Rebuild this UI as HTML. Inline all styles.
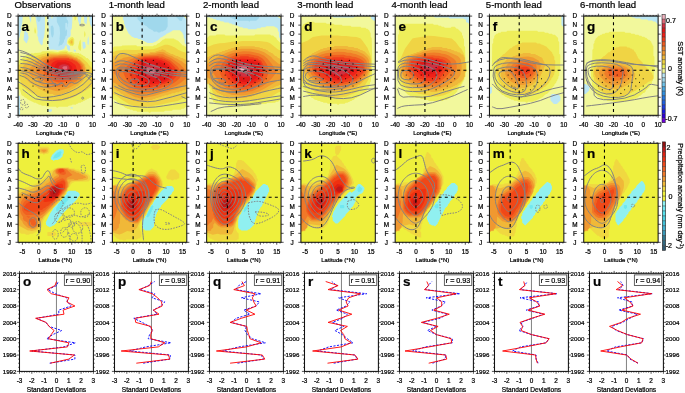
<!DOCTYPE html><html><head><meta charset="utf-8"><style>html,body{margin:0;padding:0;background:#fff;width:685px;height:393px;overflow:hidden;position:relative}</style></head><body><svg width="685" height="393" viewBox="0 0 685 393" style="position:absolute;left:0;top:0" font-family="'Liberation Sans', sans-serif">
<rect width="685" height="393" fill="#fff"/>
<clipPath id="ca0"><rect x="18.10" y="16.10" width="74.40" height="99.20"/></clipPath>
<g clip-path="url(#ca0)">
<rect x="18.10" y="16.10" width="74.40" height="99.20" fill="#f2f89c"/>
<path d="M19.1 16.1 22.7 16.1 22.6 19.1 22.2 23.0 20.8 29.0 21.5 30.0 21.3 31.0 20.3 33.0 19.6 36.9 18.1 40.8 18.1 16.1ZM29.0 16.1 31.4 16.1 31.0 23.0 29.6 19.1 29.0 16.1ZM36.0 16.1 44.5 16.1 44.9 17.1 45.0 27.0 44.6 33.0 43.9 37.4 42.9 40.2 42.7 43.9 41.9 45.4 39.9 43.6 39.4 42.9 39.4 41.9 38.4 40.9 38.1 36.9 37.3 35.9 37.6 31.0 37.2 30.0 37.1 27.0 35.2 16.1ZM47.9 16.2 51.2 16.1 51.8 19.0 52.5 18.1 52.9 16.1 71.9 16.1 72.4 17.1 72.2 23.0 71.7 29.0 70.7 30.0 70.8 34.9 69.8 36.9 68.7 37.3 67.3 38.9 66.7 43.9 68.7 45.6 69.8 45.9 70.1 46.9 69.8 48.8 70.3 49.8 69.7 50.4 68.7 50.7 67.1 48.8 66.7 45.7 65.7 45.3 64.1 48.8 61.7 49.7 57.8 50.3 52.8 49.6 50.8 49.8 49.2 48.8 48.2 44.9 48.8 31.0 48.5 26.0 47.8 25.0 47.2 22.1 48.0 21.1 47.3 18.1 47.7 17.1ZM78.6 16.1 81.4 16.1 80.6 23.4 80.2 25.0 79.6 25.3 77.9 20.1 77.6 16.1ZM84.6 16.1 87.4 16.1 86.5 24.9 86.2 24.0 84.6 23.0 84.1 21.1 84.0 16.1ZM89.5 16.1 92.5 16.1 92.5 35.6 91.5 33.0 92.2 28.0 89.9 24.0 89.9 22.1 89.3 21.1 89.5 18.1 89.0 16.1ZM25.0 28.4 25.8 30.0 25.8 31.0 27.0 32.5 27.9 33.0 27.9 34.9 28.5 35.9 28.6 37.9 26.9 42.9 26.0 43.3 25.4 41.9 23.6 39.9 24.6 29.0ZM87.5 29.2 87.5 33.7 87.5 30.0ZM88.5 36.2 88.9 41.9 88.5 45.3 87.5 44.0 87.4 42.9 87.5 39.5 88.1 36.9ZM82.6 41.7 84.9 41.9 85.8 45.9 85.5 47.8 83.6 49.2 82.6 47.1 82.5 41.9ZM18.2 46.9 19.0 49.8 18.1 51.5 18.1 46.5ZM73.7 49.8 74.6 49.5 75.6 50.3 76.1 50.8 75.6 51.7 74.6 51.6 73.8 50.8 73.6 49.8ZM19.1 95.4 20.1 96.5 20.1 114.3 19.1 115.3 18.1 115.3 18.1 95.2ZM70.7 107.3 72.7 107.3 72.7 108.4 70.7 108.4 70.6 107.4ZM48.9 109.3 51.8 109.3 51.9 111.3 50.8 111.4 49.8 112.4 47.8 110.3 48.8 109.3Z" fill="#bce6f4"/>
<path d="M36.9 16.1 41.0 16.1 40.4 20.1 39.9 21.2 38.9 21.7 37.9 21.4 36.9 18.7 36.6 16.1ZM56.8 16.1 66.3 16.1 66.6 19.1 67.7 20.3 68.3 22.1 67.7 27.5 67.4 27.0 67.5 24.0 66.7 22.7 65.4 23.0 65.3 27.0 65.7 31.0 66.7 28.9 67.2 31.0 66.7 35.8 65.7 35.9 65.0 38.9 64.1 39.9 63.9 41.9 61.7 45.1 59.8 45.3 58.8 46.7 58.5 44.9 59.8 39.9 59.5 38.9 60.1 33.0 59.5 27.0 56.9 22.1 56.7 16.1ZM50.8 25.9 52.8 25.4 53.7 28.0 53.8 33.9 52.8 37.4 51.8 36.9 51.0 34.0 50.6 29.0 50.8 26.0Z" fill="#a0d8ec"/>
<path d="M74.6 16.1 76.5 16.1 76.1 19.1 75.6 20.0 74.6 20.6 74.2 16.1ZM35.0 27.0 36.0 31.0 36.0 32.3 35.0 34.1 34.2 31.0 34.7 28.0ZM84.6 31.1 85.4 33.0 85.6 34.9 84.6 37.5 84.0 34.9 84.3 32.0ZM70.7 37.5 72.7 37.1 74.2 38.9 74.2 43.9 72.7 46.2 71.7 45.8 70.7 46.0 67.9 42.9 67.7 41.8 68.5 39.9 70.1 37.9ZM80.6 39.5 81.2 48.8 80.6 51.1 78.6 49.2 78.1 46.9 79.6 40.9 80.4 39.9ZM62.7 50.8 65.7 50.4 67.7 51.2 68.7 52.2 71.7 52.0 73.7 53.1 74.6 53.2 75.6 52.8 76.6 53.3 78.6 52.9 79.6 53.9 80.6 53.6 81.6 54.8 82.6 54.9 83.6 56.1 84.6 56.3 86.5 58.2 87.5 58.1 91.5 62.2 92.5 62.3 92.5 96.7 91.5 97.7 89.5 97.8 88.5 98.7 87.5 98.7 86.5 99.7 85.6 99.7 84.6 100.7 83.6 100.7 82.6 101.7 81.6 101.7 80.6 102.7 78.6 102.7 77.6 103.7 76.6 103.7 75.6 104.7 72.7 104.6 71.7 105.2 68.7 105.7 67.7 106.7 58.8 106.8 57.8 107.7 56.8 107.7 55.8 106.8 46.9 106.7 45.9 105.7 41.9 105.7 40.9 104.7 38.9 104.7 37.9 103.7 36.9 103.7 36.0 102.8 34.0 102.7 33.0 101.8 32.0 101.7 31.0 100.8 30.0 100.8 29.0 99.8 28.0 99.8 26.0 97.8 25.0 97.8 23.1 95.8 22.1 95.8 21.3 94.5 20.1 89.8 18.1 88.7 18.1 61.2 19.1 60.2 20.1 60.2 24.1 56.3 25.0 56.1 26.0 55.2 27.0 55.3 28.0 54.1 30.0 54.2 31.0 53.3 34.0 53.4 35.0 52.8 36.0 53.0 40.9 52.5 41.9 51.4 42.9 51.3 51.8 51.2 57.8 51.9 59.8 51.2 62.7 50.8Z" fill="#eeee5a"/>
<path d="M71.7 38.7 72.7 38.8 73.2 39.9 73.4 42.9 72.7 44.9 70.7 44.6 68.4 41.9 71.6 38.9ZM49.8 52.6 57.8 53.2 59.8 52.6 66.7 52.1 67.7 53.2 68.7 53.6 70.7 53.6 71.7 54.2 74.6 54.8 75.6 55.4 77.6 55.4 81.6 57.5 87.5 62.7 88.7 64.7 92.5 68.7 92.5 86.1 82.6 92.4 73.1 97.4 64.7 100.3 57.8 101.0 52.8 100.9 49.8 100.4 44.9 99.3 41.9 98.1 32.0 93.2 22.1 86.3 21.1 83.8 20.4 80.6 19.4 79.6 19.1 77.7 18.1 76.6 18.1 65.7 25.4 59.7 29.0 57.8 31.0 57.3 33.0 56.1 36.0 56.0 44.9 53.5 45.9 53.3 47.9 53.9 49.5 52.8Z" fill="#f0d444"/>
<path d="M71.7 40.4 72.2 40.9 72.3 42.9 71.7 43.4 70.9 42.9 70.6 41.9 71.1 40.9ZM49.8 54.1 57.8 54.3 65.7 53.9 68.7 54.3 69.7 55.1 71.7 55.2 72.7 56.1 73.7 56.2 74.6 57.1 76.6 57.1 78.6 59.0 79.6 59.1 85.3 64.7 85.3 66.7 86.3 67.7 86.4 73.6 85.4 74.6 85.4 76.6 84.4 77.6 84.4 78.6 83.4 79.6 83.4 80.6 77.6 86.3 76.6 86.3 74.6 88.3 73.7 88.3 72.7 89.2 71.7 89.3 69.7 91.2 68.7 91.2 67.7 92.2 65.7 92.2 64.7 93.1 63.7 93.1 62.7 94.1 60.8 94.1 59.8 95.1 53.8 95.1 52.8 94.1 49.8 94.1 48.9 93.1 46.9 93.1 45.9 92.1 44.9 92.1 43.9 91.1 42.9 91.1 41.9 90.1 40.9 90.1 39.9 89.1 38.9 89.1 36.9 87.1 36.0 87.1 34.0 85.2 33.0 85.1 31.0 83.2 30.0 83.1 24.5 77.6 24.5 76.6 22.5 74.6 22.6 72.6 21.6 71.7 21.7 68.7 22.7 67.7 22.7 66.7 26.0 63.3 27.0 63.3 28.0 62.3 29.0 62.3 30.0 61.3 31.0 61.3 32.0 60.3 33.0 60.2 34.0 59.3 35.0 59.3 36.0 58.4 37.9 58.2 38.9 57.2 40.9 57.2 41.9 56.2 44.9 56.1 45.9 55.2 47.9 55.4 49.2 54.8Z" fill="#f0b83a"/>
<path d="M60.8 54.7 65.7 54.8 70.7 55.9 74.6 57.8 76.6 58.0 78.6 59.7 79.6 60.1 83.9 64.7 85.1 68.7 84.9 72.6 83.8 75.6 81.5 79.6 77.2 83.6 68.7 88.1 57.8 91.2 55.8 91.1 48.9 88.9 40.9 84.6 38.4 82.6 36.9 78.3 34.0 77.6 33.0 77.7 31.6 76.6 30.0 74.6 28.5 71.7 28.3 69.7 29.0 68.7 36.0 62.6 42.9 57.9 48.9 56.3 50.8 55.2 57.8 55.2 60.1 54.8Z" fill="#f09a30"/>
<path d="M51.8 56.7 60.8 56.0 65.7 56.1 69.7 56.9 75.6 58.9 79.6 61.7 81.6 63.7 82.9 65.7 83.6 70.7 82.2 74.6 79.6 78.3 76.6 80.9 70.7 83.8 65.7 85.4 59.8 86.6 56.8 86.7 52.8 85.5 46.9 82.6 43.9 80.5 40.9 77.9 36.4 72.6 36.2 71.7 39.0 66.7 43.5 60.7 49.8 57.2 51.4 56.8Z" fill="#f07c28"/>
<path d="M53.8 57.6 64.7 57.4 68.7 57.8 69.7 58.4 72.7 58.8 73.7 59.7 74.6 59.8 76.6 60.8 80.6 64.4 81.8 66.7 82.1 70.7 80.8 73.6 78.6 76.3 75.6 78.7 68.7 81.5 58.8 82.5 55.0 81.6 51.8 80.1 48.9 78.2 45.9 75.6 43.9 72.6 43.6 69.7 45.2 63.7 46.1 61.7 49.9 58.8 53.3 57.8Z" fill="#f05c20"/>
<path d="M53.8 58.5 68.7 58.5 69.7 59.4 72.7 59.6 73.7 60.5 74.6 60.5 75.6 61.5 76.6 61.5 79.8 64.7 79.8 65.7 80.8 66.7 80.8 70.7 79.9 71.7 79.9 72.6 77.6 75.0 76.6 75.0 74.6 77.0 72.7 77.1 71.7 78.1 69.7 78.2 68.7 79.1 59.8 79.2 58.8 78.3 56.8 78.3 55.8 77.3 54.8 77.2 52.8 75.3 51.8 75.2 49.3 72.6 49.3 71.7 48.3 70.7 48.3 69.7 47.4 68.7 47.5 62.7 50.8 59.5 52.8 59.5 53.6 58.8Z" fill="#f03c1c"/>
<path d="M55.8 60.7 57.8 60.3 65.7 60.2 70.9 61.7 75.0 64.7 75.7 65.7 76.6 68.7 76.2 70.7 72.9 74.6 67.7 77.1 62.7 77.6 57.8 76.5 52.0 71.7 50.8 66.7 51.1 64.7 52.5 62.7 55.6 60.7Z" fill="#f02018"/>
<path d="M57.8 62.3 65.7 62.2 66.7 63.1 68.7 63.2 72.2 66.7 72.2 70.7 71.2 71.7 71.2 72.6 70.7 73.1 69.7 73.1 67.7 75.0 63.7 75.1 62.7 76.0 61.7 75.0 58.8 74.9 54.4 70.7 54.3 66.7 55.3 65.7 55.3 64.7 57.4 62.7Z" fill="#e01818"/>
<path d="M61.7 64.6 64.7 64.2 67.7 64.9 68.7 65.7 69.6 67.7 69.5 69.7 68.9 70.7 65.7 72.6 62.7 72.4 60.8 71.5 58.3 68.7 58.8 66.7 59.4 65.7 61.5 64.7Z" fill="#d03040"/>
<path d="M63.7 66.2 66.7 66.3 67.2 66.7 67.2 68.7 66.7 69.2 65.7 69.2 64.7 70.2 62.2 67.7 63.2 66.7Z" fill="#e06878"/>
<path d="M20.4 52.4 22.1 52.8 25.7 53.6 30.2 55.3 35.8 58.1 40.9 61.3 45.6 64.8 50.8 67.6 56.3 69.5 61.8 70.9 67.3 71.7 73.7 72.3 80.8 72.7 85.7 73.7 88.5 75.3 89.8 76.1M20.4 56.3 22.1 56.5 25.7 56.9 29.8 58.3 34.6 60.7 39.3 63.4 44.1 66.6 49.2 69.1 54.7 71.1 60.6 72.4 66.9 73.1 73.7 73.5 80.8 73.8 84.3 74.0M20.4 59.5 22.5 59.9 26.9 60.7 31.0 62.0 35.0 64.0 39.3 66.2 44.1 68.6 49.2 70.7 54.7 72.7 60.6 73.9 66.9 74.3 73.3 74.7 79.6 75.1 82.7 75.3M20.4 63.4 22.5 63.6 26.9 64.0 31.4 65.2 36.2 67.2 40.9 69.1 45.6 71.1 50.8 72.9 56.3 74.5 61.8 75.5 67.3 75.9 72.9 76.2 78.4 76.4 81.2 76.5M20.4 67.4 22.1 67.6 25.7 68.0 29.1 69.1 32.2 71.1 35.8 72.9 39.7 74.5 44.4 75.7 50.0 76.4 55.9 77.0 62.2 77.4 68.5 77.8 74.8 78.0 78.0 78.1M43.0 79.8 42.6 80.4 41.8 80.8 40.6 81.2 39.3 81.3 37.8 81.3 36.5 81.2 35.3 80.8 34.5 80.4 34.0 79.8 34.0 79.2 34.5 78.7 35.3 78.2 36.5 77.9 37.8 77.7 39.3 77.7 40.6 77.9 41.8 78.2 42.6 78.7 43.0 79.2ZM18.0 50.0 19.6 50.4 22.7 51.2 27.1 53.0 32.6 55.7 37.7 58.9 42.5 62.4 47.6 65.4 53.1 67.8 59.1 69.5 65.4 70.7 72.5 71.5 80.4 71.9 86.5 72.5 90.8 73.3 93.0 73.7M20.4 70.5 22.1 70.9 25.7 71.7 29.4 72.9 33.4 74.5 37.7 76.1 42.5 77.6 47.6 78.6 53.1 79.0 59.1 79.2 65.4 79.2 71.7 79.1 78.0 79.0 81.2 78.9M20.4 72.9 21.8 73.1 24.5 73.5 27.1 74.5 29.4 76.1 32.2 78.0 35.4 80.4 39.3 82.2 44.1 83.4 48.8 83.8 53.5 83.6 55.9 83.5M19.6 75.3 21.2 75.9 24.3 77.0 27.5 79.0 30.6 81.8 34.6 84.1 39.3 86.1 43.7 87.1 47.6 87.1 51.2 86.7 54.3 85.9 57.5 84.9 60.6 83.8 62.2 83.2M18.0 81.6 20.0 82.8 23.9 85.1 27.9 87.9 31.8 91.1 35.0 93.8 37.3 96.2 41.3 97.4 46.8 97.4 53.5 96.6 61.4 95.0 69.3 92.2 77.2 88.3 83.1 84.3 87.1 80.4 90.0 77.6 92.0 76.1 93.0 75.3M22.7 89.5 24.7 91.1 28.7 94.2 32.2 96.8 35.4 98.8 42.1 100.0 52.3 100.6 61.4 99.8 69.3 97.6 76.0 95.0 81.6 91.8 86.5 88.1 90.8 83.8 93.0 81.6M49.6 78.4 51.2 80.4 54.3 84.3 57.5 85.1 60.6 82.8 63.0 83.2 64.6 86.3 66.6 86.3 68.9 83.2 71.5 82.2 74.3 83.4 77.0 83.0 79.8 81.0 82.7 78.8 85.9 76.4 87.5 75.3M84.3 73.7 85.3 74.7 87.3 76.6 89.5 78.8 91.8 81.2 93.0 82.4M88.3 79.2 89.5 77.4 91.8 73.9 93.0 72.1M83.6 98.3 83.6 98.6 83.4 98.9 83.2 99.1 82.9 99.2 82.6 99.2 82.3 99.1 82.1 98.9 81.9 98.6 81.8 98.3 81.8 98.0 81.9 97.7 82.1 97.4 82.3 97.2 82.6 97.1 82.9 97.1 83.2 97.2 83.4 97.4 83.6 97.7 83.6 98.0ZM84.5 25.2 84.3 25.4 83.8 25.6 83.2 25.7 82.5 25.8 81.7 25.8 81.0 25.7 80.4 25.6 79.9 25.4 79.7 25.2 79.7 24.9 79.9 24.7 80.4 24.5 81.0 24.4 81.7 24.3 82.5 24.3 83.2 24.4 83.8 24.5 84.3 24.7 84.5 24.9Z" fill="none" stroke="#828282" stroke-width="1.0" stroke-linejoin="round"/>
<path d="M24.8 102.5 24.6 103.4 24.2 104.0 23.7 104.6 23.1 104.8 22.4 104.8 21.8 104.6 21.2 104.0 20.8 103.4 20.6 102.5 20.6 101.7 20.8 100.9 21.2 100.2 21.8 99.7 22.4 99.4 23.1 99.4 23.7 99.7 24.2 100.2 24.6 100.9 24.8 101.7ZM28.5 106.3 28.3 106.9 28.0 107.3 27.5 107.7 27.0 107.9 26.4 107.9 25.9 107.7 25.4 107.3 25.1 106.9 24.9 106.3 24.9 105.8 25.1 105.2 25.4 104.8 25.9 104.4 26.4 104.3 27.0 104.3 27.5 104.4 28.0 104.8 28.3 105.2 28.5 105.8ZM23.0 108.9 22.8 109.3 22.6 109.6 22.2 109.8 21.7 109.9 21.2 109.9 20.8 109.8 20.4 109.6 20.1 109.3 20.0 108.9 20.0 108.6 20.1 108.2 20.4 107.9 20.8 107.7 21.2 107.5 21.7 107.5 22.2 107.7 22.6 107.9 22.8 108.2 23.0 108.6Z" fill="none" stroke="#828282" stroke-width="1.0" stroke-dasharray="1.6 1.2"/>
<path d="M36.7 67.6h0.01M44.1 67.6h0.01M51.6 67.6h0.01M47.9 71.3h0.01M55.3 71.3h0.01M62.7 71.3h0.01M44.1 75.0h0.01M51.6 75.0h0.01M59.0 75.0h0.01M33.0 78.7h0.01M40.4 78.7h0.01M47.9 78.7h0.01M55.3 78.7h0.01M62.7 78.7h0.01M70.2 78.7h0.01M66.5 82.3h0.01M33.0 86.0h0.01M47.9 86.0h0.01M55.3 86.0h0.01M62.7 86.0h0.01M44.1 89.7h0.01M59.0 89.7h0.01" stroke="#000" stroke-width="1.15" stroke-linecap="round"/>
</g>
<path d="M15.50 16.10h2.60M92.50 16.10h2.60M15.50 25.12h2.60M92.50 25.12h2.60M15.50 34.14h2.60M92.50 34.14h2.60M15.50 43.15h2.60M92.50 43.15h2.60M15.50 52.17h2.60M92.50 52.17h2.60M15.50 61.19h2.60M92.50 61.19h2.60M15.50 70.21h2.60M92.50 70.21h2.60M15.50 79.23h2.60M92.50 79.23h2.60M15.50 88.25h2.60M92.50 88.25h2.60M15.50 97.26h2.60M92.50 97.26h2.60M15.50 106.28h2.60M92.50 106.28h2.60M15.50 115.30h2.60M92.50 115.30h2.60M18.10 16.10v-2.40M18.10 115.30v2.40M19.59 16.10v-1.20M19.59 115.30v1.20M21.08 16.10v-1.20M21.08 115.30v1.20M22.56 16.10v-1.20M22.56 115.30v1.20M24.05 16.10v-1.20M24.05 115.30v1.20M25.54 16.10v-1.20M25.54 115.30v1.20M27.03 16.10v-1.20M27.03 115.30v1.20M28.52 16.10v-1.20M28.52 115.30v1.20M30.00 16.10v-1.20M30.00 115.30v1.20M31.49 16.10v-1.20M31.49 115.30v1.20M32.98 16.10v-2.40M32.98 115.30v2.40M34.47 16.10v-1.20M34.47 115.30v1.20M35.96 16.10v-1.20M35.96 115.30v1.20M37.44 16.10v-1.20M37.44 115.30v1.20M38.93 16.10v-1.20M38.93 115.30v1.20M40.42 16.10v-1.20M40.42 115.30v1.20M41.91 16.10v-1.20M41.91 115.30v1.20M43.40 16.10v-1.20M43.40 115.30v1.20M44.88 16.10v-1.20M44.88 115.30v1.20M46.37 16.10v-1.20M46.37 115.30v1.20M47.86 16.10v-2.40M47.86 115.30v2.40M49.35 16.10v-1.20M49.35 115.30v1.20M50.84 16.10v-1.20M50.84 115.30v1.20M52.32 16.10v-1.20M52.32 115.30v1.20M53.81 16.10v-1.20M53.81 115.30v1.20M55.30 16.10v-1.20M55.30 115.30v1.20M56.79 16.10v-1.20M56.79 115.30v1.20M58.28 16.10v-1.20M58.28 115.30v1.20M59.76 16.10v-1.20M59.76 115.30v1.20M61.25 16.10v-1.20M61.25 115.30v1.20M62.74 16.10v-2.40M62.74 115.30v2.40M64.23 16.10v-1.20M64.23 115.30v1.20M65.72 16.10v-1.20M65.72 115.30v1.20M67.20 16.10v-1.20M67.20 115.30v1.20M68.69 16.10v-1.20M68.69 115.30v1.20M70.18 16.10v-1.20M70.18 115.30v1.20M71.67 16.10v-1.20M71.67 115.30v1.20M73.16 16.10v-1.20M73.16 115.30v1.20M74.64 16.10v-1.20M74.64 115.30v1.20M76.13 16.10v-1.20M76.13 115.30v1.20M77.62 16.10v-2.40M77.62 115.30v2.40M79.11 16.10v-1.20M79.11 115.30v1.20M80.60 16.10v-1.20M80.60 115.30v1.20M82.08 16.10v-1.20M82.08 115.30v1.20M83.57 16.10v-1.20M83.57 115.30v1.20M85.06 16.10v-1.20M85.06 115.30v1.20M86.55 16.10v-1.20M86.55 115.30v1.20M88.04 16.10v-1.20M88.04 115.30v1.20M89.52 16.10v-1.20M89.52 115.30v1.20M91.01 16.10v-1.20M91.01 115.30v1.20M92.50 16.10v-2.40M92.50 115.30v2.40" stroke="#111" stroke-width="0.75" fill="none"/>
<path d="M47.86 16.10V115.30M18.10 70.21H92.50" stroke="#000" stroke-width="1.1" stroke-dasharray="3 3.2" fill="none"/>
<rect x="18.10" y="16.10" width="74.40" height="99.20" fill="none" stroke="#111" stroke-width="1.05"/>
<clipPath id="ca1"><rect x="112.37" y="16.10" width="74.40" height="99.20"/></clipPath>
<g clip-path="url(#ca1)">
<rect x="112.37" y="16.10" width="74.40" height="99.20" fill="#f2f89c"/>
<path d="M122.3 16.1 183.6 16.1 185.8 18.6 186.8 18.6 186.8 44.5 185.8 44.3 184.6 42.9 184.6 38.9 183.6 37.9 183.6 34.9 182.6 34.0 182.6 33.0 179.8 30.3 172.9 30.3 171.9 31.3 170.9 31.4 169.9 32.4 168.9 32.4 167.9 33.4 166.9 33.4 164.9 35.4 164.0 35.4 162.0 37.3 161.0 37.3 157.0 41.1 156.0 41.2 155.0 42.2 154.0 42.1 153.0 43.1 147.1 43.1 146.1 42.1 145.1 42.1 144.1 41.1 143.1 41.1 142.1 40.1 141.1 40.1 140.1 39.1 138.2 39.1 137.2 38.1 134.2 38.1 133.2 37.1 132.2 37.1 128.1 33.0 128.1 32.0 127.1 31.0 127.1 30.0 126.1 29.0 126.1 28.0 125.1 27.0 125.1 25.0 124.1 24.0 124.1 21.1 123.1 20.1 123.1 17.1 122.1 16.1Z" fill="#bce6f4"/>
<path d="M138.2 16.1 166.7 16.1 166.7 17.1 167.7 18.1 167.6 27.0 166.5 28.0 166.5 29.0 164.9 30.5 164.0 30.5 163.0 31.5 161.0 31.6 160.0 32.6 158.0 32.6 157.0 31.6 154.0 31.7 152.1 29.8 151.1 29.8 150.1 28.8 149.1 28.8 146.1 25.8 145.1 25.8 143.1 23.8 142.1 23.8 137.4 19.1 137.4 16.1ZM176.9 16.1 183.0 16.1 183.2 18.1 182.3 19.1 182.3 20.1 181.8 20.7 179.8 20.7 176.2 17.1 176.2 16.1Z" fill="#a0d8ec"/>
<path d="M164.9 38.5 173.9 38.5 174.9 39.5 175.9 39.5 176.9 40.5 177.8 40.5 182.8 45.4 183.8 45.4 184.8 46.5 186.8 47.1 186.8 104.8 186.2 105.4 186.1 106.4 183.8 108.7 181.8 108.7 180.8 109.7 172.9 109.7 171.9 110.7 164.9 110.7 164.0 111.7 151.1 111.8 150.1 112.8 149.1 112.8 148.1 111.8 137.2 111.8 136.2 110.8 133.2 110.8 132.2 109.8 130.2 109.8 129.2 108.9 127.2 108.8 126.3 107.9 125.3 107.8 123.3 105.9 122.3 105.9 120.3 103.9 119.3 103.9 115.3 99.9 114.4 99.9 113.4 98.9 112.4 98.9 112.4 48.3 114.4 46.4 121.3 46.3 122.3 45.4 136.2 45.3 137.2 46.3 153.0 46.3 154.0 45.3 156.0 45.3 158.0 43.3 159.0 43.3 163.0 39.4 164.0 39.4 164.5 38.9Z" fill="#eeee5a"/>
<path d="M164.9 44.7 167.9 44.7 170.9 45.7 174.9 47.5 178.2 49.8 181.8 51.6 186.8 52.9 186.8 97.3 182.8 98.4 177.8 101.1 171.9 101.9 161.0 104.6 149.1 106.4 139.2 106.8 135.2 106.2 129.2 104.2 122.3 100.1 116.3 95.5 112.4 93.8 112.4 52.3 116.3 50.8 124.3 49.8 135.2 50.1 153.0 49.3 157.0 48.1 164.2 44.9Z" fill="#f0d444"/>
<path d="M162.0 49.2 163.0 49.2 164.0 50.2 164.9 50.1 166.9 52.1 167.9 52.0 168.9 53.0 169.9 53.0 170.9 54.0 172.9 54.0 173.9 55.0 174.9 55.0 175.9 56.0 177.8 56.1 178.8 57.1 179.8 57.1 180.8 58.1 182.8 58.1 183.8 59.1 184.8 59.1 186.8 61.0 186.8 88.2 184.8 90.2 182.8 90.2 181.8 91.2 179.8 91.2 178.8 92.2 175.9 92.2 174.9 93.2 171.9 93.2 170.9 94.2 168.9 94.2 167.9 95.2 164.9 95.2 164.0 96.2 162.0 96.2 161.0 97.2 159.0 97.2 158.0 98.1 156.0 98.1 155.0 99.1 153.0 99.1 152.1 100.1 149.1 100.1 148.1 101.0 144.1 101.0 143.1 102.0 137.2 102.0 136.2 101.0 133.2 101.0 132.2 100.0 131.2 100.0 130.2 99.0 129.2 99.0 128.2 98.0 127.2 98.0 126.3 97.0 125.3 97.0 122.3 94.0 121.3 94.0 118.3 91.0 117.3 91.0 115.3 89.0 114.4 89.0 113.4 88.0 112.4 88.0 112.4 57.3 113.4 56.3 114.4 56.3 115.3 55.3 120.3 55.2 121.3 54.3 137.2 54.1 138.2 53.1 149.1 53.0 150.1 52.1 155.0 52.1 156.0 51.2 158.0 51.1 159.0 50.2 161.0 50.2 161.4 49.8Z" fill="#f0b83a"/>
<path d="M157.0 52.6 160.0 51.9 164.0 52.2 165.9 53.6 169.9 55.5 171.9 56.0 174.9 57.9 176.9 58.5 179.8 60.5 181.8 61.2 184.8 63.7 186.8 64.7 186.8 84.1 184.8 85.0 182.8 86.5 176.9 89.2 170.9 90.6 166.9 92.3 164.0 92.7 154.0 95.9 141.1 98.4 139.2 98.3 137.2 97.5 135.2 97.3 129.2 94.3 127.2 93.2 123.3 90.0 117.3 84.7 115.3 83.3 112.4 82.2 112.4 63.0 114.4 62.1 117.3 60.0 121.3 59.0 123.3 57.8 137.2 55.4 139.2 54.5 143.1 54.1 149.1 54.0 151.1 53.3 155.0 53.3 156.5 52.8Z" fill="#f09a30"/>
<path d="M156.0 54.7 158.0 54.3 163.0 54.3 164.9 55.5 170.9 58.0 179.8 63.9 184.2 68.7 186.8 70.8 186.8 77.8 181.2 82.6 176.5 85.5 172.9 87.0 165.9 89.4 164.0 89.6 159.0 91.4 153.0 92.8 140.1 94.3 135.2 92.7 129.8 89.5 125.3 85.5 118.3 77.6 113.4 72.6 119.3 66.0 124.3 62.4 127.2 60.8 133.2 58.3 143.1 55.4 155.0 54.8Z" fill="#f07c28"/>
<path d="M144.1 56.5 158.0 56.0 160.0 56.7 162.0 56.5 169.9 59.9 177.8 66.7 180.9 71.7 181.7 74.6 179.4 78.6 174.6 82.6 170.9 84.4 168.9 84.8 165.9 86.3 163.0 86.7 159.0 88.3 155.0 88.7 152.1 89.7 142.1 90.3 137.2 89.1 133.2 86.6 128.8 82.6 125.4 77.6 123.2 72.6 123.9 70.7 126.3 66.9 129.6 63.7 135.2 60.0 138.2 58.5 143.3 56.8Z" fill="#f05c20"/>
<path d="M144.1 57.4 158.0 57.4 159.0 58.3 162.0 58.3 163.0 59.2 164.9 59.3 165.9 60.3 166.9 60.3 167.9 61.3 168.9 61.3 175.3 67.7 175.4 68.7 176.3 69.7 176.4 71.7 177.3 72.6 177.4 73.6 176.4 74.6 176.4 76.6 171.9 81.1 170.9 81.1 169.9 82.1 167.9 82.2 166.9 83.2 165.9 83.2 164.9 84.1 162.0 84.2 161.0 85.1 159.0 85.2 158.0 86.1 153.0 86.1 152.1 87.0 150.1 87.1 142.1 87.0 141.1 86.0 139.2 86.0 137.2 84.0 136.2 84.0 131.8 79.6 131.7 78.6 130.8 77.6 130.7 76.6 129.8 75.6 129.7 73.6 128.8 72.6 128.8 71.7 129.8 70.7 129.8 68.7 131.8 66.7 131.8 65.7 135.8 61.7 137.2 61.3 139.2 59.4 141.1 59.3 142.1 58.3 143.1 58.3 143.7 57.8Z" fill="#f03c1c"/>
<path d="M144.1 59.3 145.1 58.8 155.0 58.8 158.0 59.6 161.0 59.9 164.9 61.7 167.9 63.7 172.1 68.7 173.4 71.7 173.1 75.6 170.9 78.6 168.9 80.0 164.0 82.6 160.0 83.6 150.1 84.5 144.1 83.3 141.1 81.8 136.7 77.6 134.8 73.6 134.6 71.7 135.6 67.7 137.2 64.7 140.1 61.3 143.1 59.7Z" fill="#f02018"/>
<path d="M145.1 60.4 155.0 60.4 156.0 61.4 160.0 61.5 161.0 62.4 162.0 62.5 163.0 63.4 164.0 63.5 168.2 67.7 168.2 68.7 169.2 69.7 169.2 70.7 170.2 71.7 170.2 74.6 169.2 75.6 169.2 76.6 165.9 79.8 164.9 79.8 164.0 80.8 162.0 80.8 161.0 81.8 151.1 81.9 150.1 81.0 148.1 81.0 147.1 80.1 146.1 80.1 144.1 78.1 143.1 78.1 142.6 77.6 142.6 76.6 140.6 74.6 140.5 73.6 139.6 72.6 139.7 66.7 140.7 65.7 140.7 64.7 141.7 63.7 141.8 62.7 143.1 61.4 144.1 61.4 144.8 60.7Z" fill="#e01818"/>
<path d="M146.1 64.5 148.1 63.8 150.1 63.8 153.0 64.2 158.0 66.1 159.7 67.7 161.0 69.7 162.0 72.6 161.7 73.6 159.0 76.2 156.0 77.4 153.0 77.6 148.1 76.6 146.1 75.2 144.1 73.1 143.1 70.7 143.4 67.7 144.1 66.2 145.6 64.7Z" fill="#d03040"/>
<path d="M149.1 67.1 150.1 68.0 153.0 68.0 154.7 69.7 154.7 72.6 154.0 73.3 149.1 73.3 148.1 72.3 146.5 70.7 146.5 68.7 147.1 68.1 148.4 67.7Z" fill="#e06878"/>
<path d="M150.1 70.3 152.1 70.3 152.4 70.7 151.1 71.1 149.5 70.7Z" fill="#f0b4c0"/>
<path d="M115.2 59.5 115.9 58.1 117.5 55.3 119.9 53.8 123.1 53.4 127.4 54.3 132.9 56.7 138.4 59.3 144.0 62.0 149.9 64.4 156.2 66.4 162.5 68.2 168.8 69.7 175.8 70.9 183.3 71.7 187.0 72.1M115.2 62.6 116.7 62.0 119.9 60.9 123.8 60.9 128.6 62.0 134.1 63.6 140.4 65.6 146.7 67.6 153.1 69.5 159.4 71.1 165.7 72.3 173.4 73.3 182.5 74.1 187.0 74.5M115.2 65.8 116.7 65.2 119.9 64.0 123.8 64.0 128.6 65.2 134.1 66.6 140.4 68.2 146.7 69.7 153.1 71.3 159.4 72.8 165.7 74.2 173.4 75.3 182.5 76.1 187.0 76.5M117.3 68.4 120.1 67.2 124.2 67.2 129.8 68.4 135.3 69.7 140.8 71.3 145.6 72.9 149.5 74.5 153.4 76.3 157.4 78.2 159.8 80.2 160.6 82.2 159.8 84.3 157.4 86.7 153.1 88.3 146.7 89.1 140.4 89.1 134.1 88.3 128.6 86.7 123.8 84.3 120.3 81.6 117.9 78.4 116.5 74.9 116.1 70.9ZM132.1 79.2 137.7 79.2 139.2 80.6 136.9 83.4 134.9 84.7 133.3 84.7 131.7 83.4 130.2 80.6ZM119.9 71.9 123.1 71.5 127.4 71.9 132.9 73.1 138.1 74.5 142.8 76.1 146.3 77.8 148.7 79.8 149.1 82.0 147.5 84.3 144.0 85.5 138.4 85.5 132.9 84.5 127.4 82.6 123.3 80.4 120.5 78.0 118.9 75.7 118.5 73.3ZM116.7 69.7 118.3 69.5 121.5 68.9 127.0 69.2 134.9 70.3 142.4 71.6 149.5 73.0 156.6 74.5 163.7 76.1 168.8 77.8 172.0 79.8 172.4 82.2 170.0 84.9 166.5 87.3 161.7 89.3 155.4 90.7 147.5 91.4 139.6 91.4 131.7 90.7 125.4 89.1 120.7 86.7 118.3 85.5M114.4 86.3 116.1 87.1 119.7 88.7 124.2 90.5 129.8 92.4 135.3 94.0 140.8 95.2 146.7 95.0 153.1 93.4 159.8 91.6 166.9 89.7 174.6 87.9 182.9 86.3 187.0 85.5M114.4 92.6 116.1 93.4 119.7 95.0 125.0 97.0 132.1 99.3 139.6 100.9 147.5 101.7 155.4 101.1 163.3 99.1 172.2 96.8 182.1 94.0 187.0 92.6M114.4 102.1 116.1 102.7 119.7 103.9 125.0 105.1 132.1 106.3 139.6 107.0 147.5 107.4 155.4 107.0 163.3 105.9 172.2 104.5 182.1 102.9 187.0 102.1M181.5 96.6 182.9 97.2 185.6 98.4 187.0 98.9" fill="none" stroke="#828282" stroke-width="1.0" stroke-linejoin="round"/>
<path d="M138.4 60.3h0.01M145.8 60.3h0.01M153.3 60.3h0.01M134.7 63.9h0.01M142.1 63.9h0.01M149.6 63.9h0.01M157.0 63.9h0.01M164.4 63.9h0.01M131.0 67.6h0.01M138.4 67.6h0.01M145.8 67.6h0.01M153.3 67.6h0.01M160.7 67.6h0.01M168.2 67.6h0.01M127.2 71.3h0.01M134.7 71.3h0.01M142.1 71.3h0.01M149.6 71.3h0.01M157.0 71.3h0.01M164.4 71.3h0.01M131.0 75.0h0.01M138.4 75.0h0.01M145.8 75.0h0.01M153.3 75.0h0.01M160.7 75.0h0.01M168.2 75.0h0.01M127.2 78.7h0.01M134.7 78.7h0.01M142.1 78.7h0.01M149.6 78.7h0.01M157.0 78.7h0.01M164.4 78.7h0.01M131.0 82.3h0.01M138.4 82.3h0.01M145.8 82.3h0.01M153.3 82.3h0.01M160.7 82.3h0.01M168.2 82.3h0.01M134.7 86.0h0.01M142.1 86.0h0.01M149.6 86.0h0.01M157.0 86.0h0.01M164.4 86.0h0.01M145.8 89.7h0.01M153.3 89.7h0.01" stroke="#000" stroke-width="1.15" stroke-linecap="round"/>
</g>
<path d="M109.77 16.10h2.60M186.77 16.10h2.60M109.77 25.12h2.60M186.77 25.12h2.60M109.77 34.14h2.60M186.77 34.14h2.60M109.77 43.15h2.60M186.77 43.15h2.60M109.77 52.17h2.60M186.77 52.17h2.60M109.77 61.19h2.60M186.77 61.19h2.60M109.77 70.21h2.60M186.77 70.21h2.60M109.77 79.23h2.60M186.77 79.23h2.60M109.77 88.25h2.60M186.77 88.25h2.60M109.77 97.26h2.60M186.77 97.26h2.60M109.77 106.28h2.60M186.77 106.28h2.60M109.77 115.30h2.60M186.77 115.30h2.60M112.37 16.10v-2.40M112.37 115.30v2.40M113.86 16.10v-1.20M113.86 115.30v1.20M115.35 16.10v-1.20M115.35 115.30v1.20M116.83 16.10v-1.20M116.83 115.30v1.20M118.32 16.10v-1.20M118.32 115.30v1.20M119.81 16.10v-1.20M119.81 115.30v1.20M121.30 16.10v-1.20M121.30 115.30v1.20M122.79 16.10v-1.20M122.79 115.30v1.20M124.27 16.10v-1.20M124.27 115.30v1.20M125.76 16.10v-1.20M125.76 115.30v1.20M127.25 16.10v-2.40M127.25 115.30v2.40M128.74 16.10v-1.20M128.74 115.30v1.20M130.23 16.10v-1.20M130.23 115.30v1.20M131.71 16.10v-1.20M131.71 115.30v1.20M133.20 16.10v-1.20M133.20 115.30v1.20M134.69 16.10v-1.20M134.69 115.30v1.20M136.18 16.10v-1.20M136.18 115.30v1.20M137.67 16.10v-1.20M137.67 115.30v1.20M139.15 16.10v-1.20M139.15 115.30v1.20M140.64 16.10v-1.20M140.64 115.30v1.20M142.13 16.10v-2.40M142.13 115.30v2.40M143.62 16.10v-1.20M143.62 115.30v1.20M145.11 16.10v-1.20M145.11 115.30v1.20M146.59 16.10v-1.20M146.59 115.30v1.20M148.08 16.10v-1.20M148.08 115.30v1.20M149.57 16.10v-1.20M149.57 115.30v1.20M151.06 16.10v-1.20M151.06 115.30v1.20M152.55 16.10v-1.20M152.55 115.30v1.20M154.03 16.10v-1.20M154.03 115.30v1.20M155.52 16.10v-1.20M155.52 115.30v1.20M157.01 16.10v-2.40M157.01 115.30v2.40M158.50 16.10v-1.20M158.50 115.30v1.20M159.99 16.10v-1.20M159.99 115.30v1.20M161.47 16.10v-1.20M161.47 115.30v1.20M162.96 16.10v-1.20M162.96 115.30v1.20M164.45 16.10v-1.20M164.45 115.30v1.20M165.94 16.10v-1.20M165.94 115.30v1.20M167.43 16.10v-1.20M167.43 115.30v1.20M168.91 16.10v-1.20M168.91 115.30v1.20M170.40 16.10v-1.20M170.40 115.30v1.20M171.89 16.10v-2.40M171.89 115.30v2.40M173.38 16.10v-1.20M173.38 115.30v1.20M174.87 16.10v-1.20M174.87 115.30v1.20M176.35 16.10v-1.20M176.35 115.30v1.20M177.84 16.10v-1.20M177.84 115.30v1.20M179.33 16.10v-1.20M179.33 115.30v1.20M180.82 16.10v-1.20M180.82 115.30v1.20M182.31 16.10v-1.20M182.31 115.30v1.20M183.79 16.10v-1.20M183.79 115.30v1.20M185.28 16.10v-1.20M185.28 115.30v1.20M186.77 16.10v-2.40M186.77 115.30v2.40" stroke="#111" stroke-width="0.75" fill="none"/>
<path d="M142.13 16.10V115.30M112.37 70.21H186.77" stroke="#000" stroke-width="1.1" stroke-dasharray="3 3.2" fill="none"/>
<rect x="112.37" y="16.10" width="74.40" height="99.20" fill="none" stroke="#111" stroke-width="1.05"/>
<clipPath id="ca2"><rect x="206.64" y="16.10" width="74.40" height="99.20"/></clipPath>
<g clip-path="url(#ca2)">
<rect x="206.64" y="16.10" width="74.40" height="99.20" fill="#f2f89c"/>
<path d="M207.6 16.1 277.2 16.1 279.1 17.9 280.0 17.9 281.0 18.9 281.0 40.0 280.0 38.9 279.9 37.9 279.0 36.9 278.9 32.0 277.9 31.0 277.9 29.0 276.1 27.2 275.1 27.2 274.1 26.2 266.2 26.3 265.2 27.3 261.2 27.3 260.2 28.3 257.2 28.3 256.2 29.3 248.3 29.3 247.3 28.3 243.3 28.3 242.4 27.3 240.4 27.3 239.4 26.4 238.4 26.4 237.4 25.4 235.4 25.4 234.4 24.4 232.4 24.4 231.4 23.4 229.5 23.4 228.5 22.4 224.5 22.4 223.5 21.4 220.5 21.3 219.5 20.3 216.6 20.3 215.6 19.3 213.6 19.3 212.6 18.3 210.6 18.2 209.6 17.2 206.6 17.2 206.6 16.1Z" fill="#bce6f4"/>
<path d="M230.4 16.1 260.0 16.1 259.0 17.1 259.0 18.1 256.2 20.8 250.3 20.8 249.3 21.7 248.3 20.8 237.4 20.7 236.4 19.7 234.4 19.7 233.4 18.7 232.4 18.7 231.4 17.7 230.4 17.7 229.8 17.1 229.8 16.1Z" fill="#a0d8ec"/>
<path d="M216.6 34.6 224.5 34.6 225.5 35.5 237.4 35.5 238.4 36.5 239.4 35.5 254.3 35.5 255.2 34.5 270.1 34.6 271.1 35.6 273.1 35.6 275.1 37.5 276.1 37.6 276.5 37.9 276.5 38.9 281.0 43.5 281.0 97.9 280.5 98.4 280.4 99.4 278.1 101.8 276.1 101.8 275.1 102.8 267.2 102.9 266.2 103.8 259.2 103.9 258.2 104.9 251.3 104.9 250.3 105.9 228.5 105.9 227.5 104.9 222.5 104.9 221.5 103.9 218.5 103.9 217.6 102.9 215.6 102.9 214.6 101.9 213.6 101.9 213.1 101.4 213.1 100.4 211.1 98.4 211.0 96.5 210.1 95.5 209.9 88.5 208.9 87.5 208.7 84.5 207.6 84.4 206.6 83.4 206.6 38.6 209.6 35.6 215.6 35.6 216.2 34.9Z" fill="#eeee5a"/>
<path d="M231.4 41.7 234.4 41.4 237.4 41.8 242.4 40.9 259.2 40.9 267.2 42.0 270.1 43.3 278.1 49.5 281.0 50.7 281.0 91.6 278.1 92.5 272.1 95.9 266.2 97.3 263.2 98.5 257.2 99.6 256.2 100.2 249.3 101.1 247.3 101.9 230.4 101.9 227.5 100.9 224.5 100.7 220.5 99.4 217.6 98.2 215.2 96.5 213.4 93.5 211.3 88.5 209.1 84.5 208.6 84.1 207.6 84.0 206.6 83.0 206.6 47.5 213.6 44.6 219.5 43.2 224.5 42.9 230.6 41.9Z" fill="#f0d444"/>
<path d="M240.4 46.2 254.3 46.2 255.2 47.1 259.2 47.2 260.2 48.1 262.2 48.1 263.2 49.1 265.2 49.1 266.2 50.1 267.2 50.1 269.1 52.1 270.1 52.1 271.1 53.1 272.1 53.1 275.1 56.1 276.1 56.1 278.1 58.1 279.1 58.1 280.0 59.1 281.0 59.1 281.0 85.1 279.1 85.1 278.1 86.1 276.1 86.2 275.1 87.1 274.1 87.2 273.1 88.2 271.1 88.2 270.1 89.2 269.1 89.2 268.1 90.2 267.2 90.2 266.2 91.2 265.2 91.2 264.2 92.2 263.2 92.2 262.2 93.1 261.2 93.1 260.2 94.1 258.2 94.1 257.2 95.1 255.2 95.1 254.3 96.1 252.3 96.1 251.3 97.0 247.3 97.1 246.3 98.0 230.4 98.0 229.5 97.0 226.5 97.0 225.5 96.0 223.5 96.0 222.5 95.0 221.5 95.0 220.5 94.0 219.5 94.0 218.5 93.0 217.6 93.0 208.6 83.6 207.6 83.6 206.6 82.6 206.6 58.1 207.6 57.1 208.6 57.1 209.6 56.1 210.6 56.1 211.6 55.1 212.6 55.1 213.6 54.1 215.6 54.1 216.6 53.1 218.5 53.1 219.5 52.1 221.5 52.1 222.5 51.1 224.5 51.1 225.5 50.1 227.5 50.1 228.5 49.1 230.4 49.1 231.4 48.1 233.4 48.1 234.4 47.2 239.4 47.1 239.7 46.9Z" fill="#f0b83a"/>
<path d="M241.4 48.7 251.3 48.7 258.2 50.0 264.2 52.2 271.0 56.8 273.1 59.2 278.1 63.4 281.0 64.7 281.0 79.4 278.1 80.4 265.2 88.3 259.2 91.4 253.3 93.5 245.3 95.3 241.4 95.4 232.4 94.9 225.5 92.4 219.5 89.0 211.6 80.4 208.6 78.1 206.6 77.2 206.6 64.1 208.6 63.1 215.6 57.9 226.5 52.7 235.4 49.7 239.4 49.3 241.1 48.8Z" fill="#f09a30"/>
<path d="M240.4 51.8 243.3 51.3 250.3 51.5 259.2 53.4 264.1 55.8 267.5 58.8 271.6 63.7 276.6 71.7 276.4 72.6 271.7 78.6 266.4 83.6 262.2 86.5 252.3 90.9 244.3 92.4 241.4 92.4 233.4 91.3 226.5 88.2 221.5 84.5 219.7 82.6 211.7 70.7 216.1 63.7 221.9 58.8 227.5 55.3 230.4 54.0 233.4 53.0 239.9 51.8Z" fill="#f07c28"/>
<path d="M239.4 54.5 248.3 54.0 254.3 55.2 258.2 56.1 262.2 58.3 263.7 59.7 267.1 64.7 268.7 71.7 267.2 76.6 263.7 81.6 261.2 83.7 252.3 88.0 246.3 89.3 242.4 89.5 233.5 87.5 229.9 85.5 224.0 80.6 220.9 75.6 219.8 71.7 219.7 70.7 221.5 64.7 223.7 61.7 228.7 57.8 234.4 55.4 238.6 54.8Z" fill="#f05c20"/>
<path d="M240.4 56.3 248.3 56.3 249.3 57.2 253.3 57.2 254.3 58.2 257.2 58.2 259.2 60.1 260.2 60.1 261.8 61.7 261.9 62.7 262.9 63.7 262.9 64.7 263.9 65.7 263.8 75.6 262.8 76.6 262.8 77.6 261.8 78.6 261.7 79.6 259.2 82.1 258.2 82.1 257.2 83.1 256.2 83.1 255.2 84.1 254.3 84.1 253.3 85.0 252.3 85.1 251.3 86.0 247.3 86.1 246.3 87.0 242.4 87.0 241.4 86.1 238.4 86.1 237.4 85.1 235.4 85.1 233.4 83.1 232.4 83.1 226.9 77.6 226.9 76.6 225.9 75.6 225.9 74.6 224.9 73.6 225.0 65.7 225.9 64.7 226.0 63.7 230.4 59.3 231.4 59.2 232.4 58.3 234.4 58.2 235.4 57.3 239.4 57.2 239.9 56.8Z" fill="#f03c1c"/>
<path d="M236.4 59.3 242.4 58.8 252.3 59.3 257.2 60.6 260.2 62.3 262.5 66.7 262.7 68.7 262.1 73.6 259.2 78.6 256.2 80.9 252.3 82.9 244.3 84.5 239.4 83.5 236.4 82.4 234.1 80.6 230.8 76.6 228.7 72.6 228.2 66.7 229.1 63.7 230.9 61.7 233.4 60.3 235.4 59.7Z" fill="#f02018"/>
<path d="M236.4 61.3 253.3 61.4 254.3 62.4 257.2 62.5 258.2 63.5 259.2 63.5 260.4 64.7 260.4 66.7 261.4 67.7 261.4 68.7 260.4 69.7 260.4 72.6 258.5 74.6 258.5 75.6 255.2 78.9 254.3 78.9 253.3 79.9 252.3 79.9 251.3 80.9 247.3 81.0 246.3 81.9 244.3 81.9 242.4 81.9 241.4 81.0 239.4 80.9 238.4 80.0 237.4 80.0 236.0 78.6 235.9 77.6 233.9 75.6 233.8 74.6 232.9 73.6 232.8 72.6 231.9 71.7 231.9 66.7 231.0 65.7 231.0 64.7 233.4 62.3 235.4 62.3 236.0 61.7Z" fill="#e01818"/>
<path d="M237.4 64.2 239.4 63.7 245.3 63.7 249.3 64.5 251.3 65.4 254.3 68.7 253.3 72.6 251.4 74.6 248.3 76.4 244.3 77.1 239.4 76.0 237.0 74.6 234.1 70.7 234.0 68.7 234.7 65.7 236.4 64.7Z" fill="#d03040"/>
<path d="M239.4 66.2 245.3 66.2 246.3 67.1 247.3 67.1 247.9 67.7 248.0 70.7 246.3 72.3 238.4 72.2 235.9 69.7 236.9 68.7 236.9 67.7 237.4 67.1 238.4 67.1 238.8 66.7Z" fill="#e06878"/>
<path d="M240.4 68.3 244.3 68.3 245.7 69.7 244.3 70.1 239.4 70.0 238.9 69.7 239.8 68.7Z" fill="#f0b4c0"/>
<path d="M209.2 59.5 210.3 58.5 212.7 56.5 215.5 55.3 218.6 54.9 223.0 55.7 228.5 57.7 234.4 59.9 240.7 62.2 247.4 64.0 254.6 65.2 263.8 66.2 275.3 67.0 281.0 67.4M209.2 62.6 210.7 61.6 213.9 59.7 217.4 58.7 221.4 58.7 226.1 59.7 231.7 61.6 237.6 63.6 243.9 65.6 250.6 67.2 257.7 68.4 266.2 69.1 276.1 69.5 281.0 69.7M209.2 65.8 210.7 64.8 213.9 62.8 217.8 62.0 222.6 62.4 228.1 63.6 234.4 65.6 240.7 67.6 247.1 69.5 253.4 71.1 259.7 72.3 267.4 73.1 276.5 73.5 281.0 73.7M211.3 68.0 214.1 66.0 218.2 65.4 223.8 66.2 229.7 67.6 236.0 69.5 241.1 71.3 245.1 72.9 248.2 74.7 250.6 76.6 251.0 79.2 249.4 82.4 246.7 85.1 242.7 87.5 238.0 88.9 232.4 89.3 226.9 88.9 221.4 87.7 216.9 85.3 213.3 81.8 211.1 77.2 210.3 71.7ZM212.3 71.3 215.5 69.7 220.2 69.3 226.5 70.1 231.7 71.7 235.6 74.1 238.0 76.6 238.8 79.4 238.0 82.0 235.6 84.3 231.7 85.5 226.1 85.5 221.0 84.3 216.3 82.0 213.1 78.6 211.5 74.3ZM214.7 78.4 219.4 78.4 223.0 79.0 225.3 80.2 225.7 81.6 224.2 83.2 221.4 83.2 217.4 81.6 214.7 80.2 213.1 79.0ZM210.7 70.5 212.7 69.8 216.7 68.4 223.4 68.2 232.8 69.2 241.5 70.7 249.4 72.7 255.7 74.9 260.5 77.2 262.5 79.8 261.7 82.6 259.3 84.9 255.3 86.9 250.2 88.9 243.9 90.9 236.8 91.8 228.9 91.8 221.8 90.9 215.5 88.9 212.3 87.9M209.2 83.9 211.1 85.3 215.1 88.1 220.2 90.3 226.5 91.8 232.8 92.4 239.2 92.0 245.1 90.9 250.6 88.9 256.5 86.5 262.8 83.8 269.8 81.8 277.3 80.6 281.0 80.0M209.2 92.6 211.5 93.6 216.3 95.6 222.2 97.0 229.3 97.8 237.2 97.6 245.9 96.4 254.2 94.6 262.1 92.2 269.8 90.3 277.3 88.7 281.0 87.9M209.2 98.2 212.3 98.9 218.6 100.5 225.7 101.5 233.6 101.9 241.5 101.6 249.4 100.7 257.3 99.5 265.2 98.1 272.1 97.0 278.0 96.2 281.0 95.8M209.2 102.9 213.1 103.3 221.0 104.1 230.1 104.5 240.3 104.5 249.4 103.9 257.3 102.7 266.2 101.3 276.1 99.7 281.0 98.9M210.7 111.6 213.1 110.5 217.8 108.3 224.6 106.9 233.2 106.3 243.5 105.5 255.3 104.3 261.3 103.7" fill="none" stroke="#828282" stroke-width="1.0" stroke-linejoin="round"/>
<path d="M232.7 60.3h0.01M240.1 60.3h0.01M247.6 60.3h0.01M255.0 60.3h0.01M229.0 63.9h0.01M236.4 63.9h0.01M243.8 63.9h0.01M251.3 63.9h0.01M258.7 63.9h0.01M225.2 67.6h0.01M232.7 67.6h0.01M240.1 67.6h0.01M247.6 67.6h0.01M255.0 67.6h0.01M262.4 67.6h0.01M221.5 71.3h0.01M229.0 71.3h0.01M236.4 71.3h0.01M243.8 71.3h0.01M251.3 71.3h0.01M258.7 71.3h0.01M266.2 71.3h0.01M225.2 75.0h0.01M232.7 75.0h0.01M240.1 75.0h0.01M247.6 75.0h0.01M255.0 75.0h0.01M262.4 75.0h0.01M221.5 78.7h0.01M229.0 78.7h0.01M236.4 78.7h0.01M243.8 78.7h0.01M251.3 78.7h0.01M258.7 78.7h0.01M266.2 78.7h0.01M225.2 82.3h0.01M232.7 82.3h0.01M240.1 82.3h0.01M247.6 82.3h0.01M255.0 82.3h0.01M262.4 82.3h0.01M229.0 86.0h0.01M236.4 86.0h0.01M243.8 86.0h0.01M251.3 86.0h0.01M258.7 86.0h0.01M240.1 89.7h0.01M247.6 89.7h0.01" stroke="#000" stroke-width="1.15" stroke-linecap="round"/>
</g>
<path d="M204.04 16.10h2.60M281.04 16.10h2.60M204.04 25.12h2.60M281.04 25.12h2.60M204.04 34.14h2.60M281.04 34.14h2.60M204.04 43.15h2.60M281.04 43.15h2.60M204.04 52.17h2.60M281.04 52.17h2.60M204.04 61.19h2.60M281.04 61.19h2.60M204.04 70.21h2.60M281.04 70.21h2.60M204.04 79.23h2.60M281.04 79.23h2.60M204.04 88.25h2.60M281.04 88.25h2.60M204.04 97.26h2.60M281.04 97.26h2.60M204.04 106.28h2.60M281.04 106.28h2.60M204.04 115.30h2.60M281.04 115.30h2.60M206.64 16.10v-2.40M206.64 115.30v2.40M208.13 16.10v-1.20M208.13 115.30v1.20M209.62 16.10v-1.20M209.62 115.30v1.20M211.10 16.10v-1.20M211.10 115.30v1.20M212.59 16.10v-1.20M212.59 115.30v1.20M214.08 16.10v-1.20M214.08 115.30v1.20M215.57 16.10v-1.20M215.57 115.30v1.20M217.06 16.10v-1.20M217.06 115.30v1.20M218.54 16.10v-1.20M218.54 115.30v1.20M220.03 16.10v-1.20M220.03 115.30v1.20M221.52 16.10v-2.40M221.52 115.30v2.40M223.01 16.10v-1.20M223.01 115.30v1.20M224.50 16.10v-1.20M224.50 115.30v1.20M225.98 16.10v-1.20M225.98 115.30v1.20M227.47 16.10v-1.20M227.47 115.30v1.20M228.96 16.10v-1.20M228.96 115.30v1.20M230.45 16.10v-1.20M230.45 115.30v1.20M231.94 16.10v-1.20M231.94 115.30v1.20M233.42 16.10v-1.20M233.42 115.30v1.20M234.91 16.10v-1.20M234.91 115.30v1.20M236.40 16.10v-2.40M236.40 115.30v2.40M237.89 16.10v-1.20M237.89 115.30v1.20M239.38 16.10v-1.20M239.38 115.30v1.20M240.86 16.10v-1.20M240.86 115.30v1.20M242.35 16.10v-1.20M242.35 115.30v1.20M243.84 16.10v-1.20M243.84 115.30v1.20M245.33 16.10v-1.20M245.33 115.30v1.20M246.82 16.10v-1.20M246.82 115.30v1.20M248.30 16.10v-1.20M248.30 115.30v1.20M249.79 16.10v-1.20M249.79 115.30v1.20M251.28 16.10v-2.40M251.28 115.30v2.40M252.77 16.10v-1.20M252.77 115.30v1.20M254.26 16.10v-1.20M254.26 115.30v1.20M255.74 16.10v-1.20M255.74 115.30v1.20M257.23 16.10v-1.20M257.23 115.30v1.20M258.72 16.10v-1.20M258.72 115.30v1.20M260.21 16.10v-1.20M260.21 115.30v1.20M261.70 16.10v-1.20M261.70 115.30v1.20M263.18 16.10v-1.20M263.18 115.30v1.20M264.67 16.10v-1.20M264.67 115.30v1.20M266.16 16.10v-2.40M266.16 115.30v2.40M267.65 16.10v-1.20M267.65 115.30v1.20M269.14 16.10v-1.20M269.14 115.30v1.20M270.62 16.10v-1.20M270.62 115.30v1.20M272.11 16.10v-1.20M272.11 115.30v1.20M273.60 16.10v-1.20M273.60 115.30v1.20M275.09 16.10v-1.20M275.09 115.30v1.20M276.58 16.10v-1.20M276.58 115.30v1.20M278.06 16.10v-1.20M278.06 115.30v1.20M279.55 16.10v-1.20M279.55 115.30v1.20M281.04 16.10v-2.40M281.04 115.30v2.40" stroke="#111" stroke-width="0.75" fill="none"/>
<path d="M236.40 16.10V115.30M206.64 70.21H281.04" stroke="#000" stroke-width="1.1" stroke-dasharray="3 3.2" fill="none"/>
<rect x="206.64" y="16.10" width="74.40" height="99.20" fill="none" stroke="#111" stroke-width="1.05"/>
<clipPath id="ca3"><rect x="300.91" y="16.10" width="74.40" height="99.20"/></clipPath>
<g clip-path="url(#ca3)">
<rect x="300.91" y="16.10" width="74.40" height="99.20" fill="#f2f89c"/>
<path d="M329.7 16.1 356.0 16.1 355.5 16.6 354.5 16.6 353.5 17.6 333.6 17.6 332.7 16.6 329.7 16.6 329.2 16.1ZM371.3 16.1 375.3 16.1 375.3 21.6 374.3 20.6 373.3 20.6 370.8 18.1 370.8 16.1Z" fill="#bce6f4"/>
<path d="M307.9 21.8 313.8 21.8 314.8 22.8 325.7 22.8 326.7 23.8 333.6 23.7 334.6 24.7 341.6 24.7 342.6 25.7 350.5 25.7 351.5 26.7 360.4 26.7 361.4 27.7 365.4 27.7 366.4 28.7 367.4 28.7 369.7 31.0 369.7 32.0 370.7 33.0 370.7 36.9 371.7 37.9 372.2 58.8 372.0 76.6 371.1 77.6 370.9 81.6 370.0 82.6 369.9 84.5 368.9 85.5 368.9 87.5 366.9 89.5 366.9 90.5 364.4 93.0 363.4 93.0 361.4 95.0 360.4 95.0 358.4 96.9 357.5 96.9 356.5 97.9 355.5 97.9 353.5 99.9 352.5 99.9 351.5 100.9 350.5 100.9 349.5 101.8 348.5 101.9 347.5 102.8 345.6 102.8 344.6 103.8 339.6 103.8 338.6 104.8 337.6 104.8 336.6 103.8 327.7 103.8 326.7 102.8 323.7 102.8 322.7 101.9 320.8 101.8 319.8 100.9 317.8 100.8 316.8 99.9 314.8 99.8 312.8 97.9 311.8 97.9 306.9 92.9 306.4 92.5 306.4 91.5 301.9 87.0 300.9 87.0 300.9 28.7 301.6 28.0 301.7 27.0 302.6 26.0 302.7 25.0 303.9 23.8 304.9 23.8 305.9 22.8 306.9 22.8 307.6 22.1Z" fill="#eeee5a"/>
<path d="M318.8 35.9 321.7 35.5 337.6 35.4 341.6 35.9 346.5 35.9 351.5 36.8 356.5 37.1 359.4 37.9 360.4 38.2 362.7 40.9 367.4 47.8 370.7 55.8 371.3 58.8 371.3 68.7 370.2 75.6 368.5 79.6 364.8 85.5 362.4 88.5 356.5 92.2 345.6 96.8 335.6 97.9 331.7 97.8 325.7 96.8 317.1 93.5 312.8 90.5 304.9 82.7 300.9 80.4 300.9 43.3 307.9 40.4 312.8 37.1 318.6 35.9Z" fill="#f0d444"/>
<path d="M334.6 46.1 347.5 46.1 348.5 47.1 353.5 47.1 354.5 48.1 357.5 48.1 358.4 49.1 359.4 49.1 360.4 50.1 362.4 50.2 363.4 51.2 364.4 51.2 369.7 56.8 369.7 57.8 370.6 58.8 370.7 63.7 370.7 68.7 369.8 69.7 369.8 72.6 368.9 73.6 368.9 74.6 367.9 75.6 367.9 76.6 359.4 85.3 358.4 85.3 356.5 87.2 355.5 87.2 354.5 88.2 352.5 88.2 351.5 89.2 349.5 89.3 348.5 90.2 345.6 90.3 344.6 91.2 335.6 91.3 334.6 92.2 333.6 92.2 332.7 91.2 326.7 91.2 325.7 90.2 323.7 90.2 322.7 89.2 321.7 89.2 320.8 88.2 319.8 88.2 317.8 86.3 316.8 86.2 314.8 84.3 313.8 84.2 306.2 76.6 306.2 75.6 304.2 73.6 304.1 71.7 303.1 70.7 303.1 68.7 303.1 66.7 304.1 65.7 304.1 62.7 305.0 61.7 305.0 60.7 307.0 58.8 307.0 57.8 309.8 54.9 310.8 54.9 312.8 53.0 313.8 52.9 314.8 52.0 315.8 52.0 316.8 51.0 317.8 51.0 318.8 50.0 319.8 50.0 320.8 49.0 322.7 49.0 323.7 48.0 326.7 48.0 327.7 47.0 333.8 46.9Z" fill="#f0b83a"/>
<path d="M329.7 49.7 333.6 49.6 336.6 48.8 345.6 48.9 347.5 49.7 351.5 49.9 353.5 50.7 356.5 51.0 363.4 53.9 367.4 57.5 368.7 59.7 368.9 60.7 369.4 67.7 368.6 69.7 368.6 71.7 366.4 76.0 359.4 82.9 355.5 85.3 350.5 87.3 343.6 89.2 333.6 89.4 327.7 88.9 324.7 87.8 317.8 83.9 314.5 81.6 309.6 76.6 307.0 72.6 305.9 68.7 306.8 63.7 309.8 58.2 313.8 55.3 321.7 51.7 329.2 49.8Z" fill="#f09a30"/>
<path d="M330.7 52.5 337.6 51.8 344.6 51.9 347.5 52.8 350.5 52.8 353.5 53.8 355.5 53.9 362.3 56.8 364.9 58.8 366.4 60.7 367.1 63.7 367.4 66.7 366.7 71.7 365.9 73.6 360.4 79.6 357.5 81.9 352.5 84.3 342.6 87.0 333.6 87.1 328.7 86.5 321.7 83.3 318.8 81.6 315.8 79.1 311.4 74.6 309.5 70.7 308.9 68.7 309.4 64.7 311.8 59.7 314.8 57.5 320.8 54.8 325.7 53.3 329.7 52.8Z" fill="#f07c28"/>
<path d="M330.7 55.6 332.7 55.0 343.6 54.8 346.5 55.7 349.5 55.8 352.5 56.7 355.5 57.0 360.4 59.0 363.4 61.1 364.4 62.6 365.2 64.7 365.1 70.7 364.6 72.6 359.4 78.1 356.5 80.2 347.9 83.6 342.6 84.7 333.6 84.8 331.7 84.1 328.7 83.8 326.7 82.9 320.4 79.6 313.8 73.4 312.2 69.7 312.1 65.7 313.6 61.7 315.8 59.6 320.8 57.4 323.7 56.9 325.7 56.1 330.2 55.8Z" fill="#f05c20"/>
<path d="M332.7 57.3 343.6 57.3 344.6 58.2 349.5 58.3 350.5 59.2 354.5 59.3 355.5 60.3 357.5 60.3 358.4 61.3 359.4 61.4 360.4 62.4 361.4 62.4 362.7 63.7 362.7 64.7 363.7 65.7 363.6 71.7 358.4 76.9 357.5 76.9 355.5 78.9 353.5 79.0 352.5 79.9 351.5 80.0 350.5 80.9 348.5 81.0 347.5 81.9 344.6 82.0 343.6 83.0 341.6 83.0 333.6 83.0 332.7 82.0 329.7 82.0 328.7 81.0 327.7 81.0 326.7 80.0 325.7 80.0 324.7 79.0 323.7 79.0 322.7 78.0 321.7 78.0 315.5 71.7 315.4 69.7 314.5 68.7 314.5 65.7 315.5 64.7 315.5 62.7 316.8 61.4 317.8 61.4 318.8 60.4 319.8 60.4 320.8 59.4 324.7 59.3 325.7 58.3 331.7 58.2 332.2 57.8Z" fill="#f03c1c"/>
<path d="M329.7 60.6 334.6 59.7 339.6 59.7 343.6 60.7 347.5 60.7 349.5 61.5 352.5 62.1 355.5 63.9 357.4 65.7 358.4 67.7 358.3 69.7 356.5 73.0 353.5 75.5 348.5 78.3 341.6 80.6 334.6 80.5 328.7 78.1 325.3 75.6 323.7 74.3 320.4 69.7 320.1 66.7 320.8 64.7 322.7 62.9 326.7 60.9 328.7 60.7Z" fill="#f02018"/>
<path d="M331.7 62.3 339.6 62.2 340.6 63.2 347.5 63.2 348.5 64.2 350.5 64.2 353.1 66.7 353.1 70.7 349.5 74.2 348.5 74.2 346.5 76.1 345.6 76.1 344.6 77.1 342.6 77.1 341.6 78.1 334.6 78.1 333.6 77.1 332.7 77.1 331.7 76.1 330.7 76.1 329.1 74.6 327.1 72.6 327.1 71.7 326.1 70.7 326.1 69.7 325.1 68.7 325.1 65.7 327.7 63.2 330.7 63.2 331.2 62.7Z" fill="#e01818"/>
<path d="M331.7 65.5 333.6 64.7 337.6 64.7 340.6 65.7 345.6 65.7 349.5 66.9 350.3 67.7 350.5 68.7 350.3 69.7 348.5 71.4 343.6 74.4 339.6 75.6 336.6 75.6 331.7 73.4 329.9 71.7 327.9 67.7 327.9 66.7 328.7 65.9 330.8 65.7Z" fill="#d03040"/>
<path d="M303.2 61.1 304.3 60.1 306.7 58.1 309.5 56.7 312.6 55.9 316.6 56.3 321.3 57.9 327.6 59.5 335.5 61.1 343.4 62.2 351.3 63.0 360.2 63.6 370.1 64.0 375.0 64.2M303.2 63.4 304.3 62.6 306.7 61.1 309.9 60.1 313.8 59.7 318.9 60.1 325.3 61.3 332.4 62.4 340.3 63.6 348.2 64.6 356.1 65.4 363.8 66.0 371.3 66.4 375.0 66.6M303.2 65.8 304.3 65.0 306.7 63.4 310.7 62.6 316.2 62.6 322.1 63.2 328.4 64.4 335.1 65.6 342.2 66.8 349.3 67.8 356.5 68.6 363.8 69.1 371.3 69.5 375.0 69.7M309.5 78.4 312.6 76.8 316.2 76.6 320.1 77.8 322.5 78.7 323.3 79.3 322.5 79.9 320.1 80.7 316.6 81.0 311.8 80.9 309.1 80.4 308.3 79.6ZM308.7 71.7 313.4 70.9 318.6 71.3 324.1 72.9 328.4 75.1 331.6 77.8 331.6 80.4 328.4 82.8 323.3 83.8 316.2 83.4 310.7 82.0 306.7 79.6 305.1 76.8 305.9 73.7ZM307.5 67.8 313.0 67.0 319.7 67.4 327.6 68.9 334.5 72.1 340.5 76.8 341.6 81.0 338.1 84.5 331.2 86.5 320.9 86.9 312.8 85.7 306.9 83.0 303.8 79.6 303.4 75.7 303.6 72.3 304.3 69.5ZM306.9 64.8 312.8 64.4 320.5 64.8 330.0 66.0 337.9 68.0 344.2 70.7 349.1 73.9 352.7 77.4 352.7 81.4 349.1 85.7 341.4 88.6 329.6 90.0 319.3 90.0 310.7 88.6 305.5 86.3 303.9 83.2 303.4 77.4 303.8 69.1ZM303.2 82.4 305.5 83.2 310.3 84.7 316.6 86.1 324.5 87.3 332.4 87.5 340.3 86.7 347.0 85.5 352.5 83.9 358.0 81.8 363.6 79.0 368.5 76.6 372.8 74.7 375.0 73.7M303.2 86.3 306.3 87.3 312.6 89.3 319.7 90.9 327.6 92.0 335.5 92.0 343.4 90.9 351.3 89.3 359.2 87.3 366.1 85.9 372.0 85.1 375.0 84.7M303.2 91.1 306.3 91.8 312.6 93.4 319.7 94.6 327.6 95.4 335.5 95.2 343.4 94.0 351.3 92.4 359.2 90.5 366.1 89.3 372.0 88.9 375.0 88.7M303.2 96.6 305.5 96.2 310.3 95.4 315.4 95.2 320.9 95.6 327.6 96.6 335.5 98.2 343.4 98.6 351.3 97.8 360.2 95.0 370.1 90.3 375.0 87.9" fill="none" stroke="#828282" stroke-width="1.0" stroke-linejoin="round"/>
<path d="M334.4 60.3h0.01M341.8 60.3h0.01M349.3 60.3h0.01M323.2 63.9h0.01M330.7 63.9h0.01M338.1 63.9h0.01M345.6 63.9h0.01M353.0 63.9h0.01M319.5 67.6h0.01M327.0 67.6h0.01M334.4 67.6h0.01M341.8 67.6h0.01M349.3 67.6h0.01M356.7 67.6h0.01M315.8 71.3h0.01M323.2 71.3h0.01M330.7 71.3h0.01M338.1 71.3h0.01M345.6 71.3h0.01M353.0 71.3h0.01M360.4 71.3h0.01M319.5 75.0h0.01M327.0 75.0h0.01M334.4 75.0h0.01M341.8 75.0h0.01M349.3 75.0h0.01M356.7 75.0h0.01M364.2 75.0h0.01M315.8 78.7h0.01M323.2 78.7h0.01M330.7 78.7h0.01M338.1 78.7h0.01M345.6 78.7h0.01M353.0 78.7h0.01M360.4 78.7h0.01M319.5 82.3h0.01M327.0 82.3h0.01M334.4 82.3h0.01M341.8 82.3h0.01M349.3 82.3h0.01M356.7 82.3h0.01M323.2 86.0h0.01M330.7 86.0h0.01M338.1 86.0h0.01M345.6 86.0h0.01M353.0 86.0h0.01M334.4 89.7h0.01M341.8 89.7h0.01" stroke="#000" stroke-width="1.15" stroke-linecap="round"/>
</g>
<path d="M298.31 16.10h2.60M375.31 16.10h2.60M298.31 25.12h2.60M375.31 25.12h2.60M298.31 34.14h2.60M375.31 34.14h2.60M298.31 43.15h2.60M375.31 43.15h2.60M298.31 52.17h2.60M375.31 52.17h2.60M298.31 61.19h2.60M375.31 61.19h2.60M298.31 70.21h2.60M375.31 70.21h2.60M298.31 79.23h2.60M375.31 79.23h2.60M298.31 88.25h2.60M375.31 88.25h2.60M298.31 97.26h2.60M375.31 97.26h2.60M298.31 106.28h2.60M375.31 106.28h2.60M298.31 115.30h2.60M375.31 115.30h2.60M300.91 16.10v-2.40M300.91 115.30v2.40M302.40 16.10v-1.20M302.40 115.30v1.20M303.89 16.10v-1.20M303.89 115.30v1.20M305.37 16.10v-1.20M305.37 115.30v1.20M306.86 16.10v-1.20M306.86 115.30v1.20M308.35 16.10v-1.20M308.35 115.30v1.20M309.84 16.10v-1.20M309.84 115.30v1.20M311.33 16.10v-1.20M311.33 115.30v1.20M312.81 16.10v-1.20M312.81 115.30v1.20M314.30 16.10v-1.20M314.30 115.30v1.20M315.79 16.10v-2.40M315.79 115.30v2.40M317.28 16.10v-1.20M317.28 115.30v1.20M318.77 16.10v-1.20M318.77 115.30v1.20M320.25 16.10v-1.20M320.25 115.30v1.20M321.74 16.10v-1.20M321.74 115.30v1.20M323.23 16.10v-1.20M323.23 115.30v1.20M324.72 16.10v-1.20M324.72 115.30v1.20M326.21 16.10v-1.20M326.21 115.30v1.20M327.69 16.10v-1.20M327.69 115.30v1.20M329.18 16.10v-1.20M329.18 115.30v1.20M330.67 16.10v-2.40M330.67 115.30v2.40M332.16 16.10v-1.20M332.16 115.30v1.20M333.65 16.10v-1.20M333.65 115.30v1.20M335.13 16.10v-1.20M335.13 115.30v1.20M336.62 16.10v-1.20M336.62 115.30v1.20M338.11 16.10v-1.20M338.11 115.30v1.20M339.60 16.10v-1.20M339.60 115.30v1.20M341.09 16.10v-1.20M341.09 115.30v1.20M342.57 16.10v-1.20M342.57 115.30v1.20M344.06 16.10v-1.20M344.06 115.30v1.20M345.55 16.10v-2.40M345.55 115.30v2.40M347.04 16.10v-1.20M347.04 115.30v1.20M348.53 16.10v-1.20M348.53 115.30v1.20M350.01 16.10v-1.20M350.01 115.30v1.20M351.50 16.10v-1.20M351.50 115.30v1.20M352.99 16.10v-1.20M352.99 115.30v1.20M354.48 16.10v-1.20M354.48 115.30v1.20M355.97 16.10v-1.20M355.97 115.30v1.20M357.45 16.10v-1.20M357.45 115.30v1.20M358.94 16.10v-1.20M358.94 115.30v1.20M360.43 16.10v-2.40M360.43 115.30v2.40M361.92 16.10v-1.20M361.92 115.30v1.20M363.41 16.10v-1.20M363.41 115.30v1.20M364.89 16.10v-1.20M364.89 115.30v1.20M366.38 16.10v-1.20M366.38 115.30v1.20M367.87 16.10v-1.20M367.87 115.30v1.20M369.36 16.10v-1.20M369.36 115.30v1.20M370.85 16.10v-1.20M370.85 115.30v1.20M372.33 16.10v-1.20M372.33 115.30v1.20M373.82 16.10v-1.20M373.82 115.30v1.20M375.31 16.10v-2.40M375.31 115.30v2.40" stroke="#111" stroke-width="0.75" fill="none"/>
<path d="M330.67 16.10V115.30M300.91 70.21H375.31" stroke="#000" stroke-width="1.1" stroke-dasharray="3 3.2" fill="none"/>
<rect x="300.91" y="16.10" width="74.40" height="99.20" fill="none" stroke="#111" stroke-width="1.05"/>
<clipPath id="ca4"><rect x="395.18" y="16.10" width="74.40" height="99.20"/></clipPath>
<g clip-path="url(#ca4)">
<rect x="395.18" y="16.10" width="74.40" height="99.20" fill="#f2f89c"/>
<path d="M433.9 16.1 469.6 16.1 469.6 23.5 468.6 23.5 467.6 22.5 466.6 22.5 466.1 22.1 466.1 20.1 465.6 19.6 464.6 19.6 463.6 18.6 449.7 18.6 448.7 17.6 434.9 17.6 433.4 16.1Z" fill="#bce6f4"/>
<path d="M402.1 23.8 432.9 23.8 433.9 24.7 437.8 24.7 438.8 25.7 440.8 25.7 441.8 26.7 443.8 26.7 444.8 27.7 450.7 27.7 451.7 26.7 454.7 26.7 456.7 28.7 457.7 28.7 462.0 33.0 462.0 34.9 463.0 35.9 463.0 37.9 464.0 38.9 464.1 45.9 465.1 46.9 465.5 61.7 466.5 62.7 466.5 71.7 465.5 72.6 465.5 76.6 464.5 77.6 464.5 79.6 463.5 80.6 463.4 81.6 462.4 82.6 462.4 83.6 461.4 84.5 461.4 85.5 459.3 87.5 459.3 88.5 457.3 90.5 457.3 91.5 451.7 97.0 450.7 97.0 448.7 98.9 447.8 98.9 446.8 99.9 443.8 99.9 442.8 100.9 428.9 100.9 427.9 99.9 424.9 99.9 423.9 99.0 421.0 98.9 420.0 98.0 416.0 97.9 415.0 97.0 412.0 96.9 411.1 96.0 410.1 95.9 409.1 95.0 408.1 95.0 401.6 88.5 401.6 87.5 399.6 85.5 399.5 83.6 398.5 82.6 398.3 76.6 397.4 75.6 397.9 34.9 398.9 34.0 398.9 29.0 399.9 28.0 399.9 26.0 401.9 24.0Z" fill="#eeee5a"/>
<path d="M427.9 35.8 433.9 35.9 451.7 38.5 455.7 42.1 459.7 47.5 461.3 48.8 463.6 53.0 464.6 55.8 465.1 57.8 465.1 61.7 466.1 62.7 466.1 71.7 465.1 72.6 465.1 76.6 464.1 77.6 463.6 79.6 460.7 83.6 453.7 90.2 449.7 92.8 443.8 95.3 437.8 96.4 430.9 96.5 427.9 95.5 419.0 93.7 412.0 91.4 407.1 88.4 403.1 84.5 401.1 81.6 399.8 78.6 399.5 76.6 398.8 75.6 398.7 66.7 399.3 63.7 400.5 58.8 405.1 48.4 412.0 38.9 413.0 38.2 426.9 35.9Z" fill="#f0d444"/>
<path d="M431.9 47.0 441.8 47.1 442.8 48.1 446.8 48.1 447.8 49.1 450.7 49.1 451.7 50.1 453.7 50.2 454.7 51.2 456.7 51.3 457.7 52.3 459.7 52.4 461.6 54.4 462.6 54.5 463.6 55.5 463.8 56.8 464.7 57.8 464.7 61.7 465.7 62.7 465.7 71.7 464.7 72.6 464.7 76.6 463.7 77.6 463.6 78.8 459.7 82.8 458.7 82.9 456.7 84.9 455.7 84.9 454.7 85.9 453.7 86.0 452.7 87.0 451.7 87.0 450.7 88.0 448.7 88.1 447.8 89.1 445.8 89.1 444.8 90.1 442.8 90.1 441.8 91.1 437.8 91.2 436.8 92.1 430.9 92.1 429.9 91.1 424.9 91.1 423.9 90.2 421.0 90.1 420.0 89.2 418.0 89.1 417.0 88.2 416.0 88.2 415.0 87.2 413.0 87.2 412.0 86.2 411.1 86.2 410.1 85.2 409.1 85.1 407.1 83.1 406.1 83.1 400.8 77.6 400.8 76.6 399.9 75.6 399.8 66.7 400.7 65.7 400.7 64.7 401.6 63.7 401.6 62.7 402.5 61.7 402.6 60.7 408.1 55.0 410.1 55.0 411.1 54.0 413.0 53.9 414.0 53.0 416.0 52.9 417.0 52.0 419.0 51.9 420.0 51.0 421.0 51.0 422.0 50.0 423.9 50.0 424.9 49.0 426.9 49.0 427.9 48.0 431.1 47.8Z" fill="#f0b83a"/>
<path d="M432.9 49.7 439.8 49.8 442.8 50.8 445.8 51.1 449.7 52.4 457.7 56.1 459.7 57.9 460.8 59.7 461.0 62.7 461.6 64.7 461.6 69.7 460.8 71.7 460.5 74.6 459.4 76.6 457.7 78.7 452.7 82.4 448.7 84.7 440.8 88.2 434.9 89.5 432.9 89.5 429.9 88.8 425.9 88.7 419.0 86.7 416.0 85.2 414.0 84.7 407.1 80.1 403.7 76.6 402.3 73.6 402.2 71.7 402.3 67.7 404.4 61.7 405.7 59.7 408.7 56.8 418.0 53.5 420.0 53.3 423.0 51.8 432.6 49.8Z" fill="#f09a30"/>
<path d="M431.9 52.8 433.9 52.4 439.8 52.9 441.8 53.7 444.8 54.1 448.7 55.6 453.7 58.8 455.7 60.7 456.2 61.7 456.7 66.7 456.6 68.7 455.2 73.6 449.3 79.6 439.8 85.3 433.9 86.5 426.9 86.0 423.9 85.3 415.0 82.1 412.0 80.0 407.1 75.6 405.5 72.6 405.1 70.7 405.2 68.7 406.6 62.7 407.4 60.7 409.1 58.8 413.0 56.9 418.0 55.4 421.0 55.0 423.9 53.8 430.9 52.8Z" fill="#f07c28"/>
<path d="M424.9 55.8 432.9 55.2 435.9 55.8 438.8 55.8 440.8 56.6 443.8 56.9 446.8 58.3 449.7 60.6 450.5 61.7 451.5 64.7 451.7 67.7 451.2 69.7 450.2 71.7 445.8 77.1 438.8 82.4 436.8 83.2 433.9 83.5 425.9 83.1 422.0 82.0 416.2 79.6 410.6 74.6 409.1 72.8 408.1 69.7 408.8 63.7 409.6 60.7 411.1 59.5 413.0 58.5 416.0 58.0 418.0 57.2 422.0 56.8 424.6 55.8Z" fill="#f05c20"/>
<path d="M423.9 57.3 432.9 57.3 433.9 58.2 438.8 58.2 439.8 59.1 442.8 59.2 443.8 60.2 444.8 60.2 447.3 62.7 447.3 67.7 446.4 68.7 446.4 69.7 445.4 70.7 445.3 71.7 443.3 73.6 443.3 74.6 437.8 80.0 436.8 80.0 435.9 81.0 425.9 81.0 424.9 80.0 423.0 80.0 422.0 79.0 420.0 79.0 419.0 78.0 418.0 78.0 411.7 71.7 411.6 70.7 410.7 69.7 410.8 61.7 412.0 60.5 413.0 60.5 414.0 59.5 417.0 59.4 418.0 58.4 423.0 58.3 423.5 57.8Z" fill="#f03c1c"/>
<path d="M423.9 59.6 424.9 59.3 431.9 59.3 433.9 59.7 437.8 59.7 441.8 60.9 443.7 62.7 444.3 64.7 444.1 66.7 442.3 70.7 438.8 74.6 433.9 77.5 427.9 77.6 423.9 76.9 421.0 75.6 419.0 74.1 415.7 69.7 415.0 67.7 415.0 64.7 416.1 62.7 419.0 60.7 423.0 59.7Z" fill="#f02018"/>
<path d="M423.0 61.3 438.8 61.4 439.8 62.3 440.8 62.3 441.2 62.7 441.3 66.7 440.3 67.7 440.3 68.7 436.8 72.2 435.9 72.2 434.9 73.2 433.9 73.2 432.9 74.2 424.9 74.2 423.9 73.2 423.0 73.2 421.4 71.7 421.4 70.7 420.4 69.7 420.4 68.7 419.4 67.7 419.5 63.7 421.0 62.3 422.0 62.3 422.5 61.7Z" fill="#e01818"/>
<path d="M423.0 64.6 424.9 63.7 436.8 63.7 438.8 64.7 437.6 67.7 435.9 69.4 430.9 71.6 426.9 71.6 424.5 70.7 422.2 66.7 422.0 65.7 422.5 64.7Z" fill="#d03040"/>
<path d="M404.7 70.5 409.8 70.5 412.8 71.9 413.6 74.7 413.2 77.0 411.6 79.0 408.6 79.8 404.3 79.4 401.7 78.2 400.9 76.3 400.9 74.1 401.7 71.7ZM401.7 67.0 405.7 66.2 410.8 66.6 417.1 68.2 421.4 70.1 423.8 72.5 425.0 75.5 425.0 79.0 423.8 81.6 421.4 83.2 417.1 83.9 410.8 83.9 405.5 83.0 401.1 81.0 398.8 78.0 398.4 74.1 398.6 70.9 399.3 68.6ZM400.7 64.4 404.3 63.2 410.0 63.2 417.9 64.4 425.0 66.0 431.3 68.0 435.3 70.5 436.8 73.7 436.8 76.8 435.3 80.0 432.5 83.0 428.6 85.7 421.8 87.3 412.4 87.7 405.3 86.9 400.5 84.9 398.0 80.6 397.6 73.9 397.8 69.1 398.6 66.4ZM398.2 62.6 400.1 61.8 404.1 60.3 410.4 59.9 419.1 60.7 428.2 62.2 437.6 64.6 445.5 67.0 451.8 69.3 454.6 72.1 453.8 75.3 450.7 78.6 445.1 82.2 438.4 85.7 430.5 89.3 421.8 91.3 412.4 91.6 405.3 90.9 400.5 88.9 398.2 87.9M398.2 61.8 399.7 60.7 402.9 58.3 406.1 56.9 409.2 56.5 414.7 56.9 422.6 58.1 430.5 59.9 438.4 62.2 445.5 63.6 451.8 64.0 458.8 63.6 466.3 62.4 470.0 61.8M397.4 88.7 398.2 90.9 399.7 95.2 403.1 97.2 408.2 96.8 414.7 96.8 422.6 97.2 430.5 96.2 438.4 93.8 446.3 91.4 454.2 89.1 459.7 87.5 462.9 86.7 464.5 86.3M397.4 108.4 398.8 107.8 401.5 106.6 404.9 105.9 408.8 105.5 414.7 105.1 422.6 104.7 432.5 102.7 444.3 99.1 454.6 95.4 463.3 91.4 467.6 89.5" fill="none" stroke="#828282" stroke-width="1.0" stroke-linejoin="round"/>
<path d="M428.7 60.3h0.01M436.1 60.3h0.01M417.5 63.9h0.01M424.9 63.9h0.01M432.4 63.9h0.01M439.8 63.9h0.01M447.3 63.9h0.01M413.8 67.6h0.01M421.2 67.6h0.01M428.7 67.6h0.01M436.1 67.6h0.01M443.5 67.6h0.01M451.0 67.6h0.01M410.1 71.3h0.01M417.5 71.3h0.01M424.9 71.3h0.01M432.4 71.3h0.01M439.8 71.3h0.01M447.3 71.3h0.01M454.7 71.3h0.01M406.3 75.0h0.01M413.8 75.0h0.01M421.2 75.0h0.01M428.7 75.0h0.01M436.1 75.0h0.01M443.5 75.0h0.01M451.0 75.0h0.01M410.1 78.7h0.01M417.5 78.7h0.01M424.9 78.7h0.01M432.4 78.7h0.01M439.8 78.7h0.01M447.3 78.7h0.01M454.7 78.7h0.01M413.8 82.3h0.01M421.2 82.3h0.01M428.7 82.3h0.01M436.1 82.3h0.01M443.5 82.3h0.01M451.0 82.3h0.01M417.5 86.0h0.01M424.9 86.0h0.01M432.4 86.0h0.01M439.8 86.0h0.01M447.3 86.0h0.01M421.2 89.7h0.01M428.7 89.7h0.01M436.1 89.7h0.01M443.5 89.7h0.01" stroke="#000" stroke-width="1.15" stroke-linecap="round"/>
</g>
<path d="M392.58 16.10h2.60M469.58 16.10h2.60M392.58 25.12h2.60M469.58 25.12h2.60M392.58 34.14h2.60M469.58 34.14h2.60M392.58 43.15h2.60M469.58 43.15h2.60M392.58 52.17h2.60M469.58 52.17h2.60M392.58 61.19h2.60M469.58 61.19h2.60M392.58 70.21h2.60M469.58 70.21h2.60M392.58 79.23h2.60M469.58 79.23h2.60M392.58 88.25h2.60M469.58 88.25h2.60M392.58 97.26h2.60M469.58 97.26h2.60M392.58 106.28h2.60M469.58 106.28h2.60M392.58 115.30h2.60M469.58 115.30h2.60M395.18 16.10v-2.40M395.18 115.30v2.40M396.67 16.10v-1.20M396.67 115.30v1.20M398.16 16.10v-1.20M398.16 115.30v1.20M399.64 16.10v-1.20M399.64 115.30v1.20M401.13 16.10v-1.20M401.13 115.30v1.20M402.62 16.10v-1.20M402.62 115.30v1.20M404.11 16.10v-1.20M404.11 115.30v1.20M405.60 16.10v-1.20M405.60 115.30v1.20M407.08 16.10v-1.20M407.08 115.30v1.20M408.57 16.10v-1.20M408.57 115.30v1.20M410.06 16.10v-2.40M410.06 115.30v2.40M411.55 16.10v-1.20M411.55 115.30v1.20M413.04 16.10v-1.20M413.04 115.30v1.20M414.52 16.10v-1.20M414.52 115.30v1.20M416.01 16.10v-1.20M416.01 115.30v1.20M417.50 16.10v-1.20M417.50 115.30v1.20M418.99 16.10v-1.20M418.99 115.30v1.20M420.48 16.10v-1.20M420.48 115.30v1.20M421.96 16.10v-1.20M421.96 115.30v1.20M423.45 16.10v-1.20M423.45 115.30v1.20M424.94 16.10v-2.40M424.94 115.30v2.40M426.43 16.10v-1.20M426.43 115.30v1.20M427.92 16.10v-1.20M427.92 115.30v1.20M429.40 16.10v-1.20M429.40 115.30v1.20M430.89 16.10v-1.20M430.89 115.30v1.20M432.38 16.10v-1.20M432.38 115.30v1.20M433.87 16.10v-1.20M433.87 115.30v1.20M435.36 16.10v-1.20M435.36 115.30v1.20M436.84 16.10v-1.20M436.84 115.30v1.20M438.33 16.10v-1.20M438.33 115.30v1.20M439.82 16.10v-2.40M439.82 115.30v2.40M441.31 16.10v-1.20M441.31 115.30v1.20M442.80 16.10v-1.20M442.80 115.30v1.20M444.28 16.10v-1.20M444.28 115.30v1.20M445.77 16.10v-1.20M445.77 115.30v1.20M447.26 16.10v-1.20M447.26 115.30v1.20M448.75 16.10v-1.20M448.75 115.30v1.20M450.24 16.10v-1.20M450.24 115.30v1.20M451.72 16.10v-1.20M451.72 115.30v1.20M453.21 16.10v-1.20M453.21 115.30v1.20M454.70 16.10v-2.40M454.70 115.30v2.40M456.19 16.10v-1.20M456.19 115.30v1.20M457.68 16.10v-1.20M457.68 115.30v1.20M459.16 16.10v-1.20M459.16 115.30v1.20M460.65 16.10v-1.20M460.65 115.30v1.20M462.14 16.10v-1.20M462.14 115.30v1.20M463.63 16.10v-1.20M463.63 115.30v1.20M465.12 16.10v-1.20M465.12 115.30v1.20M466.60 16.10v-1.20M466.60 115.30v1.20M468.09 16.10v-1.20M468.09 115.30v1.20M469.58 16.10v-2.40M469.58 115.30v2.40" stroke="#111" stroke-width="0.75" fill="none"/>
<path d="M424.94 16.10V115.30M395.18 70.21H469.58" stroke="#000" stroke-width="1.1" stroke-dasharray="3 3.2" fill="none"/>
<rect x="395.18" y="16.10" width="74.40" height="99.20" fill="none" stroke="#111" stroke-width="1.05"/>
<clipPath id="ca5"><rect x="489.45" y="16.10" width="74.40" height="99.20"/></clipPath>
<g clip-path="url(#ca5)">
<rect x="489.45" y="16.10" width="74.40" height="99.20" fill="#f2f89c"/>
<path d="M561.9 16.1 563.9 16.1 563.9 27.5 561.4 25.0 561.4 16.1ZM490.4 87.0 491.4 87.0 491.9 87.5 491.9 88.5 491.9 92.5 490.4 94.0 489.4 94.0 489.4 87.0ZM551.9 94.0 557.9 94.0 560.4 96.5 560.4 100.4 556.9 103.9 553.9 103.9 550.5 100.4 550.5 95.5 551.5 94.5Z" fill="#bce6f4"/>
<path d="M507.3 30.8 537.1 30.7 538.1 31.7 544.0 31.7 545.0 32.7 548.0 32.7 549.0 33.7 551.9 33.7 552.9 34.7 554.9 34.7 558.1 37.9 558.2 40.9 559.2 41.9 559.3 53.8 560.3 54.8 560.3 59.7 560.3 69.7 559.4 70.7 559.3 75.6 558.4 76.6 558.3 78.6 557.4 79.6 557.3 80.6 556.4 81.6 556.3 82.6 554.4 84.5 554.4 85.5 551.4 88.5 551.4 89.5 549.0 91.9 547.0 93.9 546.0 93.9 542.0 97.8 541.0 97.8 540.0 98.8 539.0 98.8 538.1 99.8 537.1 99.8 536.1 100.8 534.1 100.8 533.1 101.8 528.1 101.8 527.1 102.8 526.2 102.8 525.2 101.8 518.2 101.8 517.2 100.8 514.2 100.8 513.3 99.8 511.3 99.8 510.3 98.8 509.3 98.8 508.3 97.8 507.3 97.8 506.3 96.9 505.3 96.8 503.3 94.9 502.3 94.9 496.0 88.5 496.0 87.5 495.0 86.5 494.9 84.5 494.0 83.6 493.9 80.6 493.0 79.6 492.9 70.7 491.9 69.7 492.2 43.9 493.2 42.9 493.2 38.9 494.2 37.9 494.2 35.9 496.4 33.8 497.4 33.8 498.4 32.8 500.4 32.8 501.4 31.8 506.3 31.8 507.1 31.0Z" fill="#eeee5a"/>
<path d="M522.2 42.4 536.1 42.4 537.1 43.4 540.0 43.4 541.0 44.4 542.0 44.4 543.0 45.3 544.0 45.3 545.0 46.3 546.0 46.3 552.3 52.8 552.3 53.8 553.3 54.8 553.3 55.8 554.3 56.8 554.3 59.7 555.2 60.7 555.2 71.7 554.3 72.6 554.2 74.6 553.3 75.6 553.2 76.6 551.3 78.6 551.3 79.6 549.3 81.6 549.3 82.6 545.0 86.9 544.0 87.0 542.0 88.9 541.0 89.0 539.0 90.9 538.1 91.0 537.1 91.9 536.1 92.0 535.1 92.9 534.1 93.0 533.1 93.9 531.1 94.0 530.1 94.9 517.2 95.0 516.2 94.0 514.2 94.0 513.3 93.0 512.3 93.0 511.3 92.0 510.3 92.0 509.3 91.1 508.3 91.0 507.3 90.1 506.3 90.0 500.8 84.5 500.8 83.6 498.8 81.6 498.8 80.6 497.9 79.6 497.8 77.6 496.9 76.6 496.9 74.6 496.0 73.6 496.0 63.7 496.9 62.7 496.9 61.7 498.8 59.7 498.9 58.8 503.3 54.2 504.3 54.1 510.3 48.2 511.3 48.2 513.3 46.2 514.2 46.2 515.2 45.3 516.2 45.3 517.2 44.3 518.2 44.3 519.2 43.3 521.2 43.3 521.7 42.9Z" fill="#f0d444"/>
<path d="M523.2 53.0 530.1 53.0 531.1 54.0 535.1 54.0 536.1 55.0 537.1 55.0 538.1 56.0 539.0 56.0 540.0 57.0 541.0 57.0 542.8 58.8 542.8 59.7 543.7 60.7 543.8 61.7 544.7 62.7 544.8 66.7 543.8 67.7 543.8 69.7 542.8 70.7 542.8 71.7 541.8 72.6 541.8 73.6 540.9 74.6 540.8 75.6 539.9 76.6 539.9 77.6 532.1 85.3 531.1 85.3 530.1 86.3 529.1 86.3 528.1 87.2 526.2 87.3 525.2 88.2 521.2 88.2 520.2 89.1 519.2 89.1 518.2 88.2 514.2 88.1 513.3 87.1 512.3 87.1 511.3 86.1 510.3 86.1 509.3 85.1 508.3 85.1 501.9 78.6 501.8 77.6 500.9 76.6 500.8 67.7 501.7 66.7 501.8 64.7 507.3 59.1 508.3 59.1 509.3 58.1 510.3 58.1 511.3 57.1 512.3 57.0 513.3 56.1 515.2 56.0 516.2 55.0 518.2 55.0 519.2 54.0 522.4 53.8Z" fill="#f0b83a"/>
<path d="M524.2 56.7 528.1 56.4 533.1 57.6 538.8 60.7 540.8 64.7 540.1 68.7 537.3 76.6 531.1 82.5 527.1 84.0 523.2 84.9 519.2 84.9 516.2 84.4 510.3 80.9 506.3 76.6 505.4 74.6 505.1 70.7 505.7 66.7 508.7 62.7 512.3 60.4 520.2 57.3 523.9 56.8Z" fill="#f09a30"/>
<path d="M521.2 60.5 526.2 60.1 529.1 60.4 534.1 62.4 535.7 63.7 536.2 64.7 536.6 67.7 535.4 74.6 531.8 78.6 529.1 80.2 521.2 81.2 517.2 80.2 512.6 76.6 510.4 73.6 509.9 68.7 510.7 66.7 512.3 64.7 514.2 63.1 520.2 60.7Z" fill="#f07c28"/>
<path d="M521.2 63.3 528.1 63.3 529.1 64.2 530.1 64.2 531.1 65.2 532.1 65.2 532.6 65.7 532.6 66.7 533.6 67.7 533.5 73.6 530.1 77.0 529.1 77.0 528.1 78.0 521.2 78.1 520.2 77.1 519.2 77.1 514.7 72.6 514.7 69.7 513.8 68.7 514.8 67.7 514.8 66.7 516.2 65.3 517.2 65.2 518.2 64.3 520.2 64.3 520.7 63.7Z" fill="#f05c20"/>
<path d="M521.2 67.6 523.2 66.7 526.2 66.7 528.1 67.6 529.6 68.7 530.1 69.7 530.1 71.7 528.3 73.6 526.2 74.6 523.2 74.6 521.0 73.6 518.2 70.7 518.1 68.7 520.4 67.7Z" fill="#f03c1c"/>
<path d="M502.8 71.1 508.3 70.7 512.3 72.5 514.7 76.4 516.6 80.4 518.2 84.3 518.6 87.1 517.8 88.7 515.8 89.1 512.7 88.3 509.1 86.3 505.2 83.2 502.0 80.0 499.7 76.8 498.9 74.3 499.7 72.3ZM499.7 68.4 505.2 67.2 511.1 67.0 517.4 67.8 521.8 69.9 524.1 73.5 525.7 78.0 526.5 83.6 526.1 87.9 524.5 91.1 521.4 92.6 516.6 92.6 511.5 91.4 506.0 89.1 501.2 85.9 497.3 82.0 495.1 78.0 494.7 74.1 495.1 71.3 496.3 69.7ZM497.7 65.0 502.4 63.4 508.7 62.8 516.6 63.2 524.1 64.4 531.2 66.4 535.6 69.3 537.2 73.3 537.6 78.0 536.8 83.6 534.4 88.3 530.4 92.2 524.5 94.4 516.6 94.8 509.1 93.6 502.0 90.9 497.1 86.7 494.3 81.2 493.1 76.1 493.5 71.3 494.1 68.2 494.9 66.6ZM493.7 63.4 495.7 62.2 499.7 59.9 505.6 58.5 513.5 58.1 522.2 59.1 531.6 61.4 539.5 63.4 545.8 65.0 549.4 67.8 550.2 71.7 549.4 76.1 547.0 80.8 543.5 85.1 538.7 89.1 532.4 92.6 524.5 95.8 520.6 97.4M492.2 65.8 493.7 64.0 496.9 60.5 500.1 58.3 503.2 57.5 508.7 57.9 516.6 59.5 524.5 61.3 532.4 63.2 540.3 64.4 548.2 64.8 555.1 65.0 561.0 65.0 564.0 65.0M492.2 83.9 493.7 85.5 496.9 88.7 500.8 91.4 505.6 93.8 511.1 95.6 517.4 96.8 524.5 96.6 532.4 95.0 539.5 93.0 545.8 90.7 552.8 88.7 560.3 87.1 564.0 86.3M492.2 106.8 493.7 107.4 496.9 108.6 502.0 108.6 509.1 107.4 518.6 105.7 530.4 103.3 540.3 100.5 548.2 97.4 555.1 95.0 561.0 93.4 564.0 92.6M515.5 88.0 515.3 88.2 515.1 88.4 514.8 88.6 514.5 88.6 514.1 88.6 513.7 88.6 513.4 88.4 513.2 88.2 513.1 88.0 513.1 87.8 513.2 87.5 513.4 87.4 513.7 87.2 514.1 87.1 514.5 87.1 514.8 87.2 515.1 87.4 515.3 87.5 515.5 87.8Z" fill="none" stroke="#828282" stroke-width="1.0" stroke-linejoin="round"/>
<path d="M511.8 71.3h0.01M519.2 71.3h0.01M526.7 71.3h0.01M534.1 71.3h0.01M508.1 75.0h0.01M515.5 75.0h0.01M522.9 75.0h0.01M530.4 75.0h0.01M537.8 75.0h0.01M504.3 78.7h0.01M511.8 78.7h0.01M519.2 78.7h0.01M526.7 78.7h0.01M534.1 78.7h0.01M541.5 78.7h0.01M508.1 82.3h0.01M515.5 82.3h0.01M522.9 82.3h0.01M530.4 82.3h0.01M537.8 82.3h0.01M545.3 82.3h0.01M504.3 86.0h0.01M511.8 86.0h0.01M519.2 86.0h0.01M526.7 86.0h0.01M534.1 86.0h0.01M541.5 86.0h0.01M515.5 89.7h0.01M522.9 89.7h0.01M530.4 89.7h0.01M537.8 89.7h0.01" stroke="#000" stroke-width="1.15" stroke-linecap="round"/>
</g>
<path d="M486.85 16.10h2.60M563.85 16.10h2.60M486.85 25.12h2.60M563.85 25.12h2.60M486.85 34.14h2.60M563.85 34.14h2.60M486.85 43.15h2.60M563.85 43.15h2.60M486.85 52.17h2.60M563.85 52.17h2.60M486.85 61.19h2.60M563.85 61.19h2.60M486.85 70.21h2.60M563.85 70.21h2.60M486.85 79.23h2.60M563.85 79.23h2.60M486.85 88.25h2.60M563.85 88.25h2.60M486.85 97.26h2.60M563.85 97.26h2.60M486.85 106.28h2.60M563.85 106.28h2.60M486.85 115.30h2.60M563.85 115.30h2.60M489.45 16.10v-2.40M489.45 115.30v2.40M490.94 16.10v-1.20M490.94 115.30v1.20M492.43 16.10v-1.20M492.43 115.30v1.20M493.91 16.10v-1.20M493.91 115.30v1.20M495.40 16.10v-1.20M495.40 115.30v1.20M496.89 16.10v-1.20M496.89 115.30v1.20M498.38 16.10v-1.20M498.38 115.30v1.20M499.87 16.10v-1.20M499.87 115.30v1.20M501.35 16.10v-1.20M501.35 115.30v1.20M502.84 16.10v-1.20M502.84 115.30v1.20M504.33 16.10v-2.40M504.33 115.30v2.40M505.82 16.10v-1.20M505.82 115.30v1.20M507.31 16.10v-1.20M507.31 115.30v1.20M508.79 16.10v-1.20M508.79 115.30v1.20M510.28 16.10v-1.20M510.28 115.30v1.20M511.77 16.10v-1.20M511.77 115.30v1.20M513.26 16.10v-1.20M513.26 115.30v1.20M514.75 16.10v-1.20M514.75 115.30v1.20M516.23 16.10v-1.20M516.23 115.30v1.20M517.72 16.10v-1.20M517.72 115.30v1.20M519.21 16.10v-2.40M519.21 115.30v2.40M520.70 16.10v-1.20M520.70 115.30v1.20M522.19 16.10v-1.20M522.19 115.30v1.20M523.67 16.10v-1.20M523.67 115.30v1.20M525.16 16.10v-1.20M525.16 115.30v1.20M526.65 16.10v-1.20M526.65 115.30v1.20M528.14 16.10v-1.20M528.14 115.30v1.20M529.63 16.10v-1.20M529.63 115.30v1.20M531.11 16.10v-1.20M531.11 115.30v1.20M532.60 16.10v-1.20M532.60 115.30v1.20M534.09 16.10v-2.40M534.09 115.30v2.40M535.58 16.10v-1.20M535.58 115.30v1.20M537.07 16.10v-1.20M537.07 115.30v1.20M538.55 16.10v-1.20M538.55 115.30v1.20M540.04 16.10v-1.20M540.04 115.30v1.20M541.53 16.10v-1.20M541.53 115.30v1.20M543.02 16.10v-1.20M543.02 115.30v1.20M544.51 16.10v-1.20M544.51 115.30v1.20M545.99 16.10v-1.20M545.99 115.30v1.20M547.48 16.10v-1.20M547.48 115.30v1.20M548.97 16.10v-2.40M548.97 115.30v2.40M550.46 16.10v-1.20M550.46 115.30v1.20M551.95 16.10v-1.20M551.95 115.30v1.20M553.43 16.10v-1.20M553.43 115.30v1.20M554.92 16.10v-1.20M554.92 115.30v1.20M556.41 16.10v-1.20M556.41 115.30v1.20M557.90 16.10v-1.20M557.90 115.30v1.20M559.39 16.10v-1.20M559.39 115.30v1.20M560.87 16.10v-1.20M560.87 115.30v1.20M562.36 16.10v-1.20M562.36 115.30v1.20M563.85 16.10v-2.40M563.85 115.30v2.40" stroke="#111" stroke-width="0.75" fill="none"/>
<path d="M519.21 16.10V115.30M489.45 70.21H563.85" stroke="#000" stroke-width="1.1" stroke-dasharray="3 3.2" fill="none"/>
<rect x="489.45" y="16.10" width="74.40" height="99.20" fill="none" stroke="#111" stroke-width="1.05"/>
<clipPath id="ca6"><rect x="583.72" y="16.10" width="74.40" height="99.20"/></clipPath>
<g clip-path="url(#ca6)">
<rect x="583.72" y="16.10" width="74.40" height="99.20" fill="#f2f89c"/>
<path d="M630.3 16.1 658.1 16.1 658.1 25.5 657.6 25.0 657.6 24.0 655.1 21.6 653.2 21.6 652.2 20.6 648.2 20.6 647.2 19.6 641.3 19.6 640.3 18.6 635.3 18.6 634.3 17.6 632.3 17.6 631.3 16.6 630.3 16.6 629.8 16.1ZM584.7 84.1 585.7 84.1 586.7 85.0 587.7 85.0 590.1 87.5 589.2 88.5 589.2 90.5 585.7 94.0 583.7 94.0 583.7 84.1Z" fill="#bce6f4"/>
<path d="M609.5 31.8 624.4 31.7 625.4 32.7 630.3 32.7 631.3 33.7 634.3 33.7 635.3 34.7 638.3 34.7 639.3 35.7 641.3 35.7 642.2 36.7 644.2 36.7 645.2 37.7 646.2 37.7 648.2 39.7 649.2 39.7 651.4 41.9 651.4 42.9 652.4 43.9 652.4 44.9 653.4 45.9 653.4 55.8 654.4 56.8 654.6 68.7 653.7 69.7 653.9 78.6 653.0 79.6 652.9 80.6 651.9 81.6 651.7 83.6 649.7 85.5 649.7 86.5 645.7 90.5 645.6 91.5 644.2 92.9 643.2 92.9 640.3 95.8 639.3 95.9 637.3 97.8 636.3 97.8 635.3 98.8 633.3 98.8 632.3 99.8 630.3 99.8 629.4 100.8 625.4 100.9 624.4 101.8 613.5 101.9 612.5 100.9 607.5 100.9 606.5 99.9 604.6 99.9 603.6 98.9 601.6 98.9 599.6 96.9 598.6 96.9 594.2 92.5 594.2 91.5 593.2 90.5 593.2 88.5 592.2 87.5 592.0 81.6 591.1 80.6 591.0 68.7 591.2 62.7 592.2 61.7 592.4 49.8 593.4 48.8 593.4 43.9 594.4 42.9 594.4 40.9 595.4 39.9 595.4 38.9 598.6 35.7 599.6 35.7 600.6 34.8 601.6 34.7 602.6 33.8 604.6 33.7 605.5 32.8 608.5 32.7 609.3 32.0Z" fill="#eeee5a"/>
<path d="M619.4 46.4 626.4 46.4 627.4 47.4 629.4 47.4 630.3 48.4 631.3 48.4 632.3 49.4 633.3 49.4 633.8 49.8 633.8 50.8 635.8 52.8 635.9 53.8 636.8 54.8 636.8 55.8 637.8 56.8 637.8 57.8 642.7 62.7 642.8 63.7 652.3 73.6 652.3 74.6 653.2 75.6 653.2 78.6 651.2 80.7 650.2 80.7 649.2 81.8 648.2 81.8 646.2 83.8 645.2 83.9 643.2 85.9 642.2 85.9 641.3 86.9 640.3 86.9 638.3 88.9 637.3 89.0 635.3 90.9 634.3 90.9 633.3 91.9 632.3 91.9 631.3 92.9 630.3 92.9 629.4 93.9 628.4 93.9 627.4 94.9 626.4 94.9 625.4 95.8 623.4 95.9 622.4 96.8 612.5 96.8 611.5 95.9 609.5 95.9 608.5 94.9 606.5 94.9 605.5 93.9 604.6 93.9 601.6 91.0 600.6 91.0 598.1 88.5 598.1 87.5 596.2 85.5 596.1 84.5 595.2 83.6 595.2 82.6 594.2 81.6 594.0 77.6 593.1 76.6 593.2 68.7 594.1 67.7 594.2 65.7 596.1 63.7 596.1 62.7 599.6 59.2 600.6 59.2 603.6 56.2 604.6 56.1 608.5 52.2 609.5 52.2 612.5 49.3 613.5 49.3 614.5 48.3 615.5 48.3 616.5 47.3 618.4 47.3 619.0 46.9Z" fill="#f0d444"/>
<path d="M606.5 63.0 621.4 62.8 622.4 63.8 624.4 63.8 625.4 64.8 627.4 64.8 629.4 66.8 630.3 66.9 633.1 69.7 633.1 70.7 634.1 71.7 634.1 72.6 635.1 73.6 635.1 76.6 634.1 77.6 634.1 79.6 630.3 83.3 629.4 83.3 627.4 85.3 626.4 85.3 625.4 86.3 624.4 86.3 623.4 87.2 622.4 87.3 621.4 88.2 619.4 88.2 618.4 89.2 609.5 89.1 608.5 88.2 607.5 88.1 606.5 87.2 605.5 87.1 604.6 86.2 603.6 86.1 596.2 78.6 596.2 77.6 595.3 76.6 595.2 75.6 594.4 74.6 594.3 70.7 598.6 66.2 599.6 66.1 600.6 65.1 602.6 65.0 603.6 64.0 605.8 63.7Z" fill="#f0b83a"/>
<path d="M607.5 65.4 610.5 65.0 620.4 65.1 626.4 66.9 629.4 69.4 630.2 70.7 631.4 74.6 630.3 78.2 629.0 79.6 625.4 82.1 621.4 84.0 616.5 85.2 611.5 85.1 605.5 82.4 600.2 76.6 598.6 72.6 600.6 69.7 601.8 68.7 607.2 65.7Z" fill="#f09a30"/>
<path d="M609.5 67.5 619.4 67.4 622.4 67.7 625.4 68.9 626.3 69.7 627.5 72.6 627.7 74.6 627.4 75.6 624.4 78.5 620.4 80.3 613.5 80.9 609.3 79.6 606.5 77.6 604.1 73.6 605.5 70.5 609.1 67.7Z" fill="#f07c28"/>
<path d="M610.5 69.3 622.4 69.3 623.4 70.3 624.7 70.7 624.8 73.6 622.4 76.1 621.4 76.1 620.4 77.1 613.5 77.1 612.5 76.1 610.5 76.1 609.0 74.6 609.0 73.6 608.1 72.6 608.1 71.7 610.1 69.7Z" fill="#f05c20"/>
<path d="M591.7 67.0 596.4 66.2 601.9 66.2 608.3 67.0 611.8 68.2 612.6 69.7 613.0 74.5 613.0 82.4 612.6 87.1 611.8 88.7 610.2 89.5 607.9 89.5 603.9 88.1 598.4 85.3 594.1 82.2 590.9 78.6 588.9 75.3 588.1 72.1 588.1 69.7 588.9 68.2ZM590.1 64.4 594.8 63.2 601.6 62.8 610.2 63.2 616.6 64.4 620.5 66.4 622.7 68.2 623.1 69.7 622.7 74.5 621.5 82.4 619.3 88.1 616.2 91.6 611.8 93.6 606.3 94.0 600.8 92.6 595.2 89.5 591.1 85.5 588.3 80.8 586.8 76.1 586.4 71.3 586.6 68.0 587.3 66.0ZM589.1 62.0 593.5 60.9 600.4 60.5 609.8 60.9 618.5 62.0 626.4 64.0 631.2 66.4 632.7 69.1 633.1 73.3 632.3 78.8 631.6 84.3 630.8 89.9 628.4 93.8 624.4 96.2 618.5 97.4 610.6 97.4 603.5 96.2 597.2 93.8 592.1 89.9 588.1 84.3 586.0 78.0 585.6 70.9 585.8 66.2 586.6 63.8ZM586.2 63.4 587.7 62.6 590.9 61.1 596.0 60.1 603.1 59.7 610.6 60.1 618.5 61.3 626.4 62.6 634.3 64.2 643.2 65.2 653.1 65.6 658.0 65.8M614.6 61.8 618.5 62.4 626.4 63.6 634.3 64.4 642.2 64.8 649.1 65.5 655.0 66.5 658.0 67.1M586.2 80.0 588.1 82.4 592.1 87.1 594.1 91.4 594.1 95.4 597.2 98.2 603.5 99.7 612.6 99.7 624.4 98.2 634.3 95.0 642.2 90.3 647.0 86.9 648.5 84.9 651.5 84.3 655.8 85.1 658.0 85.5M586.2 106.1 591.3 105.5 601.6 104.3 612.6 102.9 624.4 101.3 634.3 99.7 642.2 98.2 649.1 97.0 655.0 96.2 658.0 95.8" fill="none" stroke="#828282" stroke-width="1.0" stroke-linejoin="round"/>
<path d="M613.5 71.3h0.01M620.9 71.3h0.01M628.4 71.3h0.01M602.3 75.0h0.01M609.8 75.0h0.01M617.2 75.0h0.01M624.6 75.0h0.01M632.1 75.0h0.01M639.5 75.0h0.01M598.6 78.7h0.01M606.0 78.7h0.01M613.5 78.7h0.01M620.9 78.7h0.01M628.4 78.7h0.01M635.8 78.7h0.01M643.2 78.7h0.01M602.3 82.3h0.01M609.8 82.3h0.01M617.2 82.3h0.01M624.6 82.3h0.01M632.1 82.3h0.01M639.5 82.3h0.01M598.6 86.0h0.01M606.0 86.0h0.01M613.5 86.0h0.01M620.9 86.0h0.01M628.4 86.0h0.01M635.8 86.0h0.01M643.2 86.0h0.01M602.3 89.7h0.01M609.8 89.7h0.01M617.2 89.7h0.01M624.6 89.7h0.01M632.1 89.7h0.01M639.5 89.7h0.01M620.9 93.4h0.01" stroke="#000" stroke-width="1.15" stroke-linecap="round"/>
</g>
<path d="M581.12 16.10h2.60M658.12 16.10h2.60M581.12 25.12h2.60M658.12 25.12h2.60M581.12 34.14h2.60M658.12 34.14h2.60M581.12 43.15h2.60M658.12 43.15h2.60M581.12 52.17h2.60M658.12 52.17h2.60M581.12 61.19h2.60M658.12 61.19h2.60M581.12 70.21h2.60M658.12 70.21h2.60M581.12 79.23h2.60M658.12 79.23h2.60M581.12 88.25h2.60M658.12 88.25h2.60M581.12 97.26h2.60M658.12 97.26h2.60M581.12 106.28h2.60M658.12 106.28h2.60M581.12 115.30h2.60M658.12 115.30h2.60M583.72 16.10v-2.40M583.72 115.30v2.40M585.21 16.10v-1.20M585.21 115.30v1.20M586.70 16.10v-1.20M586.70 115.30v1.20M588.18 16.10v-1.20M588.18 115.30v1.20M589.67 16.10v-1.20M589.67 115.30v1.20M591.16 16.10v-1.20M591.16 115.30v1.20M592.65 16.10v-1.20M592.65 115.30v1.20M594.14 16.10v-1.20M594.14 115.30v1.20M595.62 16.10v-1.20M595.62 115.30v1.20M597.11 16.10v-1.20M597.11 115.30v1.20M598.60 16.10v-2.40M598.60 115.30v2.40M600.09 16.10v-1.20M600.09 115.30v1.20M601.58 16.10v-1.20M601.58 115.30v1.20M603.06 16.10v-1.20M603.06 115.30v1.20M604.55 16.10v-1.20M604.55 115.30v1.20M606.04 16.10v-1.20M606.04 115.30v1.20M607.53 16.10v-1.20M607.53 115.30v1.20M609.02 16.10v-1.20M609.02 115.30v1.20M610.50 16.10v-1.20M610.50 115.30v1.20M611.99 16.10v-1.20M611.99 115.30v1.20M613.48 16.10v-2.40M613.48 115.30v2.40M614.97 16.10v-1.20M614.97 115.30v1.20M616.46 16.10v-1.20M616.46 115.30v1.20M617.94 16.10v-1.20M617.94 115.30v1.20M619.43 16.10v-1.20M619.43 115.30v1.20M620.92 16.10v-1.20M620.92 115.30v1.20M622.41 16.10v-1.20M622.41 115.30v1.20M623.90 16.10v-1.20M623.90 115.30v1.20M625.38 16.10v-1.20M625.38 115.30v1.20M626.87 16.10v-1.20M626.87 115.30v1.20M628.36 16.10v-2.40M628.36 115.30v2.40M629.85 16.10v-1.20M629.85 115.30v1.20M631.34 16.10v-1.20M631.34 115.30v1.20M632.82 16.10v-1.20M632.82 115.30v1.20M634.31 16.10v-1.20M634.31 115.30v1.20M635.80 16.10v-1.20M635.80 115.30v1.20M637.29 16.10v-1.20M637.29 115.30v1.20M638.78 16.10v-1.20M638.78 115.30v1.20M640.26 16.10v-1.20M640.26 115.30v1.20M641.75 16.10v-1.20M641.75 115.30v1.20M643.24 16.10v-2.40M643.24 115.30v2.40M644.73 16.10v-1.20M644.73 115.30v1.20M646.22 16.10v-1.20M646.22 115.30v1.20M647.70 16.10v-1.20M647.70 115.30v1.20M649.19 16.10v-1.20M649.19 115.30v1.20M650.68 16.10v-1.20M650.68 115.30v1.20M652.17 16.10v-1.20M652.17 115.30v1.20M653.66 16.10v-1.20M653.66 115.30v1.20M655.14 16.10v-1.20M655.14 115.30v1.20M656.63 16.10v-1.20M656.63 115.30v1.20M658.12 16.10v-2.40M658.12 115.30v2.40" stroke="#111" stroke-width="0.75" fill="none"/>
<path d="M613.48 16.10V115.30M583.72 70.21H658.12" stroke="#000" stroke-width="1.1" stroke-dasharray="3 3.2" fill="none"/>
<rect x="583.72" y="16.10" width="74.40" height="99.20" fill="none" stroke="#111" stroke-width="1.05"/>
<clipPath id="cb0"><rect x="18.10" y="143.30" width="74.40" height="99.00"/></clipPath>
<g clip-path="url(#cb0)">
<rect x="18.10" y="143.30" width="74.40" height="99.00" fill="#eef03c"/>
<path d="M58.8 149.2 62.7 149.2 63.7 150.2 63.7 153.2 62.8 154.2 62.7 156.2 59.8 159.1 58.8 159.2 57.8 160.1 54.8 160.1 53.8 161.1 52.8 160.1 51.8 160.1 50.8 159.1 50.8 157.2 51.8 156.2 51.8 155.2 56.8 150.2 57.8 150.2 58.8 149.2ZM68.7 190.8 75.6 190.8 76.6 191.8 77.6 191.8 79.6 193.8 79.6 195.8 77.6 197.8 77.6 198.7 61.8 214.6 61.7 215.6 58.8 218.5 58.8 219.5 56.8 221.5 56.8 222.5 53.8 225.5 52.8 225.5 51.8 226.5 50.8 226.5 49.8 227.5 48.9 226.5 47.9 226.5 45.9 224.5 46.1 223.5 45.7 222.5 50.6 212.6 52.8 209.6 53.0 208.6 64.4 196.8 64.5 195.8 66.5 193.8 66.7 192.2 68.7 190.8Z" fill="#90f0f0"/>
<path d="M58.8 151.9 59.8 151.2 60.8 151.2 61.7 152.2 61.0 153.2 60.7 155.2 60.0 156.2 56.8 158.1 53.8 158.4 52.9 158.2 54.5 155.2 57.8 152.2ZM66.7 195.2 68.7 195.2 69.3 195.8 69.4 197.8 68.4 198.7 68.4 199.7 65.4 202.7 65.4 203.7 64.7 204.4 57.8 211.3 56.8 211.3 56.1 210.6 56.2 207.7 57.2 206.7 58.4 203.7 64.6 196.8 64.7 196.2 65.7 196.2 66.1 195.8Z" fill="#70e8f0"/>
<path d="M39.9 146.7 47.9 146.7 49.4 148.2 49.3 152.2 47.9 153.8 44.9 153.9 43.9 154.9 42.9 153.9 39.9 153.8 38.3 152.2 38.4 148.2 39.4 147.3ZM57.8 167.3 68.7 167.3 69.7 168.3 74.6 168.4 75.6 169.4 78.6 169.4 79.6 170.4 81.6 170.4 82.6 171.4 83.6 171.4 84.6 172.4 85.6 172.4 86.5 173.4 87.5 173.4 90.1 176.0 90.1 177.0 91.0 178.0 91.0 178.9 88.5 181.4 74.6 181.7 73.7 182.6 72.7 182.5 70.3 184.9 70.3 185.9 68.2 187.9 67.2 190.8 66.2 191.8 65.9 193.8 63.9 195.8 63.9 196.8 52.2 208.6 44.9 217.6 42.9 221.5 41.9 226.9 36.9 231.7 36.0 231.7 35.0 232.7 34.0 232.7 33.0 233.7 30.0 233.7 29.0 234.7 26.0 234.7 25.0 233.7 21.1 233.7 18.1 230.8 18.1 191.3 21.1 188.4 24.1 188.4 25.0 187.4 28.0 187.4 29.0 186.4 31.0 186.4 32.0 185.4 33.0 185.4 34.0 184.4 35.0 184.4 36.0 183.4 36.9 183.4 38.9 181.5 39.9 181.4 41.9 179.5 42.9 179.5 49.4 173.0 49.4 172.0 50.8 170.5 51.8 170.4 52.8 169.4 53.8 169.3 54.8 168.3 57.0 168.1ZM80.6 222.0 92.5 222.0 92.5 226.0 89.5 226.0 88.5 227.0 87.5 227.0 86.5 226.0 80.6 226.0 79.1 224.5 79.1 223.5 80.1 222.5ZM47.9 231.9 54.8 231.9 56.3 233.4 56.3 234.4 54.8 235.9 47.9 235.9 47.4 235.4 47.4 232.4Z" fill="#f0d840"/>
<path d="M40.9 148.4 46.9 148.4 47.7 149.2 47.9 151.2 46.9 152.5 44.9 152.9 43.9 153.5 42.9 152.9 40.5 152.2 39.9 151.2 40.1 149.2ZM56.8 168.5 57.8 168.1 67.7 168.1 69.7 169.0 73.7 169.5 75.6 170.5 80.6 172.0 86.4 175.0 87.5 176.0 88.0 177.0 87.9 178.9 86.5 179.8 82.6 180.4 72.7 180.9 70.7 181.5 69.4 183.9 68.7 186.9 67.6 187.9 66.9 190.8 65.9 191.8 65.2 193.8 53.9 206.7 44.9 216.1 43.8 216.6 42.9 218.7 41.5 220.5 39.7 226.5 38.9 227.5 36.0 230.0 32.0 231.1 31.0 231.1 30.0 230.6 28.0 230.6 18.1 225.2 18.1 194.6 22.1 191.8 25.0 191.2 32.0 188.8 41.9 183.6 46.9 179.9 51.8 175.0 53.2 171.0 55.8 169.0Z" fill="#f0b838"/>
<path d="M41.9 149.8 45.9 149.8 46.3 150.2 46.3 151.2 44.9 151.5 43.9 152.5 42.9 151.5 41.5 151.2 41.5 150.2ZM56.8 168.8 59.8 168.3 67.7 168.7 68.7 169.7 70.7 169.8 71.7 170.7 73.7 170.7 74.6 171.7 75.6 171.8 76.6 172.7 78.6 172.8 79.6 173.7 80.6 173.8 81.6 174.7 82.6 174.8 83.6 175.7 84.6 175.8 85.8 177.0 85.8 178.0 83.6 178.2 82.6 179.1 78.6 179.2 77.6 180.1 74.6 180.1 73.7 179.3 67.7 179.6 67.4 180.9 68.3 181.9 68.1 186.9 67.1 187.9 66.7 190.1 65.0 191.8 63.9 193.8 62.7 194.5 59.2 198.7 58.8 199.7 50.2 208.6 41.9 218.0 40.9 218.1 39.9 219.1 38.9 219.1 38.4 219.5 39.0 220.5 37.6 226.5 35.0 228.7 33.0 228.9 31.0 229.0 30.0 228.3 29.0 228.2 27.0 227.3 23.1 223.6 22.1 221.1 20.4 219.5 20.4 218.5 19.4 217.6 19.3 215.6 18.3 214.6 18.4 200.7 19.4 199.7 19.5 198.7 20.5 197.8 20.5 196.8 22.1 195.3 23.1 195.2 24.1 194.3 27.0 194.2 28.0 193.2 29.0 193.2 30.0 192.3 32.0 192.2 33.0 191.3 34.0 191.3 35.0 190.3 36.0 190.3 36.9 189.3 37.9 189.3 38.9 188.3 39.9 188.3 40.9 187.3 41.9 187.3 42.9 186.3 43.9 186.3 46.9 183.3 47.9 183.3 54.8 176.4 55.8 176.3 56.8 175.3 57.8 175.3 57.8 174.8 56.8 174.7 55.2 173.0 55.2 172.0 54.3 171.0 56.3 169.0Z" fill="#f09830"/>
<path d="M57.8 168.9 62.7 168.5 65.5 169.0 66.7 169.6 72.4 175.0 67.7 177.2 66.7 178.1 66.4 179.9 67.4 182.9 67.2 186.9 65.7 189.6 62.7 193.4 54.8 202.4 43.9 213.6 38.9 216.7 36.0 217.4 36.9 218.5 37.0 219.5 36.5 220.5 37.3 221.5 36.8 225.5 36.0 226.4 33.0 227.2 29.9 226.5 28.5 225.5 27.0 222.2 23.9 220.5 22.8 218.5 23.1 217.1 20.8 213.6 20.1 210.6 20.1 206.7 21.0 201.7 23.1 198.4 25.0 197.1 28.0 196.3 31.0 194.7 33.0 194.3 44.9 188.1 47.2 185.9 49.1 184.9 55.1 178.9 58.8 177.0 59.1 175.0 56.4 173.0 55.9 171.0 57.0 169.0Z" fill="#f07828"/>
<path d="M59.8 168.8 62.7 168.8 64.7 170.0 65.7 172.0 65.8 174.0 63.7 175.0 60.8 174.6 57.8 172.5 57.4 171.0 57.8 170.0 59.1 169.0ZM60.8 178.7 62.7 178.3 64.7 179.8 66.0 182.9 65.7 187.9 64.7 188.8 64.5 189.8 62.6 191.8 62.3 192.8 45.9 209.5 42.9 211.8 40.9 212.3 37.9 214.1 33.0 214.8 27.0 215.2 26.0 214.9 23.4 212.6 22.2 210.6 22.1 206.7 23.5 202.7 25.0 200.9 32.0 197.2 36.9 195.7 44.9 191.1 48.6 187.9 50.8 186.6 56.5 180.9 60.4 178.9ZM27.0 216.3 30.1 216.6 29.0 218.1 26.3 216.6ZM30.0 218.6 35.0 219.5 35.0 221.2 34.6 221.5 36.0 221.9 36.4 222.5 36.0 225.4 33.0 225.7 31.3 224.5 30.8 222.5 29.0 220.6 29.4 219.5ZM31.9 221.5 32.0 221.4Z" fill="#f06020"/>
<path d="M59.8 169.0 62.8 169.0 63.9 170.0 63.9 172.0 61.7 172.2 60.8 173.2 59.8 172.2 58.8 172.2 58.6 170.0 59.7 169.0ZM61.7 180.5 63.7 180.6 65.0 181.9 65.0 187.9 61.9 191.8 61.7 192.8 59.0 195.8 51.8 202.9 50.8 203.1 47.9 206.0 46.9 206.0 44.9 207.9 43.9 208.0 41.9 209.9 39.9 209.9 38.9 210.9 37.9 210.9 36.9 211.8 27.0 211.8 26.0 210.8 25.0 210.8 23.9 209.6 23.9 206.7 25.8 204.7 26.0 203.5 27.0 203.5 29.0 201.5 30.0 201.5 31.0 200.5 32.0 200.5 33.0 199.5 35.0 199.4 36.0 198.4 37.9 198.4 38.9 197.4 39.9 197.4 41.9 195.3 42.9 195.3 44.9 193.3 45.9 193.2 48.9 190.1 49.0 188.8 51.8 186.1 53.8 186.0 57.8 182.3 58.8 182.3 59.8 181.4 60.8 181.4 61.3 180.9Z" fill="#f04818"/>
<path d="M57.8 183.8 61.7 183.7 62.7 184.5 63.1 185.9 62.7 188.8 60.6 192.8 59.6 193.8 59.4 194.8 55.8 198.6 51.8 200.9 45.9 201.9 43.5 201.7 43.9 199.4 47.8 192.8 49.3 189.8 49.3 188.8 51.8 186.4 53.8 186.3 54.8 185.3 57.6 183.9Z" fill="#f03010"/>
<path d="M54.8 185.6 57.8 185.1 60.2 186.9 60.8 187.9 60.0 192.8 59.0 193.8 58.9 194.8 55.8 198.1 51.8 198.7 49.8 197.8 48.9 196.1 49.6 188.8 51.8 186.6 53.8 186.6 54.5 185.9Z" fill="#e02010"/>
<path d="M55.8 186.4 56.8 186.4 58.8 188.0 59.3 188.8 59.1 191.8 57.2 194.8 54.8 197.2 52.8 197.2 51.8 196.6 50.3 194.8 50.3 189.8 52.0 187.9 55.0 186.9Z" fill="#c01818"/>
<path d="M53.8 190.4 55.8 189.9 56.3 190.8 55.3 192.8 53.8 194.3 53.3 193.8 53.3 190.8Z" fill="#901010"/>
<path d="M18.1 168.1 18.3 168.4 18.8 169.0 19.5 169.9 20.4 171.1 21.7 172.3 23.3 173.2 25.2 174.1 27.4 174.9 29.4 175.6 31.2 176.3 32.7 177.1 34.0 177.8 35.4 178.4 36.7 178.8 38.2 178.9 39.7 178.9 41.0 178.6 42.1 177.8 43.0 176.7 43.8 175.2 44.5 173.9 45.3 172.8 46.0 171.9 46.7 171.1 47.4 170.8 48.1 170.8 48.7 171.1 49.3 171.9 49.7 172.7 50.1 173.6 50.4 174.5 50.6 175.5 51.0 176.6 51.6 177.8 52.5 179.2 53.6 180.7 54.5 181.8 55.0 182.5 55.3 182.9M18.1 179.9 18.6 180.1 19.5 180.5 20.9 181.0 22.8 181.8 24.6 182.6 26.5 183.5 28.3 184.4 30.2 185.4 32.1 186.0 33.9 186.2 35.8 186.1 37.6 185.6 39.4 184.9 41.1 183.9 42.7 182.7 44.1 181.2 45.4 179.8 46.6 178.6 47.5 177.5 48.2 176.5 48.9 176.2 49.6 176.7 50.2 178.0 50.7 179.9 51.4 181.7 52.1 183.1 53.0 184.4 53.9 185.4 54.9 186.2 55.9 187.0 57.0 187.6 58.1 188.1 59.2 188.5 60.3 188.7 61.4 188.8 62.6 188.8 63.4 188.8 63.9 188.8 64.2 188.8M18.1 187.9 18.6 188.0 19.5 188.2 20.9 188.6 22.8 189.1 24.6 189.6 26.5 190.3 28.3 190.9 30.2 191.7 32.1 192.1 33.9 192.1 35.8 191.7 37.6 190.9 39.5 190.1 41.3 189.1 43.2 188.0 45.1 186.7 46.7 186.0 48.1 185.7 49.3 186.0 50.2 186.7 51.1 187.6 52.0 188.6 53.0 189.7 53.9 190.9 54.6 191.9 55.1 192.5 55.3 192.8M21.8 192.8 22.3 193.0 23.2 193.4 24.6 193.9 26.5 194.7 28.2 195.4 29.8 196.1 31.2 196.9 32.5 197.6 33.9 197.9 35.3 197.8 36.7 197.3 38.2 196.3 39.8 195.2 41.4 193.9 43.2 192.6 45.1 191.1 46.7 190.1 48.1 189.6 49.3 189.6 50.2 190.1 50.9 190.4 51.3 190.7 51.6 190.8M25.5 198.7 26.0 199.0 26.9 199.5 28.3 200.2 30.2 201.2 32.0 202.0 33.6 202.5 35.2 202.7 36.7 202.7 38.2 202.3 39.7 201.6 41.2 200.5 42.7 199.0 44.0 197.6 45.3 196.4 46.6 195.3 47.7 194.3 48.5 193.5 49.1 193.0 49.3 192.8M18.1 202.7 18.6 203.1 19.5 203.8 20.9 204.9 22.8 206.4 24.6 207.8 26.5 209.0 28.3 210.1 30.2 211.1 31.9 212.1 33.5 213.1 34.9 214.1 36.2 215.1 37.4 216.2 38.3 217.4 39.0 218.8 39.6 220.3 40.0 222.0 40.3 224.0 40.4 226.2 40.4 228.7 40.2 230.7 39.7 232.3 39.0 233.5 38.1 234.3 37.4 234.8 36.9 235.2 36.7 235.4M36.6 223.3 36.5 223.8 36.3 224.4 36.2 224.8 35.9 225.3 35.7 225.7 35.4 226.1 35.1 226.4 34.7 226.7 34.4 227.0 34.0 227.1 33.6 227.3 33.2 227.3 32.8 227.3 32.4 227.3 32.0 227.1 31.6 227.0 31.2 226.7 30.9 226.4 30.6 226.1 30.3 225.7 30.0 225.3 29.8 224.8 29.6 224.4 29.5 223.8 29.4 223.3 29.4 222.8 29.4 222.2 29.4 221.7 29.5 221.2 29.6 220.6 29.8 220.2 30.0 219.7 30.3 219.3 30.6 218.9 30.9 218.6 31.2 218.3 31.6 218.0 32.0 217.9 32.4 217.7 32.8 217.7 33.2 217.7 33.6 217.7 34.0 217.9 34.4 218.0 34.7 218.3 35.1 218.6 35.4 218.9 35.7 219.3 35.9 219.7 36.2 220.2 36.3 220.6 36.5 221.2 36.6 221.7 36.6 222.2 36.6 222.8Z" fill="none" stroke="#828282" stroke-width="1.0" stroke-linejoin="round"/>
<path d="M68.7 143.3 68.9 143.7 69.2 144.4 69.8 145.5 70.6 147.0 71.5 148.4 72.6 149.6 73.9 150.7 75.4 151.7 76.8 152.3 78.1 152.6 79.3 152.5 80.4 152.0 81.5 151.8 82.6 152.1 83.8 152.7 84.9 153.7 86.1 154.3 87.4 154.6 88.8 154.4 90.3 153.9 91.4 153.6 92.1 153.3 92.5 153.2M81.3 166.1 81.5 165.9 81.8 165.7 82.2 165.3 82.7 164.8 83.3 164.7 83.9 165.0 84.4 165.6 85.0 166.6 85.3 167.6 85.5 168.7 85.5 169.9 85.3 171.1 85.0 172.1 84.5 172.9 83.9 173.4 83.2 173.6 82.6 173.6 82.1 173.2 81.8 172.5 81.6 171.5 81.5 170.5 81.4 169.5 81.3 168.5 81.3 167.6 81.3 166.8 81.3 166.3 81.3 166.1M70.2 158.2 70.3 158.5 70.5 159.1 70.7 160.0 71.1 161.2 71.4 162.2 71.6 162.8 71.7 163.1M51.6 204.7 52.0 204.3 53.0 203.6 54.4 202.5 56.2 201.0 58.0 200.1 59.5 199.9 61.0 200.2 62.3 201.2 63.0 202.5 63.1 203.9 62.6 205.7 61.4 207.7 60.3 209.8 59.2 212.0 58.1 214.3 57.0 216.8 55.9 218.9 54.9 220.6 53.9 222.0 53.0 223.0 52.3 223.7 51.8 224.2 51.6 224.5M55.3 214.6 55.8 214.2 56.7 213.5 58.1 212.4 60.0 210.9 61.8 209.5 63.7 208.3 65.5 207.2 67.4 206.2 69.2 205.3 71.1 204.6 73.0 203.9 74.8 203.4 76.7 203.2 78.6 203.2 80.4 203.4 82.3 203.9 84.1 204.2 86.0 204.2 87.9 203.9 89.7 203.4 91.1 203.1 92.0 202.8 92.5 202.7M59.0 222.5 59.5 222.1 60.4 221.4 61.8 220.3 63.7 218.8 65.5 217.6 67.4 216.6 69.3 215.8 71.1 215.3 73.0 215.1 74.8 215.3 76.7 215.7 78.5 216.4 80.4 216.8 82.3 216.8 84.1 216.4 86.0 215.7 87.4 215.1 88.3 214.8 88.8 214.6M62.7 232.4 63.1 232.0 63.9 231.1 65.0 229.8 66.5 228.1 67.9 226.6 69.3 225.3 70.6 224.4 71.9 223.6 73.2 223.2 74.6 223.1 75.9 223.2 77.2 223.7 78.3 224.6 79.3 225.8 80.2 227.4 81.0 229.4 81.5 231.5 81.9 233.8 82.1 236.1 82.1 238.6 82.1 240.4 82.1 241.7 82.1 242.3M64.2 220.5 64.6 220.4 65.3 220.1 66.5 219.8 67.9 219.3 69.2 219.3 70.1 219.8 70.7 220.8 71.1 222.3 71.1 223.6 70.7 224.7 70.0 225.6 68.9 226.3 68.0 226.9 67.5 227.3 67.2 227.4M85.1 222.5 85.3 222.8 85.8 223.4 86.5 224.4 87.4 225.6 88.2 227.1 89.0 229.0 89.6 231.2 90.2 233.6 90.6 235.8 90.9 237.7 91.0 239.2 91.0 240.4 91.0 241.4 91.0 242.0 91.0 242.3M68.7 232.4 68.8 233.0 69.0 234.3 69.2 236.1 69.6 238.6 69.9 240.4 70.1 241.7 70.2 242.3M63.3 218.4 63.2 218.9 63.0 219.4 62.8 219.9 62.6 220.3 62.3 220.8 61.9 221.2 61.5 221.5 61.1 221.8 60.7 222.0 60.2 222.2 59.8 222.3 59.3 222.4 58.8 222.4 58.3 222.3 57.8 222.2 57.4 222.0 56.9 221.8 56.5 221.5 56.1 221.2 55.8 220.8 55.5 220.3 55.2 219.9 55.0 219.4 54.8 218.9 54.7 218.4 54.7 217.8 54.7 217.3 54.7 216.7 54.8 216.2 55.0 215.7 55.2 215.2 55.5 214.8 55.8 214.3 56.1 213.9 56.5 213.6 56.9 213.3 57.4 213.1 57.8 212.9 58.3 212.8 58.8 212.7 59.3 212.7 59.8 212.8 60.2 212.9 60.7 213.1 61.1 213.3 61.5 213.6 61.9 213.9 62.3 214.3 62.6 214.8 62.8 215.2 63.0 215.7 63.2 216.2 63.3 216.7 63.4 217.3 63.4 217.8ZM74.4 213.4 74.3 213.9 74.1 214.5 73.8 214.9 73.4 215.4 73.0 215.8 72.6 216.2 72.1 216.5 71.5 216.8 70.9 217.1 70.3 217.2 69.7 217.4 69.0 217.4 68.4 217.4 67.7 217.4 67.1 217.2 66.5 217.1 65.9 216.8 65.3 216.5 64.8 216.2 64.4 215.8 63.9 215.4 63.6 214.9 63.3 214.5 63.1 213.9 63.0 213.4 62.9 212.9 62.9 212.3 63.0 211.8 63.1 211.3 63.3 210.7 63.6 210.3 63.9 209.8 64.4 209.4 64.8 209.0 65.3 208.7 65.9 208.4 66.5 208.1 67.1 208.0 67.7 207.8 68.4 207.8 69.0 207.8 69.7 207.8 70.3 208.0 70.9 208.1 71.5 208.4 72.1 208.7 72.6 209.0 73.0 209.4 73.4 209.8 73.8 210.3 74.1 210.7 74.3 211.3 74.4 211.8 74.5 212.3 74.5 212.9ZM82.6 228.4 82.5 229.1 82.3 229.7 82.1 230.3 81.8 230.8 81.4 231.3 81.0 231.8 80.6 232.2 80.1 232.5 79.6 232.8 79.0 233.0 78.5 233.2 77.9 233.2 77.3 233.2 76.8 233.2 76.2 233.0 75.7 232.8 75.2 232.5 74.7 232.2 74.2 231.8 73.8 231.3 73.5 230.8 73.2 230.3 72.9 229.7 72.7 229.1 72.6 228.4 72.5 227.8 72.5 227.1 72.6 226.5 72.7 225.8 72.9 225.2 73.2 224.6 73.5 224.1 73.8 223.6 74.2 223.1 74.7 222.7 75.2 222.4 75.7 222.1 76.2 221.9 76.8 221.7 77.3 221.7 77.9 221.7 78.5 221.7 79.0 221.9 79.6 222.1 80.1 222.4 80.6 222.7 81.0 223.1 81.4 223.6 81.8 224.1 82.1 224.6 82.3 225.2 82.5 225.8 82.6 226.5 82.7 227.1 82.7 227.8ZM67.8 233.2 67.7 233.7 67.6 234.3 67.4 234.7 67.2 235.2 66.9 235.6 66.6 236.0 66.3 236.3 66.0 236.6 65.6 236.9 65.2 237.0 64.8 237.2 64.4 237.2 64.0 237.2 63.6 237.2 63.2 237.0 62.8 236.9 62.5 236.6 62.1 236.3 61.8 236.0 61.5 235.6 61.3 235.2 61.0 234.7 60.9 234.3 60.7 233.7 60.6 233.2 60.6 232.7 60.6 232.1 60.6 231.6 60.7 231.1 60.9 230.5 61.0 230.1 61.3 229.6 61.5 229.2 61.8 228.8 62.1 228.5 62.5 228.2 62.8 227.9 63.2 227.8 63.6 227.6 64.0 227.6 64.4 227.6 64.8 227.6 65.2 227.8 65.6 227.9 66.0 228.2 66.3 228.5 66.6 228.8 66.9 229.2 67.2 229.6 67.4 230.1 67.6 230.5 67.7 231.1 67.8 231.6 67.9 232.1 67.9 232.7ZM89.4 213.4 89.2 213.9 89.1 214.5 88.9 214.9 88.6 215.4 88.3 215.8 88.0 216.2 87.6 216.5 87.2 216.8 86.7 217.1 86.3 217.2 85.8 217.4 85.3 217.4 84.8 217.4 84.3 217.4 83.9 217.2 83.4 217.1 82.9 216.8 82.5 216.5 82.2 216.2 81.8 215.8 81.5 215.4 81.2 214.9 81.0 214.5 80.9 213.9 80.8 213.4 80.7 212.9 80.7 212.3 80.8 211.8 80.9 211.3 81.0 210.7 81.2 210.3 81.5 209.8 81.8 209.4 82.2 209.0 82.5 208.7 82.9 208.4 83.4 208.1 83.9 208.0 84.3 207.8 84.8 207.8 85.3 207.8 85.8 207.8 86.3 208.0 86.7 208.1 87.2 208.4 87.6 208.7 88.0 209.0 88.3 209.4 88.6 209.8 88.9 210.3 89.1 210.7 89.2 211.3 89.4 211.8 89.4 212.3 89.4 212.9ZM77.5 238.0 77.4 238.4 77.3 238.8 77.1 239.2 76.9 239.6 76.6 239.9 76.3 240.2 76.0 240.5 75.7 240.7 75.3 240.9 74.9 241.1 74.5 241.2 74.1 241.2 73.7 241.2 73.3 241.2 72.9 241.1 72.5 240.9 72.1 240.7 71.8 240.5 71.5 240.2 71.2 239.9 70.9 239.6 70.7 239.2 70.5 238.8 70.4 238.4 70.3 238.0 70.3 237.6 70.3 237.1 70.3 236.7 70.4 236.3 70.5 235.9 70.7 235.5 70.9 235.1 71.2 234.8 71.5 234.5 71.8 234.2 72.1 234.0 72.5 233.8 72.9 233.6 73.3 233.5 73.7 233.5 74.1 233.5 74.5 233.5 74.9 233.6 75.3 233.8 75.7 234.0 76.0 234.2 76.3 234.5 76.6 234.8 76.9 235.1 77.1 235.5 77.3 235.9 77.4 236.3 77.5 236.7 77.5 237.1 77.5 237.6ZM58.2 235.2 58.1 235.7 58.0 236.2 57.8 236.7 57.7 237.2 57.5 237.6 57.2 238.0 57.0 238.3 56.7 238.6 56.4 238.8 56.1 239.0 55.8 239.1 55.5 239.2 55.1 239.2 54.8 239.1 54.5 239.0 54.2 238.8 53.9 238.6 53.6 238.3 53.4 238.0 53.1 237.6 52.9 237.2 52.8 236.7 52.6 236.2 52.5 235.7 52.4 235.2 52.4 234.6 52.4 234.1 52.4 233.6 52.5 233.0 52.6 232.5 52.8 232.0 52.9 231.6 53.1 231.2 53.4 230.8 53.6 230.4 53.9 230.2 54.2 229.9 54.5 229.7 54.8 229.6 55.1 229.6 55.5 229.6 55.8 229.6 56.1 229.7 56.4 229.9 56.7 230.2 57.0 230.4 57.2 230.8 57.5 231.2 57.7 231.6 57.8 232.0 58.0 232.5 58.1 233.0 58.2 233.6 58.2 234.1 58.2 234.6ZM74.5 225.0 74.5 225.3 74.4 225.6 74.2 225.9 74.0 226.2 73.8 226.4 73.6 226.6 73.4 226.8 73.1 227.0 72.8 227.2 72.5 227.3 72.2 227.3 71.8 227.4 71.5 227.4 71.2 227.3 70.9 227.3 70.6 227.2 70.3 227.0 70.0 226.8 69.7 226.6 69.5 226.4 69.3 226.2 69.1 225.9 69.0 225.6 68.9 225.3 68.8 225.0 68.8 224.6 68.8 224.3 68.8 224.0 68.9 223.7 69.0 223.4 69.1 223.1 69.3 222.8 69.5 222.5 69.7 222.3 70.0 222.1 70.3 221.9 70.6 221.8 70.9 221.7 71.2 221.6 71.5 221.6 71.8 221.6 72.2 221.6 72.5 221.7 72.8 221.8 73.1 221.9 73.4 222.1 73.6 222.3 73.8 222.5 74.0 222.8 74.2 223.1 74.4 223.4 74.5 223.7 74.5 224.0 74.6 224.3 74.6 224.6Z" fill="none" stroke="#828282" stroke-width="1.0" stroke-dasharray="1.6 1.2"/>
<path d="M22.2 194.8h0.01M30.4 194.8h0.01M26.3 198.5h0.01M34.6 198.5h0.01M30.4 202.2h0.01" stroke="#000" stroke-width="1.15" stroke-linecap="round"/>
</g>
<path d="M15.50 143.30h2.60M92.50 143.30h2.60M15.50 152.30h2.60M92.50 152.30h2.60M15.50 161.30h2.60M92.50 161.30h2.60M15.50 170.30h2.60M92.50 170.30h2.60M15.50 179.30h2.60M92.50 179.30h2.60M15.50 188.30h2.60M92.50 188.30h2.60M15.50 197.30h2.60M92.50 197.30h2.60M15.50 206.30h2.60M92.50 206.30h2.60M15.50 215.30h2.60M92.50 215.30h2.60M15.50 224.30h2.60M92.50 224.30h2.60M15.50 233.30h2.60M92.50 233.30h2.60M15.50 242.30h2.60M92.50 242.30h2.60M19.09 143.30v-1.20M19.09 242.30v1.20M22.38 143.30v-2.40M22.38 242.30v2.40M25.67 143.30v-1.20M25.67 242.30v1.20M28.96 143.30v-1.20M28.96 242.30v1.20M32.26 143.30v-1.20M32.26 242.30v1.20M35.55 143.30v-1.20M35.55 242.30v1.20M38.84 143.30v-2.40M38.84 242.30v2.40M42.13 143.30v-1.20M42.13 242.30v1.20M45.42 143.30v-1.20M45.42 242.30v1.20M48.72 143.30v-1.20M48.72 242.30v1.20M52.01 143.30v-1.20M52.01 242.30v1.20M55.30 143.30v-2.40M55.30 242.30v2.40M58.59 143.30v-1.20M58.59 242.30v1.20M61.88 143.30v-1.20M61.88 242.30v1.20M65.18 143.30v-1.20M65.18 242.30v1.20M68.47 143.30v-1.20M68.47 242.30v1.20M71.76 143.30v-2.40M71.76 242.30v2.40M75.05 143.30v-1.20M75.05 242.30v1.20M78.34 143.30v-1.20M78.34 242.30v1.20M81.64 143.30v-1.20M81.64 242.30v1.20M84.93 143.30v-1.20M84.93 242.30v1.20M88.22 143.30v-2.40M88.22 242.30v2.40M91.51 143.30v-1.20M91.51 242.30v1.20" stroke="#111" stroke-width="0.75" fill="none"/>
<path d="M38.84 143.30V242.30M18.10 197.30H92.50" stroke="#000" stroke-width="1.1" stroke-dasharray="3 3.2" fill="none"/>
<rect x="18.10" y="143.30" width="74.40" height="99.00" fill="none" stroke="#111" stroke-width="1.05"/>
<clipPath id="cb1"><rect x="112.37" y="143.30" width="74.40" height="99.00"/></clipPath>
<g clip-path="url(#cb1)">
<rect x="112.37" y="143.30" width="74.40" height="99.00" fill="#eef03c"/>
<path d="M166.9 185.9 171.9 185.9 173.9 187.9 173.9 190.8 171.9 192.8 171.9 193.8 168.9 196.8 168.9 197.8 161.0 205.7 161.0 206.7 159.0 208.6 159.0 209.6 158.0 210.6 158.0 211.6 157.0 212.6 157.0 213.6 156.0 214.6 156.0 216.6 155.0 217.6 155.0 221.5 154.0 222.5 154.0 226.5 150.1 230.4 145.1 230.4 142.3 227.4 141.9 225.5 142.1 220.5 144.9 217.6 144.9 216.6 146.7 214.6 146.8 213.6 147.7 212.6 147.7 211.6 148.6 210.6 148.7 209.6 149.6 208.6 149.7 207.7 150.7 206.7 150.8 205.7 152.8 203.7 152.9 202.7 153.9 201.7 153.9 200.7 155.9 198.7 156.0 197.8 161.7 190.8 166.9 185.9Z" fill="#90f0f0"/>
<path d="M152.1 205.1 153.7 206.7 152.7 207.7 152.7 209.6 151.7 210.6 151.7 211.6 150.7 212.6 150.7 213.6 149.8 214.6 149.8 215.6 148.1 217.3 147.1 217.2 146.5 216.6 147.0 213.6 148.0 212.6 148.0 211.6 149.0 210.6 149.0 209.6 150.0 208.6 150.0 207.7 151.5 205.7Z" fill="#70e8f0"/>
<path d="M153.0 144.8 158.0 144.8 160.5 147.3 158.0 149.7 153.0 149.7 150.6 147.3 152.5 145.3ZM151.1 168.5 152.1 168.5 153.0 169.5 154.0 169.5 155.0 170.4 156.0 170.5 157.6 172.0 157.6 173.0 159.6 175.0 159.7 176.0 160.7 177.0 160.7 178.0 161.7 178.9 161.7 179.9 162.6 180.9 162.6 182.9 163.4 183.9 162.5 186.9 158.6 191.8 157.4 194.8 156.5 195.8 156.3 196.8 155.4 197.8 155.3 198.7 153.4 200.7 153.2 201.7 152.3 202.7 152.2 203.7 150.3 205.7 150.1 206.7 149.2 207.7 146.2 213.6 146.2 214.6 144.4 216.6 144.3 217.6 140.6 221.5 139.4 226.5 139.8 229.4 141.4 232.4 141.4 236.4 140.4 237.4 140.1 238.6 138.2 238.6 137.2 239.6 126.3 239.6 125.3 240.6 123.3 240.6 122.3 239.7 119.3 239.7 118.3 238.7 117.3 238.7 113.4 235.0 112.4 233.1 112.4 185.0 114.4 185.0 115.3 184.1 126.3 184.1 127.2 183.2 131.2 183.0 133.2 181.1 134.2 181.1 135.2 180.2 137.2 180.1 138.2 179.1 139.2 179.1 140.1 178.1 141.1 178.1 145.4 174.0 145.5 173.0 148.1 170.4 149.1 169.5 150.1 169.5 150.6 169.0ZM170.9 169.5 174.9 169.5 179.3 174.0 179.3 178.0 178.8 178.4 177.8 178.4 176.9 179.4 173.9 179.4 172.9 180.4 171.9 180.4 170.9 179.4 167.9 179.4 166.4 178.0 166.4 176.0 167.4 175.0 167.4 174.0 168.4 173.0 168.4 172.0 170.4 170.0Z" fill="#f0d840"/>
<path d="M149.1 171.9 152.1 171.4 155.0 172.2 156.0 172.9 159.4 177.0 161.3 180.9 162.0 184.9 159.9 189.8 158.3 191.8 158.1 192.8 156.2 195.8 156.0 196.8 150.2 204.7 143.4 217.6 140.3 221.5 137.9 225.5 137.2 227.5 133.2 231.5 132.2 231.8 127.2 231.1 122.3 233.6 119.3 234.4 113.4 232.7 112.4 232.1 112.4 185.4 114.4 185.4 115.3 184.9 120.3 187.0 121.3 186.9 126.3 184.9 127.2 184.1 131.2 183.3 133.2 181.5 134.2 181.4 135.2 180.5 137.2 180.4 138.2 179.5 139.2 179.4 140.1 178.5 141.1 178.4 148.9 172.0Z" fill="#f0b838"/>
<path d="M150.1 173.9 153.0 173.9 155.0 174.4 158.0 177.3 159.9 180.9 160.0 185.9 158.5 190.8 154.2 197.8 152.5 199.7 147.9 206.7 144.4 213.6 143.1 215.3 142.8 216.6 138.2 223.0 137.2 223.5 133.2 223.5 131.2 222.6 129.2 222.3 127.3 220.5 126.3 220.4 122.4 216.6 122.3 215.5 120.4 213.6 120.3 212.6 119.9 223.5 118.9 224.5 118.8 227.5 116.7 229.4 116.3 230.7 114.4 230.6 113.4 231.5 112.4 230.6 112.4 185.8 115.3 185.7 117.7 187.9 117.8 188.8 118.9 189.8 119.3 194.8 119.5 193.8 121.3 191.9 121.6 190.8 126.6 185.9 129.8 183.9 131.2 183.7 133.2 181.8 134.2 181.7 135.2 180.9 137.2 180.7 138.2 179.8 141.1 178.7 143.1 177.2 148.1 174.5 149.8 174.0Z" fill="#f09830"/>
<path d="M149.1 175.5 154.0 175.5 157.5 178.9 158.7 181.9 158.7 186.9 158.1 189.8 153.1 197.8 148.5 203.7 147.0 206.7 146.1 207.7 143.8 212.6 142.1 214.6 142.1 215.6 138.2 221.5 137.2 222.2 134.2 222.2 130.2 221.0 128.2 219.4 126.5 218.5 124.3 216.3 120.8 210.6 119.6 206.7 119.8 196.8 123.3 191.1 127.5 186.9 129.2 186.0 134.2 182.4 136.2 182.1 148.3 176.0ZM113.4 191.1 114.5 191.8 116.7 197.8 118.3 198.7 118.3 206.7 115.3 215.9 113.2 220.5 112.4 221.2 112.4 190.9Z" fill="#f07828"/>
<path d="M150.1 176.6 153.0 176.6 153.9 177.0 156.0 179.1 157.3 181.9 157.3 187.9 157.0 189.7 154.1 193.8 152.7 196.8 150.7 198.7 149.3 201.7 147.5 203.7 147.3 204.7 145.2 207.7 142.9 212.6 141.3 214.6 141.3 215.6 137.6 220.5 137.2 220.9 134.2 220.9 132.2 219.9 130.4 219.5 129.2 218.4 127.4 217.6 125.3 215.4 122.0 209.6 122.0 208.6 121.0 206.7 121.0 197.8 121.3 196.9 124.3 192.0 128.4 187.9 130.2 187.0 134.4 183.9 136.2 183.6 149.2 177.0Z" fill="#f06020"/>
<path d="M150.1 177.8 153.0 177.9 155.1 179.9 155.1 180.9 156.1 181.9 156.1 188.8 155.1 189.8 155.1 190.8 154.2 191.8 154.1 192.8 148.5 199.7 143.7 206.7 137.2 219.7 134.2 219.8 133.2 218.8 131.2 218.8 129.2 216.9 128.2 216.8 125.9 214.6 125.9 213.6 123.9 211.6 123.9 210.6 122.9 209.6 122.9 207.7 121.9 206.7 122.0 197.8 123.0 196.8 123.0 195.8 125.0 193.8 125.0 192.8 129.2 188.6 130.2 188.6 132.2 186.7 133.2 186.7 135.2 184.7 137.2 184.7 138.2 183.7 139.2 183.7 140.1 182.8 141.1 182.8 142.1 181.8 143.1 181.8 144.1 180.8 145.1 180.8 146.1 179.8 147.1 179.8 148.1 178.8 149.1 178.8 150.0 178.0Z" fill="#f04818"/>
<path d="M135.2 191.7 138.2 191.1 144.1 191.3 144.4 191.8 144.1 196.8 143.9 198.7 142.3 204.7 139.2 211.6 136.2 215.0 133.2 215.4 129.2 214.2 125.6 210.6 123.8 205.7 123.7 203.7 124.3 199.7 126.2 196.8 129.2 194.1 134.9 191.8Z" fill="#f03010"/>
<path d="M131.2 198.6 134.2 198.2 135.5 198.7 137.2 200.8 137.6 202.7 137.4 205.7 136.1 208.6 134.2 210.5 131.2 211.2 129.5 210.6 127.3 208.9 127.0 206.7 126.1 204.7 127.2 200.6 130.5 198.7Z" fill="#e02010"/>
<path d="M131.2 201.2 132.2 201.2 133.2 201.8 134.7 203.7 134.7 204.7 133.2 207.5 131.2 208.5 130.2 208.5 128.7 207.7 128.7 205.7 128.4 204.7 128.7 202.7 130.4 201.7Z" fill="#c01818"/>
<path d="M133.3 198.5 133.3 198.6 133.2 198.8 133.2 198.9 133.1 199.1 133.0 199.2 132.9 199.3 132.9 199.5 132.8 199.6 132.7 199.7 132.6 199.8 132.5 199.9 132.4 200.0 132.3 200.1 132.2 200.2 132.1 200.2 132.0 200.3 132.0 200.3 131.9 200.4 131.8 200.4 131.7 200.4 131.7 200.4 131.6 200.4 131.5 200.4 131.5 200.3 131.4 200.3 131.3 200.2 131.2 200.2 131.1 200.1 131.1 200.0 131.0 199.9 130.9 199.8 130.8 199.7 130.7 199.6 130.6 199.5 130.5 199.3 130.4 199.2 130.3 199.1 130.3 198.9 130.2 198.8 130.2 198.6 130.1 198.5 130.1 198.3 130.1 198.2 130.1 198.0 130.1 197.9 130.1 197.7 130.2 197.6 130.2 197.4 130.3 197.3 130.3 197.1 130.4 197.0 130.5 196.9 130.5 196.8 130.6 196.7 130.7 196.6 130.8 196.5 130.9 196.4 131.0 196.3 131.1 196.3 131.2 196.2 131.3 196.2 131.4 196.1 131.5 196.1 131.7 196.1 131.8 196.1 131.9 196.1 132.0 196.1 132.1 196.2 132.2 196.2 132.3 196.3 132.4 196.3 132.5 196.4 132.6 196.5 132.7 196.6 132.8 196.7 132.9 196.8 133.0 196.9 133.0 197.0 133.1 197.1 133.2 197.3 133.2 197.4 133.3 197.6 133.3 197.7 133.3 197.9 133.3 198.0 133.3 198.2 133.3 198.3ZM136.5 198.9 136.4 199.4 136.2 199.8 136.1 200.2 135.9 200.7 135.6 201.1 135.4 201.5 135.1 201.9 134.8 202.2 134.5 202.6 134.2 202.9 134.0 203.2 133.7 203.4 133.4 203.7 133.1 203.9 132.9 204.1 132.7 204.3 132.4 204.4 132.2 204.5 132.0 204.5 131.8 204.6 131.6 204.6 131.4 204.5 131.2 204.5 131.0 204.4 130.8 204.3 130.6 204.1 130.3 203.9 130.1 203.7 129.8 203.4 129.5 203.2 129.3 202.9 129.0 202.6 128.7 202.2 128.4 201.9 128.2 201.5 127.9 201.1 127.7 200.7 127.5 200.2 127.3 199.8 127.2 199.4 127.1 198.9 127.1 198.5 127.0 198.0 127.1 197.5 127.1 197.1 127.2 196.6 127.3 196.2 127.4 195.7 127.5 195.3 127.7 194.9 127.9 194.5 128.1 194.1 128.3 193.8 128.5 193.5 128.8 193.2 129.0 192.9 129.3 192.6 129.6 192.4 129.9 192.2 130.2 192.0 130.6 191.9 130.9 191.8 131.2 191.8 131.6 191.7 131.9 191.7 132.2 191.8 132.6 191.8 132.9 191.9 133.2 192.0 133.6 192.2 133.9 192.4 134.2 192.6 134.5 192.9 134.7 193.2 135.0 193.5 135.3 193.8 135.5 194.1 135.7 194.5 135.9 194.9 136.0 195.3 136.2 195.7 136.3 196.2 136.4 196.6 136.5 197.1 136.5 197.5 136.5 198.0 136.5 198.5ZM139.6 199.4 139.5 200.1 139.2 200.8 139.0 201.6 138.6 202.3 138.2 203.0 137.8 203.6 137.4 204.2 136.9 204.8 136.4 205.4 135.9 205.9 135.4 206.4 135.0 206.9 134.5 207.3 134.1 207.6 133.7 208.0 133.3 208.2 132.9 208.4 132.6 208.6 132.2 208.7 131.9 208.7 131.6 208.7 131.2 208.7 130.9 208.6 130.6 208.4 130.2 208.2 129.8 208.0 129.4 207.6 129.0 207.3 128.6 206.9 128.1 206.4 127.7 205.9 127.2 205.4 126.7 204.8 126.3 204.2 125.8 203.6 125.4 203.0 125.0 202.3 124.7 201.6 124.5 200.8 124.3 200.1 124.1 199.4 124.0 198.6 124.0 197.9 124.0 197.1 124.1 196.3 124.2 195.5 124.4 194.8 124.6 194.1 124.8 193.4 125.0 192.7 125.3 192.0 125.7 191.4 126.0 190.8 126.4 190.3 126.8 189.8 127.3 189.3 127.8 188.9 128.2 188.5 128.7 188.2 129.3 187.9 129.8 187.7 130.3 187.5 130.9 187.4 131.5 187.3 132.0 187.3 132.6 187.4 133.1 187.5 133.7 187.7 134.3 187.9 134.8 188.2 135.3 188.5 135.8 188.9 136.3 189.3 136.8 189.8 137.2 190.3 137.6 190.8 138.0 191.4 138.3 192.0 138.6 192.7 138.9 193.4 139.1 194.1 139.3 194.8 139.5 195.5 139.6 196.3 139.7 197.1 139.7 197.9 139.7 198.6ZM142.8 199.8 142.6 200.9 142.3 201.9 141.9 202.9 141.4 203.9 140.8 204.8 140.3 205.7 139.6 206.6 139.0 207.5 138.3 208.3 137.6 209.0 136.9 209.7 136.3 210.3 135.6 210.9 135.0 211.4 134.5 211.8 133.9 212.2 133.4 212.5 132.9 212.7 132.4 212.8 132.0 212.9 131.5 212.9 131.1 212.8 130.6 212.7 130.1 212.5 129.6 212.2 129.1 211.8 128.5 211.4 127.9 210.9 127.3 210.3 126.7 209.7 126.1 209.0 125.4 208.3 124.7 207.5 124.1 206.6 123.5 205.7 122.9 204.8 122.4 203.9 122.0 202.9 121.6 201.9 121.3 200.9 121.1 199.8 121.0 198.8 120.9 197.7 121.0 196.6 121.1 195.5 121.2 194.5 121.4 193.4 121.7 192.4 122.0 191.4 122.4 190.4 122.8 189.5 123.3 188.7 123.8 187.8 124.3 187.1 124.9 186.4 125.5 185.7 126.2 185.1 126.9 184.6 127.6 184.1 128.3 183.8 129.0 183.4 129.8 183.2 130.6 183.1 131.3 183.0 132.1 183.0 132.9 183.1 133.7 183.2 134.5 183.4 135.3 183.8 136.0 184.1 136.8 184.6 137.5 185.1 138.1 185.7 138.8 186.4 139.4 187.1 140.0 187.8 140.5 188.7 141.0 189.5 141.4 190.4 141.8 191.4 142.1 192.4 142.4 193.4 142.6 194.5 142.8 195.5 142.9 196.6 142.9 197.7 142.9 198.8ZM145.9 200.3 145.6 201.6 145.3 202.9 144.8 204.2 144.2 205.5 143.5 206.7 142.7 207.9 141.9 209.0 141.1 210.1 140.2 211.1 139.3 212.1 138.4 212.9 137.6 213.7 136.8 214.5 136.0 215.1 135.2 215.7 134.5 216.1 133.9 216.5 133.2 216.8 132.6 217.0 132.0 217.1 131.5 217.1 130.9 217.0 130.3 216.8 129.6 216.5 129.0 216.1 128.3 215.7 127.6 215.1 126.9 214.5 126.1 213.7 125.3 212.9 124.5 212.1 123.6 211.1 122.8 210.1 121.9 209.0 121.2 207.9 120.5 206.7 119.8 205.5 119.2 204.2 118.7 202.9 118.4 201.6 118.1 200.3 117.9 198.9 117.9 197.5 117.9 196.1 118.1 194.8 118.3 193.4 118.5 192.0 118.9 190.7 119.3 189.4 119.8 188.2 120.3 187.0 120.9 185.9 121.6 184.9 122.3 183.9 123.0 182.9 123.8 182.1 124.6 181.3 125.5 180.7 126.4 180.1 127.3 179.6 128.3 179.2 129.3 178.9 130.2 178.7 131.2 178.6 132.3 178.6 133.3 178.7 134.3 178.9 135.3 179.2 136.3 179.6 137.3 180.1 138.2 180.7 139.1 181.3 140.0 182.1 140.8 182.9 141.6 183.9 142.3 184.9 143.0 185.9 143.6 187.0 144.2 188.2 144.7 189.4 145.1 190.7 145.4 192.0 145.7 193.4 146.0 194.8 146.1 196.1 146.1 197.5 146.1 198.9ZM149.1 200.7 148.7 202.3 148.3 203.9 147.7 205.5 146.9 207.1 146.1 208.6 145.1 210.0 144.2 211.4 143.1 212.7 142.0 214.0 141.0 215.1 139.9 216.2 138.9 217.2 137.9 218.1 136.9 218.9 136.0 219.5 135.2 220.1 134.3 220.6 133.6 220.9 132.8 221.2 132.1 221.3 131.4 221.3 130.7 221.2 129.9 220.9 129.2 220.6 128.4 220.1 127.6 219.5 126.7 218.9 125.8 218.1 124.8 217.2 123.9 216.2 122.8 215.1 121.8 214.0 120.8 212.7 119.8 211.4 118.8 210.0 118.0 208.6 117.1 207.1 116.4 205.5 115.8 203.9 115.4 202.3 115.1 200.7 114.9 199.0 114.8 197.4 114.9 195.7 115.0 194.0 115.3 192.3 115.6 190.7 116.1 189.1 116.6 187.5 117.1 186.0 117.8 184.5 118.5 183.2 119.3 181.9 120.2 180.7 121.1 179.5 122.0 178.5 123.1 177.6 124.1 176.8 125.2 176.1 126.4 175.5 127.5 175.0 128.7 174.6 129.9 174.4 131.1 174.2 132.4 174.2 133.6 174.4 134.9 174.6 136.1 175.0 137.3 175.5 138.5 176.1 139.6 176.8 140.7 177.6 141.8 178.5 142.8 179.5 143.8 180.7 144.7 181.9 145.5 183.2 146.2 184.5 146.9 186.0 147.5 187.5 148.1 189.1 148.5 190.7 148.9 192.3 149.1 194.0 149.3 195.7 149.4 197.4 149.3 199.0ZM112.4 170.5 112.8 170.6 113.8 170.8 115.2 171.1 117.0 171.5 118.9 172.0 120.7 172.6 122.6 173.3 124.5 174.2 126.3 174.9 128.0 175.5 129.8 175.8 131.4 175.9 133.2 176.0 135.2 176.0 137.3 175.9 139.5 175.8 141.5 175.8 143.2 176.0 144.5 176.3 145.7 176.7 146.9 177.5 148.3 178.5 149.8 179.9 151.5 181.5 153.2 182.9 154.7 184.0 156.3 185.0 157.8 185.7 159.3 186.4 160.9 186.9 162.5 187.3 164.2 187.7 165.4 187.9 166.3 188.1 166.7 188.1M112.4 177.5 113.2 177.6 114.7 177.8 117.1 178.2 120.3 178.6 123.4 179.0 126.6 179.3 129.8 179.6 132.9 179.7 135.8 180.1 138.3 180.6 140.5 181.4 142.3 182.4 144.0 183.7 145.5 185.3 146.8 187.2 147.9 189.5 148.5 191.7 148.7 194.1 148.5 196.5 147.7 199.0 147.0 201.5 146.2 203.9 145.5 206.4 144.7 208.9 144.1 211.7 143.5 214.8 143.1 218.2 142.7 221.9 142.5 225.5 142.5 228.9 142.7 232.3 143.1 235.5 143.3 237.9 143.5 239.5 143.6 240.3" fill="none" stroke="#828282" stroke-width="1.0" stroke-linejoin="round"/>
<path d="M131.0 143.3 131.1 143.6 131.4 144.2 131.8 145.2 132.4 146.4 133.0 147.4 133.6 148.2 134.3 148.8 135.1 149.1 135.9 149.0 137.0 148.4 138.1 147.3 139.4 145.7 140.4 144.5 141.1 143.7 141.4 143.3M155.0 210.0 155.3 209.9 155.9 209.8 156.9 209.5 158.1 209.2 159.8 209.3 161.8 209.9 164.3 211.1 167.2 212.7 170.1 214.3 173.0 215.9 175.8 217.5 178.7 219.0 181.0 220.4 182.7 221.5 183.9 222.4 184.4 223.0 184.6 223.7 184.2 224.3 183.4 224.9 182.2 225.5 180.3 226.2 177.8 227.0 174.7 227.9 170.9 228.9 167.4 229.4 164.2 229.4 161.4 228.9 158.8 227.9 156.8 226.6 155.4 225.0 154.5 223.1 154.2 220.9 154.1 218.8 154.1 216.7 154.2 214.7 154.5 212.8 154.8 211.4 154.9 210.5 155.0 210.0M165.2 222.5 165.6 222.6 166.4 222.7 167.7 222.9 169.4 223.1 170.2 223.4 170.2 223.6 169.4 223.9 167.7 224.1 166.4 224.3 165.6 224.4 165.2 224.5" fill="none" stroke="#828282" stroke-width="1.0" stroke-dasharray="1.6 1.2"/>
<path d="M124.7 194.8h0.01M132.9 194.8h0.01M137.1 198.5h0.01M132.9 202.2h0.01" stroke="#000" stroke-width="1.15" stroke-linecap="round"/>
</g>
<path d="M109.77 143.30h2.60M186.77 143.30h2.60M109.77 152.30h2.60M186.77 152.30h2.60M109.77 161.30h2.60M186.77 161.30h2.60M109.77 170.30h2.60M186.77 170.30h2.60M109.77 179.30h2.60M186.77 179.30h2.60M109.77 188.30h2.60M186.77 188.30h2.60M109.77 197.30h2.60M186.77 197.30h2.60M109.77 206.30h2.60M186.77 206.30h2.60M109.77 215.30h2.60M186.77 215.30h2.60M109.77 224.30h2.60M186.77 224.30h2.60M109.77 233.30h2.60M186.77 233.30h2.60M109.77 242.30h2.60M186.77 242.30h2.60M113.36 143.30v-1.20M113.36 242.30v1.20M116.65 143.30v-2.40M116.65 242.30v2.40M119.94 143.30v-1.20M119.94 242.30v1.20M123.23 143.30v-1.20M123.23 242.30v1.20M126.53 143.30v-1.20M126.53 242.30v1.20M129.82 143.30v-1.20M129.82 242.30v1.20M133.11 143.30v-2.40M133.11 242.30v2.40M136.40 143.30v-1.20M136.40 242.30v1.20M139.69 143.30v-1.20M139.69 242.30v1.20M142.99 143.30v-1.20M142.99 242.30v1.20M146.28 143.30v-1.20M146.28 242.30v1.20M149.57 143.30v-2.40M149.57 242.30v2.40M152.86 143.30v-1.20M152.86 242.30v1.20M156.15 143.30v-1.20M156.15 242.30v1.20M159.45 143.30v-1.20M159.45 242.30v1.20M162.74 143.30v-1.20M162.74 242.30v1.20M166.03 143.30v-2.40M166.03 242.30v2.40M169.32 143.30v-1.20M169.32 242.30v1.20M172.61 143.30v-1.20M172.61 242.30v1.20M175.91 143.30v-1.20M175.91 242.30v1.20M179.20 143.30v-1.20M179.20 242.30v1.20M182.49 143.30v-2.40M182.49 242.30v2.40M185.78 143.30v-1.20M185.78 242.30v1.20" stroke="#111" stroke-width="0.75" fill="none"/>
<path d="M133.11 143.30V242.30M112.37 197.30H186.77" stroke="#000" stroke-width="1.1" stroke-dasharray="3 3.2" fill="none"/>
<rect x="112.37" y="143.30" width="74.40" height="99.00" fill="none" stroke="#111" stroke-width="1.05"/>
<clipPath id="cb2"><rect x="206.64" y="143.30" width="74.40" height="99.00"/></clipPath>
<g clip-path="url(#cb2)">
<rect x="206.64" y="143.30" width="74.40" height="99.00" fill="#eef03c"/>
<path d="M263.2 183.9 265.2 183.9 266.2 184.9 267.2 184.9 268.1 185.9 268.1 186.9 269.1 187.9 269.1 191.8 268.1 192.8 268.1 193.8 267.2 194.8 267.2 195.8 266.2 196.8 266.2 197.8 265.2 198.7 265.2 199.7 264.2 200.7 264.2 201.7 263.2 202.7 263.2 203.7 262.2 204.7 262.2 205.7 260.2 207.7 260.2 208.6 259.2 209.6 259.2 210.6 258.2 211.6 258.2 212.6 257.2 213.6 257.2 215.6 256.2 216.6 256.2 218.5 255.3 219.5 255.2 221.5 254.3 222.5 254.3 224.5 249.3 229.4 248.3 229.4 247.3 230.4 241.4 230.4 240.4 229.4 239.4 229.4 238.2 227.4 238.1 220.5 239.4 215.6 241.2 213.6 241.2 212.6 242.1 211.6 242.2 210.6 244.0 208.6 244.0 207.7 245.9 205.7 245.9 204.7 250.1 200.7 250.2 199.7 253.2 196.8 253.2 195.8 254.2 194.8 254.2 193.8 255.2 192.8 255.2 191.8 263.2 183.9Z" fill="#90f0f0"/>
<path d="M247.3 203.6 247.9 203.7 248.0 207.7 247.0 208.6 247.0 209.6 244.3 212.3 243.7 211.6 244.3 207.7 246.2 205.7 246.2 204.7 247.2 203.7Z" fill="#70e8f0"/>
<path d="M238.4 159.9 241.4 159.9 242.4 160.8 243.3 160.8 253.6 171.0 253.7 172.0 255.7 174.0 255.7 175.0 256.7 176.0 256.7 178.0 257.7 178.9 257.8 180.9 256.9 181.9 256.9 184.9 256.0 185.9 255.5 190.8 253.6 193.8 253.5 194.8 252.6 195.8 252.5 196.8 249.6 199.7 249.5 200.7 246.1 203.7 244.3 206.2 243.5 207.7 243.4 208.6 241.6 210.6 241.5 211.6 240.7 212.6 240.6 213.6 238.8 215.6 238.6 216.6 237.8 217.6 237.7 219.5 236.9 220.5 235.9 225.5 235.7 228.4 235.8 229.4 237.5 232.4 238.7 233.4 238.7 239.3 237.4 239.6 236.4 240.6 222.5 240.6 221.5 241.6 218.5 241.6 217.6 240.6 214.6 240.7 213.6 239.7 212.6 239.7 211.6 238.7 210.6 238.7 208.1 236.4 208.1 235.4 206.6 234.0 206.6 185.0 208.6 183.2 213.6 183.3 214.6 182.3 220.5 182.0 221.5 181.1 223.5 181.0 226.5 179.2 229.6 178.9 232.7 176.0 232.8 175.0 233.8 174.0 233.9 173.0 234.9 172.0 235.0 169.0 236.0 168.1 236.1 163.1 237.1 162.1 237.1 161.1 238.1 160.1Z" fill="#f0d840"/>
<path d="M242.4 169.0 249.3 173.0 252.3 175.7 255.1 179.9 256.2 184.9 255.6 185.9 255.2 190.3 254.3 192.8 253.4 193.8 251.9 196.8 243.7 205.7 240.4 212.6 237.5 217.6 237.1 219.5 234.8 225.5 233.5 230.4 232.4 232.9 231.4 234.2 230.4 234.4 220.5 234.4 217.6 233.8 212.6 234.7 209.6 233.4 206.6 232.7 206.6 185.4 209.6 184.4 212.6 185.4 217.5 182.9 220.5 182.4 221.5 181.5 223.5 181.4 226.5 179.6 229.5 179.4 233.4 176.6 237.7 173.0 239.4 171.0 242.3 169.0Z" fill="#f0b838"/>
<path d="M240.4 175.9 243.3 176.2 244.3 176.9 247.3 177.2 249.3 178.2 254.3 183.2 255.3 185.9 253.7 191.8 251.3 195.8 245.9 201.7 241.0 208.6 239.4 212.6 238.4 213.7 237.0 216.6 236.1 220.5 233.4 225.6 231.4 227.1 230.4 227.4 222.5 227.6 220.5 227.3 219.6 226.5 218.5 226.3 214.6 222.4 214.3 223.5 213.3 224.5 213.2 227.4 211.1 229.4 211.1 230.4 210.6 230.8 208.6 230.7 207.6 231.6 206.6 230.7 206.6 185.8 209.6 185.6 212.2 187.9 212.6 188.9 217.9 183.9 221.9 181.9 223.5 181.7 226.5 179.9 229.5 179.7 230.4 178.9 235.4 177.0 237.4 176.9 240.0 176.0Z" fill="#f09830"/>
<path d="M239.4 177.5 241.4 177.3 243.3 178.1 246.3 178.5 249.1 179.9 253.3 184.1 253.7 184.9 253.9 186.9 253.1 190.8 251.3 193.8 245.3 200.9 239.8 208.6 238.4 212.2 236.0 216.6 235.0 220.5 232.9 224.5 230.4 225.9 229.5 226.1 221.5 225.9 218.8 224.5 214.6 220.3 213.6 218.3 213.0 218.5 211.6 221.7 209.3 223.5 207.6 225.4 206.6 225.4 206.6 189.4 208.6 189.1 211.4 190.8 212.0 191.8 212.6 192.1 213.6 190.1 219.5 184.4 225.5 181.4 228.5 181.1 229.5 180.4 234.4 179.1 235.4 178.5 238.6 178.0Z" fill="#f07828"/>
<path d="M240.4 178.6 241.4 178.6 243.3 179.6 245.3 179.6 248.1 180.9 252.3 185.1 252.6 187.9 252.1 190.8 249.9 193.8 249.7 194.8 246.7 197.8 246.5 198.7 242.8 202.7 242.6 203.7 240.8 205.7 240.6 206.7 238.8 208.6 238.7 209.6 237.9 210.6 237.8 211.6 236.1 213.6 236.1 214.6 235.2 215.6 235.1 216.6 234.4 217.6 234.4 219.5 232.4 223.3 229.5 224.8 222.5 224.8 219.7 223.5 215.6 219.4 213.2 214.6 213.2 212.6 212.0 210.6 212.1 198.7 212.3 196.8 213.2 194.8 213.2 193.8 214.6 191.0 219.7 185.9 226.5 182.6 228.5 182.6 236.4 179.6 238.4 179.6 239.6 178.9Z" fill="#f06020"/>
<path d="M240.4 179.8 241.4 179.8 242.4 180.8 245.3 180.8 246.3 181.8 247.3 181.8 251.4 185.9 251.3 190.3 243.3 199.6 238.4 207.2 234.4 215.6 233.6 217.6 233.6 219.5 232.6 220.5 232.4 221.7 231.4 222.7 230.4 222.7 229.5 223.7 222.5 223.7 221.5 222.7 220.5 222.7 216.4 218.5 216.3 217.6 215.4 216.6 215.3 215.6 214.4 214.6 214.3 211.6 213.3 210.6 213.3 205.7 213.3 196.8 214.3 195.8 214.4 193.8 215.3 192.8 215.4 191.8 220.5 186.7 221.5 186.7 222.5 185.7 223.5 185.7 224.5 184.7 225.5 184.7 226.5 183.7 229.5 183.7 230.4 182.7 232.4 182.7 233.4 181.8 235.4 181.8 236.4 180.8 239.4 180.8 240.2 179.9Z" fill="#f04818"/>
<path d="M228.5 189.8 233.4 189.3 240.4 189.7 240.8 190.8 240.4 194.8 238.6 201.7 235.3 209.6 228.5 217.9 227.5 218.4 225.5 218.5 223.5 217.9 221.3 216.6 218.0 212.6 216.3 207.7 216.2 201.7 216.7 198.7 218.0 195.8 219.5 193.6 222.5 191.6 228.4 189.8Z" fill="#f03010"/>
<path d="M226.5 196.8 229.5 196.5 231.0 196.8 233.4 200.4 233.6 201.7 232.7 207.7 230.4 210.0 226.5 212.0 225.5 212.1 222.5 210.7 220.8 208.6 219.7 205.7 219.7 202.7 220.8 199.7 222.5 197.7 226.4 196.8Z" fill="#e02010"/>
<path d="M224.5 200.2 228.5 200.2 230.4 201.9 230.9 202.7 230.9 205.7 229.3 207.7 226.5 208.5 224.5 208.1 223.5 207.5 222.0 204.7 222.0 203.7 223.7 200.7Z" fill="#c01818"/>
<path d="M226.5 203.2 227.5 203.2 227.9 203.7 227.9 204.7 227.5 205.1 226.5 205.3 225.6 204.7 225.6 203.7Z" fill="#901010"/>
<path d="M225.9 197.7 225.9 197.8 225.9 198.0 225.8 198.1 225.7 198.3 225.7 198.4 225.6 198.6 225.5 198.7 225.4 198.8 225.3 198.9 225.2 199.0 225.1 199.1 225.0 199.2 224.9 199.3 224.8 199.4 224.7 199.4 224.7 199.5 224.6 199.5 224.5 199.6 224.4 199.6 224.4 199.6 224.3 199.6 224.2 199.6 224.2 199.6 224.1 199.5 224.0 199.5 224.0 199.4 223.9 199.4 223.8 199.3 223.7 199.2 223.6 199.1 223.5 199.0 223.4 198.9 223.3 198.8 223.2 198.7 223.1 198.6 223.0 198.4 223.0 198.3 222.9 198.1 222.8 198.0 222.8 197.8 222.8 197.7 222.7 197.5 222.7 197.4 222.7 197.2 222.8 197.1 222.8 196.9 222.8 196.8 222.8 196.6 222.9 196.5 223.0 196.4 223.0 196.2 223.1 196.1 223.2 196.0 223.2 195.9 223.3 195.8 223.4 195.7 223.5 195.6 223.6 195.5 223.7 195.5 223.8 195.4 223.9 195.4 224.1 195.3 224.2 195.3 224.3 195.3 224.4 195.3 224.5 195.3 224.6 195.3 224.7 195.4 224.9 195.4 225.0 195.5 225.1 195.5 225.2 195.6 225.3 195.7 225.4 195.8 225.5 195.9 225.5 196.0 225.6 196.1 225.7 196.2 225.7 196.4 225.8 196.5 225.8 196.6 225.9 196.8 225.9 196.9 225.9 197.1 226.0 197.2 226.0 197.4 226.0 197.5ZM229.2 198.1 229.1 198.6 228.9 199.0 228.8 199.4 228.6 199.8 228.3 200.3 228.1 200.6 227.8 201.0 227.5 201.4 227.2 201.7 226.9 202.0 226.6 202.3 226.3 202.6 226.1 202.8 225.8 203.1 225.5 203.2 225.3 203.4 225.1 203.5 224.9 203.6 224.7 203.7 224.5 203.7 224.3 203.7 224.1 203.7 224.0 203.6 223.8 203.5 223.6 203.4 223.5 203.2 223.3 203.1 223.1 202.8 222.9 202.6 222.6 202.3 222.4 202.0 222.2 201.7 222.0 201.4 221.8 201.0 221.6 200.6 221.4 200.3 221.2 199.8 221.0 199.4 220.9 199.0 220.8 198.6 220.8 198.1 220.7 197.7 220.7 197.3 220.7 196.8 220.7 196.4 220.8 196.0 220.9 195.7 221.0 195.3 221.1 194.9 221.2 194.6 221.3 194.2 221.5 193.9 221.7 193.6 221.9 193.3 222.1 193.0 222.3 192.8 222.5 192.6 222.7 192.4 222.9 192.2 223.2 192.1 223.4 192.0 223.7 191.9 224.0 191.8 224.3 191.8 224.6 191.8 224.9 191.8 225.2 191.9 225.6 192.0 225.9 192.1 226.2 192.2 226.5 192.4 226.9 192.6 227.1 192.8 227.4 193.0 227.7 193.3 227.9 193.6 228.2 193.9 228.4 194.2 228.6 194.6 228.7 194.9 228.9 195.3 229.0 195.7 229.1 196.0 229.2 196.4 229.2 196.8 229.2 197.3 229.2 197.7ZM232.4 198.6 232.2 199.3 232.0 200.0 231.7 200.7 231.4 201.4 231.0 202.1 230.6 202.7 230.1 203.4 229.6 204.0 229.1 204.5 228.6 205.0 228.2 205.5 227.7 206.0 227.2 206.4 226.8 206.7 226.3 207.0 225.9 207.3 225.6 207.5 225.2 207.7 224.9 207.8 224.6 207.8 224.3 207.8 224.0 207.8 223.8 207.7 223.5 207.5 223.2 207.3 223.0 207.0 222.7 206.7 222.4 206.4 222.0 206.0 221.7 205.5 221.4 205.0 221.0 204.5 220.7 204.0 220.3 203.4 220.0 202.7 219.7 202.1 219.4 201.4 219.2 200.7 219.0 200.0 218.9 199.3 218.8 198.6 218.7 197.8 218.7 197.1 218.7 196.5 218.7 195.8 218.8 195.2 218.9 194.6 219.1 193.9 219.3 193.3 219.4 192.8 219.7 192.2 219.9 191.7 220.2 191.2 220.5 190.7 220.8 190.3 221.1 189.9 221.4 189.6 221.8 189.2 222.2 189.0 222.5 188.7 222.9 188.6 223.4 188.4 223.8 188.3 224.3 188.3 224.8 188.3 225.3 188.3 225.8 188.4 226.4 188.6 226.9 188.7 227.5 189.0 228.0 189.2 228.5 189.6 229.0 189.9 229.5 190.3 229.9 190.7 230.4 191.2 230.7 191.7 231.1 192.2 231.4 192.8 231.7 193.3 231.9 193.9 232.1 194.6 232.3 195.2 232.4 195.8 232.5 196.5 232.5 197.1 232.5 197.8ZM235.6 199.0 235.4 200.0 235.1 201.0 234.7 202.0 234.2 203.0 233.7 203.9 233.1 204.8 232.4 205.7 231.8 206.5 231.1 207.3 230.4 208.0 229.7 208.7 229.0 209.3 228.4 209.9 227.7 210.4 227.1 210.8 226.6 211.2 226.1 211.5 225.6 211.7 225.1 211.8 224.7 211.9 224.3 211.9 223.9 211.8 223.6 211.7 223.2 211.5 222.8 211.2 222.5 210.8 222.1 210.4 221.6 209.9 221.2 209.3 220.8 208.7 220.3 208.0 219.8 207.3 219.4 206.5 218.9 205.7 218.5 204.8 218.1 203.9 217.7 203.0 217.4 202.0 217.1 201.0 216.9 200.0 216.8 199.0 216.7 198.0 216.6 197.0 216.7 196.1 216.7 195.2 216.9 194.3 217.0 193.4 217.2 192.6 217.4 191.8 217.7 191.0 218.0 190.2 218.3 189.5 218.7 188.8 219.1 188.2 219.5 187.6 219.9 187.0 220.4 186.5 220.9 186.1 221.4 185.7 221.9 185.4 222.4 185.1 223.0 185.0 223.6 184.8 224.3 184.8 225.0 184.8 225.7 184.8 226.4 185.0 227.2 185.1 228.0 185.4 228.7 185.7 229.5 186.1 230.2 186.5 230.9 187.0 231.6 187.6 232.2 188.2 232.8 188.8 233.3 189.5 233.8 190.2 234.2 191.0 234.6 191.8 235.0 192.6 235.3 193.4 235.5 194.3 235.7 195.2 235.8 196.1 235.8 197.0 235.8 198.0ZM238.9 199.4 238.6 200.8 238.2 202.0 237.7 203.3 237.1 204.6 236.3 205.8 235.6 206.9 234.8 208.0 233.9 209.1 233.0 210.1 232.1 211.0 231.2 211.9 230.3 212.7 229.5 213.4 228.7 214.1 227.9 214.6 227.2 215.1 226.5 215.4 225.9 215.7 225.3 215.9 224.8 216.0 224.3 216.0 223.8 215.9 223.3 215.7 222.9 215.4 222.4 215.1 222.0 214.6 221.5 214.1 220.9 213.4 220.4 212.7 219.8 211.9 219.2 211.0 218.6 210.1 218.0 209.1 217.5 208.0 216.9 206.9 216.4 205.8 215.9 204.6 215.5 203.3 215.2 202.0 214.9 200.8 214.8 199.4 214.6 198.2 214.6 196.9 214.6 195.7 214.7 194.6 214.9 193.4 215.1 192.3 215.3 191.3 215.6 190.2 215.9 189.2 216.3 188.2 216.7 187.3 217.2 186.4 217.7 185.6 218.2 184.8 218.8 184.1 219.4 183.5 220.0 183.0 220.6 182.5 221.3 182.1 221.9 181.7 222.7 181.5 223.4 181.3 224.3 181.3 225.1 181.3 226.1 181.3 227.0 181.5 228.0 181.7 229.0 182.1 230.0 182.5 231.0 183.0 231.9 183.5 232.8 184.1 233.6 184.8 234.4 185.6 235.2 186.4 235.9 187.3 236.5 188.2 237.1 189.2 237.6 190.2 238.0 191.3 238.4 192.3 238.7 193.4 238.9 194.6 239.1 195.7 239.1 196.9 239.0 198.2ZM242.1 199.9 241.7 201.5 241.3 203.1 240.7 204.6 239.9 206.1 239.0 207.6 238.1 209.0 237.1 210.4 236.0 211.7 234.9 212.9 233.8 214.0 232.7 215.1 231.7 216.1 230.7 216.9 229.7 217.7 228.7 218.4 227.9 219.0 227.0 219.4 226.3 219.8 225.6 220.0 224.9 220.1 224.3 220.1 223.7 220.0 223.1 219.8 222.6 219.4 222.0 219.0 221.5 218.4 220.9 217.7 220.2 216.9 219.6 216.1 218.9 215.1 218.2 214.0 217.5 212.9 216.7 211.7 216.0 210.4 215.4 209.0 214.8 207.6 214.2 206.1 213.7 204.6 213.3 203.1 213.0 201.5 212.8 199.9 212.6 198.3 212.6 196.8 212.6 195.3 212.7 193.9 212.9 192.6 213.1 191.2 213.4 189.9 213.8 188.6 214.2 187.4 214.6 186.2 215.1 185.1 215.7 184.0 216.3 183.0 216.9 182.1 217.6 181.3 218.3 180.5 219.1 179.8 219.8 179.2 220.6 178.7 221.4 178.3 222.3 178.0 223.3 177.8 224.3 177.7 225.3 177.7 226.5 177.8 227.6 178.0 228.8 178.3 230.1 178.7 231.3 179.2 232.4 179.8 233.6 180.5 234.7 181.3 235.7 182.1 236.7 183.0 237.6 184.0 238.4 185.1 239.2 186.2 239.9 187.4 240.5 188.6 241.1 189.9 241.5 191.2 241.9 192.6 242.1 193.9 242.3 195.3 242.4 196.8 242.3 198.3ZM245.3 200.3 244.9 202.2 244.3 204.1 243.6 205.9 242.7 207.7 241.7 209.4 240.6 211.1 239.4 212.7 238.1 214.2 236.8 215.7 235.5 217.0 234.3 218.3 233.0 219.4 231.8 220.5 230.6 221.4 229.5 222.2 228.5 222.9 227.5 223.4 226.6 223.8 225.8 224.1 225.0 224.2 224.3 224.2 223.6 224.1 222.9 223.8 222.3 223.4 221.7 222.9 221.0 222.2 220.3 221.4 219.5 220.5 218.7 219.4 217.9 218.3 217.1 217.0 216.3 215.7 215.4 214.2 214.6 212.7 213.8 211.1 213.1 209.4 212.4 207.7 211.9 205.9 211.4 204.1 211.0 202.2 210.8 200.3 210.6 198.5 210.5 196.7 210.6 195.0 210.7 193.3 210.9 191.7 211.2 190.1 211.5 188.6 212.0 187.0 212.4 185.6 213.0 184.2 213.6 182.9 214.2 181.6 214.9 180.4 215.7 179.4 216.4 178.4 217.3 177.5 218.1 176.7 219.0 176.0 220.0 175.4 220.9 174.9 222.0 174.6 223.1 174.3 224.3 174.2 225.5 174.2 226.8 174.3 228.2 174.6 229.6 174.9 231.1 175.4 232.5 176.0 233.9 176.7 235.2 177.5 236.5 178.4 237.8 179.4 238.9 180.4 240.0 181.6 241.0 182.9 241.9 184.2 242.7 185.6 243.5 187.0 244.1 188.6 244.6 190.1 245.1 191.7 245.4 193.3 245.6 195.0 245.7 196.7 245.6 198.5ZM206.6 165.1 207.3 165.3 208.6 165.7 210.5 166.4 213.1 167.2 215.5 167.9 217.5 168.4 219.3 168.7 220.8 168.9 222.3 168.8 223.8 168.5 225.2 167.9 226.7 167.2 228.4 166.9 230.3 167.0 232.3 167.6 234.5 168.5 236.6 169.8 238.4 171.5 240.1 173.4 241.6 175.6 243.2 177.7 244.9 179.7 246.6 181.5 248.5 183.3 250.1 184.7 251.5 185.9 252.7 186.8 253.6 187.4 254.3 187.9 254.8 188.2 255.0 188.3" fill="none" stroke="#828282" stroke-width="1.0" stroke-linejoin="round"/>
<path d="M217.1 143.3 217.7 143.5 219.0 144.0 221.0 144.8 223.6 145.8 225.8 146.6 227.8 147.3 229.4 147.9 230.7 148.3 231.9 148.4 233.1 148.2 234.1 147.8 235.0 147.0 235.7 146.4 236.2 146.0 236.4 145.8M248.3 202.7 249.0 202.6 250.3 202.3 252.2 202.0 254.8 201.5 257.5 201.3 260.2 201.6 262.9 202.2 265.7 203.2 268.4 204.2 271.0 205.2 273.5 206.2 275.9 207.2 277.6 208.3 278.5 209.5 278.7 210.9 278.2 212.4 276.8 214.0 274.7 215.7 271.7 217.6 268.0 219.5 264.6 221.1 261.6 222.4 258.8 223.2 256.4 223.7 254.3 223.5 252.5 222.5 251.1 220.8 250.0 218.3 249.1 215.7 248.6 213.0 248.3 210.1 248.3 207.2 248.3 204.9 248.3 203.4 248.3 202.7M255.0 211.6 255.7 211.7 257.1 211.8 259.2 212.0 262.0 212.2 264.3 212.6 266.2 213.1 267.6 213.7 268.5 214.5 268.5 215.1 267.6 215.6 265.7 215.9 262.9 216.2 260.6 216.1 258.7 215.6 257.3 214.7 256.4 213.5 255.7 212.5 255.2 211.9 255.0 211.6" fill="none" stroke="#828282" stroke-width="1.0" stroke-dasharray="1.6 1.2"/>
<path d="M219.0 187.5h0.01M214.9 191.1h0.01M219.0 194.8h0.01M227.2 194.8h0.01" stroke="#000" stroke-width="1.15" stroke-linecap="round"/>
</g>
<path d="M204.04 143.30h2.60M281.04 143.30h2.60M204.04 152.30h2.60M281.04 152.30h2.60M204.04 161.30h2.60M281.04 161.30h2.60M204.04 170.30h2.60M281.04 170.30h2.60M204.04 179.30h2.60M281.04 179.30h2.60M204.04 188.30h2.60M281.04 188.30h2.60M204.04 197.30h2.60M281.04 197.30h2.60M204.04 206.30h2.60M281.04 206.30h2.60M204.04 215.30h2.60M281.04 215.30h2.60M204.04 224.30h2.60M281.04 224.30h2.60M204.04 233.30h2.60M281.04 233.30h2.60M204.04 242.30h2.60M281.04 242.30h2.60M207.63 143.30v-1.20M207.63 242.30v1.20M210.92 143.30v-2.40M210.92 242.30v2.40M214.21 143.30v-1.20M214.21 242.30v1.20M217.50 143.30v-1.20M217.50 242.30v1.20M220.80 143.30v-1.20M220.80 242.30v1.20M224.09 143.30v-1.20M224.09 242.30v1.20M227.38 143.30v-2.40M227.38 242.30v2.40M230.67 143.30v-1.20M230.67 242.30v1.20M233.96 143.30v-1.20M233.96 242.30v1.20M237.26 143.30v-1.20M237.26 242.30v1.20M240.55 143.30v-1.20M240.55 242.30v1.20M243.84 143.30v-2.40M243.84 242.30v2.40M247.13 143.30v-1.20M247.13 242.30v1.20M250.42 143.30v-1.20M250.42 242.30v1.20M253.72 143.30v-1.20M253.72 242.30v1.20M257.01 143.30v-1.20M257.01 242.30v1.20M260.30 143.30v-2.40M260.30 242.30v2.40M263.59 143.30v-1.20M263.59 242.30v1.20M266.88 143.30v-1.20M266.88 242.30v1.20M270.18 143.30v-1.20M270.18 242.30v1.20M273.47 143.30v-1.20M273.47 242.30v1.20M276.76 143.30v-2.40M276.76 242.30v2.40M280.05 143.30v-1.20M280.05 242.30v1.20" stroke="#111" stroke-width="0.75" fill="none"/>
<path d="M227.38 143.30V242.30M206.64 197.30H281.04" stroke="#000" stroke-width="1.1" stroke-dasharray="3 3.2" fill="none"/>
<rect x="206.64" y="143.30" width="74.40" height="99.00" fill="none" stroke="#111" stroke-width="1.05"/>
<clipPath id="cb3"><rect x="300.91" y="143.30" width="74.40" height="99.00"/></clipPath>
<g clip-path="url(#cb3)">
<rect x="300.91" y="143.30" width="74.40" height="99.00" fill="#eef03c"/>
<path d="M358.4 183.9 360.4 183.9 364.4 187.8 364.4 189.8 363.4 190.8 363.4 191.8 361.4 193.8 360.4 193.8 355.5 197.8 355.5 201.7 354.5 202.7 354.5 203.7 353.5 204.7 353.5 205.7 350.5 208.6 350.5 209.6 345.6 214.6 345.6 215.6 337.6 223.5 335.6 223.5 332.7 220.5 332.7 217.6 331.9 216.6 332.8 214.6 333.2 212.6 334.1 210.6 335.1 209.6 335.2 208.6 338.3 203.7 347.5 193.4 349.5 191.8 350.5 191.8 351.5 192.8 355.5 189.8 355.5 187.8 356.4 186.9 356.5 185.9 358.4 183.9Z" fill="#90f0f0"/>
<path d="M359.4 185.9 362.4 188.8 361.4 190.8 360.4 191.8 358.4 192.1 357.5 190.8 357.5 188.8 358.5 186.9ZM340.6 205.1 343.6 205.0 344.3 205.7 344.3 207.7 343.6 208.3 340.6 208.3 340.0 207.7 340.0 205.7Z" fill="#70e8f0"/>
<path d="M336.6 145.8 340.6 145.8 341.1 146.3 341.1 150.2 340.1 151.2 340.1 152.2 339.1 153.2 339.1 154.2 336.9 155.2 337.0 156.2 341.9 161.1 342.0 162.1 344.0 164.1 344.0 165.1 346.1 167.1 346.1 168.1 348.1 170.0 348.2 171.0 350.2 173.0 350.2 174.0 351.2 175.0 351.2 176.0 352.1 177.0 352.2 178.0 353.1 178.9 353.1 180.9 354.0 181.9 353.7 183.9 342.6 195.8 342.2 196.8 339.5 199.7 338.3 201.7 335.7 204.7 330.8 212.6 329.6 215.6 329.5 218.5 329.0 220.5 328.2 221.5 328.1 223.5 323.7 227.9 322.7 227.9 321.7 228.9 317.8 228.9 316.8 227.9 312.8 227.9 311.8 227.0 309.8 227.1 308.8 226.1 307.9 226.2 307.6 227.4 305.6 229.4 305.6 230.4 304.9 231.2 302.9 231.2 301.9 232.2 300.9 231.2 300.9 184.1 301.9 184.1 302.9 183.2 307.9 183.4 308.8 182.4 314.8 182.4 315.8 181.4 319.8 181.3 320.8 180.3 322.7 180.2 323.7 179.3 324.7 179.2 328.0 176.0 328.1 174.0 329.1 173.0 329.2 170.0 330.2 169.0 330.3 162.1 331.3 161.1 331.4 159.1 332.4 158.2 332.4 157.2 333.6 155.9 334.6 155.9 336.4 155.2 336.1 154.2 335.1 153.2 335.1 147.3 336.1 146.3Z" fill="#f0d840"/>
<path d="M336.6 164.7 343.6 168.2 345.8 170.0 348.5 173.2 350.6 177.0 351.5 179.9 351.9 182.9 351.5 183.9 348.9 187.9 341.8 195.8 334.0 205.7 329.7 212.6 327.7 217.9 323.7 223.4 322.3 224.5 319.8 225.5 310.8 224.3 308.8 224.8 307.9 225.5 307.3 227.4 305.3 229.4 305.3 230.4 304.9 230.8 302.9 230.8 301.9 231.8 300.9 230.8 300.9 184.9 303.9 184.4 309.8 186.6 310.8 186.6 314.8 185.3 316.8 184.1 319.8 183.1 321.7 181.7 324.7 180.3 328.7 176.5 336.1 165.1Z" fill="#f0b838"/>
<path d="M338.6 170.9 342.6 171.0 344.6 171.4 347.5 174.3 349.0 177.0 349.5 178.9 349.5 182.9 348.0 186.9 346.9 188.8 341.4 194.8 333.5 204.7 327.7 214.3 321.6 220.5 319.8 221.5 312.8 221.6 310.8 221.2 308.8 219.4 308.3 223.5 307.2 224.5 306.9 227.5 304.9 229.4 304.9 230.5 302.9 230.5 301.9 231.5 300.9 230.5 300.9 185.7 303.9 185.6 306.3 187.9 306.3 188.8 307.4 189.8 307.9 196.8 308.0 195.8 314.0 189.8 315.9 188.8 318.8 186.2 319.9 185.9 323.0 182.9 325.7 181.3 331.9 175.0 333.8 174.0 336.6 171.3 338.2 171.0Z" fill="#f09830"/>
<path d="M337.6 172.5 343.6 172.5 346.5 175.2 348.0 178.0 348.0 182.9 347.4 183.9 347.0 185.9 344.9 189.8 336.9 198.7 335.6 200.9 332.3 204.7 329.7 209.4 327.7 211.4 326.7 213.3 320.5 219.5 318.8 220.2 311.8 220.0 307.9 216.3 307.3 216.6 304.5 221.5 300.9 224.7 300.9 191.4 301.9 191.8 302.6 192.8 305.3 197.8 307.9 199.0 309.0 197.8 309.8 196.0 315.0 190.8 316.8 190.0 319.0 187.9 321.0 186.9 324.0 183.9 326.0 182.9 332.9 176.0 334.9 175.0 336.9 173.0Z" fill="#f07828"/>
<path d="M338.6 173.7 342.6 173.7 343.4 174.0 345.6 176.1 346.9 178.9 346.9 181.9 345.9 183.9 345.6 185.7 343.6 189.7 343.4 190.8 341.6 192.7 340.6 192.8 339.4 193.8 338.6 195.6 335.5 198.7 334.6 200.5 331.5 203.7 328.7 208.5 326.5 210.6 325.7 212.4 319.6 218.5 318.8 218.9 312.8 218.9 312.0 218.5 307.9 214.4 306.3 211.6 306.3 205.7 307.5 203.7 307.5 202.7 308.8 199.9 310.0 198.7 310.8 196.9 316.0 191.8 317.8 191.0 319.9 188.8 321.7 188.0 324.9 184.9 326.7 184.1 333.8 177.0 335.6 176.1 337.8 174.0Z" fill="#f06020"/>
<path d="M338.6 174.8 342.6 174.8 344.8 177.0 344.8 178.0 345.8 178.9 345.9 181.9 344.9 182.9 345.0 184.9 344.1 185.9 344.2 186.9 343.4 187.9 343.2 190.8 341.6 192.4 340.6 192.5 339.6 193.5 338.2 193.8 338.1 194.8 333.9 198.7 333.9 199.7 330.0 203.7 330.0 204.7 328.0 206.7 328.0 207.7 325.0 210.6 325.0 211.6 318.8 217.8 312.8 217.7 308.6 213.6 308.6 212.6 307.6 211.6 307.6 205.7 308.6 204.7 308.6 202.7 309.5 201.7 309.5 200.7 311.5 198.7 311.5 197.8 316.8 192.5 317.8 192.5 320.8 189.6 321.7 189.6 325.7 185.6 326.7 185.6 334.6 177.7 335.6 177.7 338.4 175.0Z" fill="#f04818"/>
<path d="M340.6 178.7 342.8 180.9 343.6 183.9 343.7 186.9 343.1 187.9 343.0 190.8 341.6 192.2 340.6 192.3 339.6 193.3 338.6 193.3 335.6 194.9 330.7 196.1 329.7 199.7 328.0 203.7 325.7 207.1 321.7 210.8 316.8 213.1 314.8 212.7 313.2 211.6 311.6 209.6 311.1 207.7 312.2 201.7 314.0 197.8 317.8 194.7 326.7 191.6 330.7 185.9 334.4 181.9 335.6 180.9 340.2 178.9Z" fill="#f03010"/>
<path d="M336.6 184.5 337.6 184.1 341.6 185.0 343.1 186.9 342.8 190.8 341.6 192.0 340.6 192.0 339.6 193.0 338.6 193.0 337.6 192.4 336.6 192.6 334.3 190.8 333.9 187.9 334.3 186.9 336.3 184.9ZM318.8 197.4 323.7 197.0 325.3 198.7 326.0 201.7 323.4 205.7 320.8 207.2 316.8 207.0 315.2 205.7 315.6 199.7 316.4 198.7 318.1 197.8Z" fill="#e02010"/>
<path d="M338.6 186.4 340.6 186.4 341.6 187.0 342.1 187.9 342.1 189.8 341.4 190.8 339.6 191.7 338.6 191.7 336.6 190.7 336.1 189.8 336.1 188.8 337.8 186.9ZM319.8 199.2 321.7 199.2 322.7 199.9 323.6 201.7 322.6 203.7 320.8 204.6 317.8 204.2 317.3 203.7 317.3 200.7 318.9 199.7Z" fill="#c01818"/>
<path d="M322.1 197.0 322.1 197.1 322.1 197.3 322.0 197.4 321.9 197.6 321.9 197.7 321.8 197.9 321.7 198.0 321.6 198.1 321.5 198.2 321.4 198.3 321.3 198.4 321.2 198.5 321.1 198.6 321.0 198.7 320.9 198.8 320.9 198.8 320.8 198.9 320.7 198.9 320.7 198.9 320.6 198.9 320.5 198.9 320.5 198.9 320.4 198.9 320.3 198.9 320.2 198.8 320.2 198.8 320.1 198.7 320.0 198.6 319.9 198.5 319.8 198.4 319.7 198.3 319.6 198.2 319.5 198.1 319.4 198.0 319.3 197.9 319.2 197.7 319.2 197.6 319.1 197.4 319.0 197.3 319.0 197.1 319.0 197.0 318.9 196.8 318.9 196.7 318.9 196.5 319.0 196.4 319.0 196.2 319.0 196.1 319.1 195.9 319.1 195.8 319.2 195.7 319.2 195.5 319.3 195.4 319.4 195.3 319.4 195.2 319.5 195.1 319.6 195.0 319.7 194.9 319.8 194.8 319.9 194.8 320.0 194.7 320.2 194.7 320.3 194.6 320.4 194.6 320.5 194.6 320.6 194.6 320.7 194.6 320.8 194.6 321.0 194.7 321.1 194.7 321.2 194.8 321.3 194.8 321.4 194.9 321.5 195.0 321.6 195.1 321.7 195.2 321.7 195.3 321.8 195.4 321.9 195.5 321.9 195.7 322.0 195.8 322.0 195.9 322.1 196.1 322.1 196.2 322.1 196.4 322.2 196.5 322.2 196.7 322.2 196.8ZM325.3 197.6 325.2 198.1 325.0 198.6 324.9 199.1 324.7 199.6 324.4 200.1 324.2 200.6 323.9 201.0 323.6 201.5 323.3 201.9 323.1 202.2 322.8 202.6 322.5 202.9 322.2 203.2 322.0 203.4 321.7 203.7 321.5 203.9 321.3 204.0 321.1 204.1 320.8 204.2 320.6 204.2 320.4 204.2 320.2 204.2 320.0 204.1 319.8 204.0 319.5 203.9 319.3 203.7 319.0 203.4 318.7 203.2 318.4 202.9 318.1 202.6 317.8 202.2 317.5 201.9 317.2 201.5 316.9 201.0 316.6 200.6 316.3 200.1 316.1 199.6 315.9 199.1 315.7 198.6 315.6 198.1 315.5 197.6 315.4 197.0 315.4 196.5 315.4 196.0 315.4 195.6 315.5 195.1 315.6 194.6 315.8 194.2 315.9 193.7 316.1 193.3 316.3 192.9 316.5 192.5 316.8 192.2 317.0 191.8 317.3 191.5 317.6 191.2 317.9 191.0 318.2 190.7 318.6 190.5 318.9 190.4 319.3 190.2 319.6 190.1 320.0 190.1 320.3 190.0 320.7 190.0 321.1 190.1 321.4 190.1 321.7 190.2 322.1 190.4 322.4 190.5 322.7 190.7 323.0 191.0 323.3 191.2 323.6 191.5 323.8 191.8 324.1 192.2 324.3 192.5 324.5 192.9 324.7 193.3 324.8 193.7 325.0 194.2 325.1 194.6 325.2 195.1 325.3 195.6 325.3 196.0 325.3 196.5 325.3 197.0ZM328.4 198.1 328.2 199.0 328.0 199.9 327.7 200.8 327.4 201.7 327.0 202.5 326.6 203.3 326.2 204.1 325.7 204.8 325.2 205.5 324.7 206.1 324.2 206.7 323.8 207.3 323.3 207.8 322.9 208.2 322.5 208.6 322.1 208.9 321.7 209.2 321.4 209.4 321.0 209.5 320.7 209.5 320.4 209.5 320.0 209.5 319.6 209.4 319.2 209.2 318.8 208.9 318.4 208.6 318.0 208.2 317.5 207.8 317.0 207.3 316.5 206.7 316.0 206.1 315.4 205.5 314.9 204.8 314.4 204.1 313.9 203.3 313.4 202.5 313.0 201.7 312.6 200.8 312.3 199.9 312.1 199.0 311.9 198.1 311.8 197.2 311.8 196.4 311.8 195.6 311.9 194.7 312.1 194.0 312.2 193.2 312.4 192.4 312.7 191.7 313.0 191.0 313.3 190.3 313.7 189.7 314.1 189.0 314.6 188.5 315.0 187.9 315.5 187.5 316.1 187.0 316.6 186.6 317.2 186.3 317.8 186.0 318.4 185.8 319.0 185.6 319.6 185.5 320.2 185.4 320.8 185.4 321.4 185.5 322.0 185.6 322.5 185.8 323.1 186.0 323.6 186.3 324.1 186.6 324.6 187.0 325.1 187.5 325.5 187.9 326.0 188.5 326.4 189.0 326.7 189.7 327.1 190.3 327.4 191.0 327.7 191.7 327.9 192.4 328.1 193.2 328.3 194.0 328.4 194.7 328.5 195.6 328.5 196.4 328.5 197.2ZM331.5 198.7 331.3 200.0 331.0 201.2 330.6 202.5 330.1 203.7 329.6 204.9 329.0 206.0 328.4 207.1 327.7 208.1 327.0 209.1 326.4 210.0 325.7 210.9 325.1 211.6 324.4 212.3 323.8 213.0 323.3 213.5 322.7 213.9 322.2 214.3 321.7 214.6 321.2 214.8 320.7 214.9 320.3 214.9 319.8 214.8 319.3 214.6 318.7 214.3 318.1 213.9 317.5 213.5 316.9 213.0 316.2 212.3 315.5 211.6 314.8 210.9 314.1 210.0 313.3 209.1 312.6 208.1 311.9 207.1 311.2 206.0 310.5 204.9 309.9 203.7 309.4 202.5 309.0 201.2 308.7 200.0 308.4 198.7 308.3 197.4 308.2 196.2 308.3 195.1 308.4 193.9 308.6 192.8 308.8 191.7 309.1 190.7 309.5 189.6 309.9 188.6 310.4 187.7 310.9 186.8 311.5 185.9 312.1 185.1 312.8 184.4 313.5 183.7 314.3 183.1 315.0 182.5 315.8 182.1 316.7 181.7 317.5 181.3 318.4 181.1 319.2 180.9 320.0 180.9 320.9 180.9 321.7 180.9 322.5 181.1 323.3 181.3 324.1 181.7 324.8 182.1 325.5 182.5 326.2 183.1 326.9 183.7 327.5 184.4 328.1 185.1 328.7 185.9 329.2 186.8 329.7 187.7 330.1 188.6 330.5 189.6 330.8 190.7 331.1 191.7 331.3 192.8 331.5 193.9 331.6 195.1 331.6 196.2 331.6 197.4ZM334.6 199.3 334.3 200.9 333.9 202.6 333.4 204.2 332.9 205.7 332.2 207.3 331.4 208.7 330.6 210.1 329.8 211.5 328.9 212.7 328.0 213.9 327.2 215.0 326.4 216.0 325.5 216.9 324.8 217.7 324.0 218.4 323.3 219.0 322.7 219.5 322.0 219.8 321.4 220.1 320.8 220.2 320.2 220.2 319.5 220.1 318.9 219.8 318.2 219.5 317.5 219.0 316.7 218.4 315.9 217.7 315.0 216.9 314.1 216.0 313.2 215.0 312.2 213.9 311.3 212.7 310.3 211.5 309.4 210.1 308.5 208.7 307.6 207.3 306.9 205.7 306.2 204.2 305.7 202.6 305.2 200.9 304.9 199.3 304.7 197.6 304.7 196.1 304.7 194.6 304.9 193.1 305.1 191.7 305.4 190.3 305.8 188.9 306.3 187.6 306.9 186.3 307.5 185.1 308.2 183.9 308.9 182.8 309.7 181.8 310.6 180.8 311.5 179.9 312.4 179.1 313.4 178.4 314.5 177.8 315.5 177.3 316.6 176.9 317.7 176.6 318.8 176.4 319.9 176.3 321.0 176.3 322.0 176.4 323.1 176.6 324.1 176.9 325.1 177.3 326.0 177.8 326.9 178.4 327.8 179.1 328.7 179.9 329.5 180.8 330.3 181.8 331.0 182.8 331.7 183.9 332.3 185.1 332.8 186.3 333.3 187.6 333.8 188.9 334.1 190.3 334.4 191.7 334.6 193.1 334.8 194.6 334.8 196.1 334.7 197.6ZM303.1 161.1 303.7 161.0 305.0 160.9 306.8 160.6 309.2 160.3 311.5 159.7 313.6 159.0 315.6 158.0 317.5 156.9 319.3 156.2 321.2 155.8 323.0 155.9 324.9 156.4 326.6 157.2 328.2 158.2 329.6 159.4 330.9 160.9 332.2 162.5 333.3 164.4 334.3 166.4 335.2 168.7 336.2 170.9 337.4 173.1 338.6 175.4 339.9 177.6 341.2 179.7 342.6 181.7 344.1 183.5 345.6 185.3 347.1 186.5 348.7 187.2 350.3 187.5 352.0 187.2 353.2 187.1 354.1 187.2 354.5 187.4 354.5 187.8 354.1 188.1 353.2 188.3 352.0 188.5 350.3 188.7 348.7 189.0 347.1 189.6 345.6 190.3 344.1 191.3 342.5 192.8 340.8 194.8 339.0 197.3 337.2 200.2 335.5 203.3 333.9 206.4 332.4 209.5 331.1 212.7 329.8 215.7 328.4 218.4 327.0 220.9 325.5 223.1 323.9 224.9 322.2 226.3 320.4 227.2 318.6 227.7 316.6 227.8 314.6 227.6 312.4 227.0 310.2 226.0 308.2 224.8 306.3 223.4 304.6 221.9 303.1 220.1 302.0 218.8 301.3 218.0 300.9 217.6M375.2 161.2 375.1 161.5 375.0 161.9 374.8 162.2 374.6 162.4 374.4 162.6 374.1 162.8 373.9 162.9 373.6 163.0 373.3 163.0 373.0 162.9 372.8 162.8 372.5 162.6 372.3 162.4 372.1 162.2 371.9 161.9 371.8 161.5 371.7 161.2 371.7 160.8 371.7 160.4 371.7 160.1 371.8 159.7 371.9 159.4 372.1 159.1 372.3 158.8 372.5 158.6 372.8 158.4 373.0 158.3 373.3 158.3 373.6 158.3 373.9 158.3 374.1 158.4 374.4 158.6 374.6 158.8 374.8 159.1 375.0 159.4 375.1 159.7 375.2 160.1 375.2 160.4 375.2 160.8Z" fill="none" stroke="#828282" stroke-width="1.0" stroke-linejoin="round"/>
<path d="M347.8 201.2 348.2 201.1 349.0 200.8 350.3 200.3 352.0 199.7 353.5 199.6 355.0 200.0 356.4 201.0 357.7 202.5 358.5 203.8 358.8 205.1 358.6 206.2 357.8 207.2 356.8 208.0 355.5 208.7 353.9 209.2 352.1 209.5 350.5 209.5 349.3 209.2 348.4 208.6 347.9 207.7 347.5 206.7 347.3 205.6 347.3 204.4 347.5 203.1 347.6 202.2 347.7 201.5 347.8 201.2" fill="none" stroke="#828282" stroke-width="1.0" stroke-dasharray="1.6 1.2"/>
<path d="M317.4 191.1h0.01M313.3 194.8h0.01M321.5 194.8h0.01M317.4 198.5h0.01" stroke="#000" stroke-width="1.15" stroke-linecap="round"/>
</g>
<path d="M298.31 143.30h2.60M375.31 143.30h2.60M298.31 152.30h2.60M375.31 152.30h2.60M298.31 161.30h2.60M375.31 161.30h2.60M298.31 170.30h2.60M375.31 170.30h2.60M298.31 179.30h2.60M375.31 179.30h2.60M298.31 188.30h2.60M375.31 188.30h2.60M298.31 197.30h2.60M375.31 197.30h2.60M298.31 206.30h2.60M375.31 206.30h2.60M298.31 215.30h2.60M375.31 215.30h2.60M298.31 224.30h2.60M375.31 224.30h2.60M298.31 233.30h2.60M375.31 233.30h2.60M298.31 242.30h2.60M375.31 242.30h2.60M301.90 143.30v-1.20M301.90 242.30v1.20M305.19 143.30v-2.40M305.19 242.30v2.40M308.48 143.30v-1.20M308.48 242.30v1.20M311.77 143.30v-1.20M311.77 242.30v1.20M315.07 143.30v-1.20M315.07 242.30v1.20M318.36 143.30v-1.20M318.36 242.30v1.20M321.65 143.30v-2.40M321.65 242.30v2.40M324.94 143.30v-1.20M324.94 242.30v1.20M328.23 143.30v-1.20M328.23 242.30v1.20M331.53 143.30v-1.20M331.53 242.30v1.20M334.82 143.30v-1.20M334.82 242.30v1.20M338.11 143.30v-2.40M338.11 242.30v2.40M341.40 143.30v-1.20M341.40 242.30v1.20M344.69 143.30v-1.20M344.69 242.30v1.20M347.99 143.30v-1.20M347.99 242.30v1.20M351.28 143.30v-1.20M351.28 242.30v1.20M354.57 143.30v-2.40M354.57 242.30v2.40M357.86 143.30v-1.20M357.86 242.30v1.20M361.15 143.30v-1.20M361.15 242.30v1.20M364.45 143.30v-1.20M364.45 242.30v1.20M367.74 143.30v-1.20M367.74 242.30v1.20M371.03 143.30v-2.40M371.03 242.30v2.40M374.32 143.30v-1.20M374.32 242.30v1.20" stroke="#111" stroke-width="0.75" fill="none"/>
<path d="M321.65 143.30V242.30M300.91 197.30H375.31" stroke="#000" stroke-width="1.1" stroke-dasharray="3 3.2" fill="none"/>
<rect x="300.91" y="143.30" width="74.40" height="99.00" fill="none" stroke="#111" stroke-width="1.05"/>
<clipPath id="cb4"><rect x="395.18" y="143.30" width="74.40" height="99.00"/></clipPath>
<g clip-path="url(#cb4)">
<rect x="395.18" y="143.30" width="74.40" height="99.00" fill="#eef03c"/>
<path d="M451.7 182.9 454.7 182.9 457.7 185.9 457.7 190.8 456.7 191.8 456.7 192.8 454.7 194.8 454.7 195.8 452.7 197.8 452.7 198.7 449.7 201.7 449.7 202.7 447.8 204.7 447.8 205.7 444.8 208.6 444.8 209.6 443.8 210.6 443.8 211.6 442.8 212.6 442.8 213.6 440.8 215.6 440.8 217.6 439.8 218.5 439.8 219.5 438.8 220.5 438.8 221.5 437.8 222.5 437.8 223.5 434.9 226.5 433.9 225.5 431.9 225.5 430.9 224.5 429.9 224.5 428.9 223.5 428.9 222.5 427.9 221.5 427.9 220.5 426.9 219.5 426.9 216.6 427.9 215.6 427.9 213.6 429.9 211.6 429.9 210.6 431.9 208.6 431.9 207.6 434.8 204.7 434.9 203.7 437.8 200.7 437.8 199.7 440.8 196.8 440.8 195.8 443.8 192.8 443.8 191.8 446.8 188.8 446.8 187.8 451.7 182.9Z" fill="#90f0f0"/>
<path d="M435.9 204.2 437.8 204.1 438.5 204.7 438.5 207.7 437.8 208.3 435.9 208.3 434.4 206.7 434.6 205.7 435.6 204.7Z" fill="#70e8f0"/>
<path d="M426.9 152.0 427.9 152.0 431.1 155.2 431.2 157.2 433.2 159.1 433.2 160.1 434.2 161.1 434.2 162.1 436.2 164.1 436.3 165.1 438.3 167.1 438.3 168.1 440.3 170.0 440.4 171.0 441.4 172.0 441.4 173.0 442.4 174.0 442.4 175.0 443.4 176.0 443.5 183.9 442.6 184.9 442.6 185.9 441.7 186.9 441.5 188.8 440.7 189.8 440.4 191.8 439.5 192.8 439.4 193.8 437.5 195.8 437.4 196.8 435.5 198.7 435.4 199.7 432.5 202.7 432.5 203.7 430.5 205.7 430.4 206.7 427.6 209.6 427.5 210.6 425.6 212.6 425.5 213.6 424.6 214.6 424.2 217.6 423.4 218.5 423.3 220.5 422.5 221.5 422.4 223.5 421.4 224.5 421.3 228.4 420.3 229.4 420.3 231.4 421.2 232.4 421.2 237.4 419.0 237.6 418.0 236.6 417.0 236.6 416.0 235.6 415.0 235.6 414.0 234.7 413.0 234.7 412.0 233.7 411.1 233.7 409.1 231.8 408.1 231.8 406.1 229.9 405.1 229.9 402.1 227.2 399.9 229.4 399.9 230.4 399.1 231.2 397.2 231.2 396.2 232.2 395.2 231.2 395.2 184.1 396.2 184.1 397.2 183.2 402.1 183.4 403.1 182.4 409.1 182.2 410.1 181.2 413.0 181.0 414.0 180.1 415.0 180.0 418.0 177.2 419.0 177.1 421.0 175.1 422.1 175.0 422.2 174.0 423.2 173.0 423.4 169.0 424.4 168.1 424.7 157.2 425.7 156.2 425.7 154.2 426.7 153.2 426.7 152.2Z" fill="#f0d840"/>
<path d="M429.9 166.0 434.9 168.3 437.8 170.7 440.8 174.8 441.9 177.0 442.3 179.9 442.2 183.9 441.8 185.9 441.2 186.9 441.2 188.8 440.3 189.8 440.1 191.8 439.2 192.8 439.1 193.8 437.2 195.8 437.1 196.8 435.2 198.7 435.1 199.7 432.3 202.7 432.1 203.7 430.2 205.7 430.1 206.7 427.3 209.6 427.2 210.6 425.3 212.6 425.1 213.6 424.2 214.6 423.0 217.3 419.0 221.5 414.0 225.5 413.0 225.5 409.1 224.3 407.1 225.1 403.1 225.7 399.5 229.4 399.5 230.4 399.1 230.8 397.2 230.8 396.2 231.8 395.2 230.8 395.2 184.9 398.2 184.4 403.1 186.2 405.1 184.9 409.1 183.3 411.0 181.9 413.0 181.4 414.0 180.5 415.0 180.4 418.0 177.5 419.0 177.4 421.0 175.5 422.0 175.4 422.5 175.0 422.7 174.0 423.9 173.0 425.8 170.0 429.9 166.1Z" fill="#f0b838"/>
<path d="M428.9 172.0 433.9 172.0 435.9 172.4 438.8 175.2 440.4 178.0 440.8 179.9 440.8 188.8 440.0 189.8 439.8 191.4 438.8 193.6 435.0 198.7 434.7 199.7 432.7 201.7 429.6 206.7 427.0 209.6 426.8 210.6 422.0 216.1 420.0 217.2 418.0 217.6 409.1 217.5 406.1 216.4 403.1 213.5 402.5 223.5 401.4 224.5 401.2 227.4 399.2 229.4 399.1 230.5 397.2 230.5 396.2 231.5 395.2 230.5 395.2 185.7 398.2 185.6 400.6 187.9 400.6 188.8 401.7 189.8 402.1 196.9 403.0 195.8 404.4 190.8 406.1 188.9 407.1 187.1 411.4 182.9 414.0 180.8 415.0 180.7 418.0 177.8 419.0 177.7 421.0 175.9 422.0 175.8 423.0 174.6 426.9 172.4 428.6 172.0Z" fill="#f09830"/>
<path d="M427.9 173.5 434.9 173.5 438.3 177.0 439.5 179.9 439.5 188.8 438.2 192.8 434.5 197.8 433.9 199.2 431.9 201.3 428.9 206.0 426.6 208.6 425.9 210.1 421.7 214.6 418.0 216.2 409.1 216.0 406.3 214.6 404.1 212.4 402.6 209.6 402.6 201.7 403.3 200.7 403.6 197.8 405.3 193.8 405.6 191.8 407.3 189.8 408.1 188.1 414.3 181.9 416.0 181.1 418.2 178.9 420.0 178.1 422.0 176.5 427.2 174.0ZM396.1 191.8 398.3 197.8 400.1 199.4 401.0 201.7 401.1 208.6 398.2 216.6 396.1 220.5 395.2 221.3 395.2 191.4Z" fill="#f07828"/>
<path d="M428.9 174.6 433.9 174.6 434.7 175.0 436.8 177.1 437.8 179.1 438.2 179.9 438.2 188.8 437.2 190.8 436.8 192.6 433.7 196.8 432.9 198.6 430.7 200.7 427.9 205.5 425.8 207.7 424.9 209.5 420.8 213.6 418.0 214.9 410.1 214.9 407.3 213.6 405.1 211.4 403.8 208.6 403.8 202.7 404.8 200.7 404.8 198.7 405.8 196.8 405.8 195.8 406.7 193.8 407.1 192.0 408.3 190.8 409.1 189.0 415.2 182.9 417.0 182.1 419.2 179.9 421.0 179.1 422.1 178.0 428.1 175.0Z" fill="#f06020"/>
<path d="M428.9 175.9 433.9 175.9 435.9 178.0 435.9 178.9 436.9 179.9 437.0 188.8 436.0 189.8 436.0 191.8 434.0 193.8 434.0 194.8 432.1 196.8 432.1 197.8 429.1 200.7 429.1 201.7 427.2 203.7 427.2 204.7 424.2 207.7 424.2 208.6 420.0 212.9 419.0 212.9 418.0 213.9 415.0 213.9 410.1 213.8 409.1 212.9 408.1 212.8 405.8 210.6 405.8 209.6 404.8 208.6 404.8 202.7 405.8 201.7 405.8 198.7 406.8 197.8 406.8 195.8 407.8 194.8 407.8 192.8 409.8 190.8 409.8 189.8 416.0 183.7 417.0 183.7 420.0 180.8 421.0 180.8 423.0 178.8 423.9 178.8 424.9 177.8 425.9 177.8 426.9 176.9 427.9 176.9 428.8 176.0Z" fill="#f04818"/>
<path d="M420.0 189.6 424.9 188.8 425.9 189.3 425.8 194.8 425.0 199.7 423.9 203.1 421.2 207.7 419.0 209.7 416.0 211.1 412.0 210.7 409.8 209.6 407.8 206.7 407.6 204.7 408.2 199.7 409.1 197.4 411.1 194.3 414.0 192.1 419.0 189.8Z" fill="#f03010"/>
<path d="M413.0 197.7 417.0 197.2 418.0 197.4 419.1 198.7 420.1 201.7 420.0 202.7 419.1 203.7 419.0 204.7 417.1 206.7 416.0 206.9 415.0 207.7 412.6 206.7 411.0 204.7 411.1 199.7 413.0 197.8Z" fill="#e02010"/>
<path d="M414.0 199.9 416.0 199.9 416.9 200.7 417.2 202.7 416.9 203.7 416.0 204.5 415.0 204.8 414.0 204.5 413.2 203.7 413.2 200.7Z" fill="#c01818"/>
<path d="M417.1 197.7 417.1 197.8 417.0 198.0 417.0 198.1 416.9 198.3 416.8 198.4 416.7 198.6 416.6 198.7 416.5 198.8 416.4 198.9 416.3 199.0 416.2 199.1 416.1 199.2 416.1 199.3 416.0 199.4 415.9 199.4 415.8 199.5 415.7 199.5 415.7 199.6 415.6 199.6 415.5 199.6 415.5 199.6 415.4 199.6 415.3 199.6 415.2 199.5 415.2 199.5 415.1 199.4 415.0 199.4 414.9 199.3 414.8 199.2 414.7 199.1 414.6 199.0 414.5 198.9 414.4 198.8 414.4 198.7 414.3 198.6 414.2 198.4 414.1 198.3 414.0 198.1 414.0 198.0 413.9 197.8 413.9 197.7 413.9 197.5 413.9 197.4 413.9 197.2 413.9 197.1 413.9 196.9 414.0 196.8 414.0 196.6 414.0 196.5 414.1 196.4 414.2 196.2 414.2 196.1 414.3 196.0 414.4 195.9 414.5 195.8 414.6 195.7 414.7 195.6 414.8 195.5 414.9 195.5 415.0 195.4 415.1 195.4 415.2 195.3 415.3 195.3 415.4 195.3 415.5 195.3 415.7 195.3 415.8 195.3 415.9 195.4 416.0 195.4 416.1 195.5 416.2 195.5 416.3 195.6 416.4 195.7 416.5 195.8 416.6 195.9 416.7 196.0 416.8 196.1 416.8 196.2 416.9 196.4 416.9 196.5 417.0 196.6 417.0 196.8 417.1 196.9 417.1 197.1 417.1 197.2 417.1 197.4 417.1 197.5ZM422.7 198.5 422.6 199.2 422.4 199.9 422.2 200.6 421.9 201.3 421.5 201.9 421.1 202.6 420.7 203.2 420.3 203.7 419.8 204.3 419.4 204.8 418.9 205.3 418.5 205.7 418.1 206.1 417.7 206.4 417.3 206.7 416.9 207.0 416.6 207.2 416.3 207.3 416.0 207.4 415.7 207.5 415.4 207.5 415.1 207.4 414.8 207.3 414.5 207.2 414.2 207.0 413.8 206.7 413.5 206.4 413.1 206.1 412.7 205.7 412.3 205.3 411.9 204.8 411.5 204.3 411.1 203.7 410.7 203.2 410.3 202.6 409.9 201.9 409.6 201.3 409.3 200.6 409.1 199.9 408.9 199.2 408.7 198.5 408.7 197.8 408.6 197.1 408.7 196.4 408.7 195.8 408.8 195.1 409.0 194.5 409.1 193.8 409.3 193.2 409.6 192.6 409.8 192.0 410.1 191.5 410.5 191.0 410.8 190.5 411.2 190.0 411.6 189.6 412.0 189.3 412.4 188.9 412.9 188.7 413.3 188.4 413.8 188.2 414.3 188.1 414.8 188.0 415.3 187.9 415.8 187.9 416.3 188.0 416.8 188.1 417.3 188.2 417.8 188.4 418.3 188.7 418.8 188.9 419.3 189.3 419.7 189.6 420.1 190.0 420.5 190.5 420.9 191.0 421.2 191.5 421.6 192.0 421.8 192.6 422.1 193.2 422.3 193.8 422.5 194.5 422.7 195.1 422.8 195.8 422.8 196.4 422.9 197.1 422.8 197.8ZM428.4 199.4 428.2 200.6 427.8 201.9 427.4 203.1 426.8 204.3 426.2 205.5 425.5 206.6 424.8 207.7 424.0 208.7 423.2 209.7 422.4 210.6 421.6 211.4 420.8 212.2 420.1 212.9 419.4 213.5 418.7 214.0 418.1 214.4 417.5 214.8 416.9 215.1 416.3 215.3 415.8 215.4 415.3 215.4 414.8 215.3 414.2 215.1 413.7 214.8 413.1 214.4 412.5 214.0 411.9 213.5 411.3 212.9 410.6 212.2 409.9 211.4 409.1 210.6 408.4 209.7 407.7 208.7 407.0 207.7 406.3 206.6 405.6 205.5 405.1 204.3 404.5 203.1 404.1 201.9 403.8 200.6 403.6 199.4 403.4 198.1 403.4 196.9 403.4 195.7 403.6 194.5 403.7 193.3 404.0 192.1 404.3 191.0 404.6 189.9 405.1 188.8 405.5 187.8 406.0 186.9 406.6 186.0 407.2 185.1 407.9 184.3 408.6 183.6 409.3 182.9 410.1 182.4 410.8 181.9 411.7 181.5 412.5 181.1 413.3 180.9 414.2 180.7 415.1 180.6 416.0 180.6 416.9 180.7 417.8 180.9 418.7 181.1 419.7 181.5 420.5 181.9 421.4 182.4 422.2 182.9 423.0 183.6 423.8 184.3 424.5 185.1 425.1 186.0 425.7 186.9 426.3 187.8 426.8 188.8 427.3 189.9 427.7 191.0 428.0 192.1 428.2 193.3 428.4 194.5 428.6 195.7 428.6 196.9 428.6 198.1ZM434.1 200.2 433.7 202.0 433.2 203.8 432.6 205.6 431.8 207.3 430.9 209.0 429.9 210.6 428.8 212.2 427.7 213.6 426.5 215.0 425.4 216.3 424.3 217.5 423.2 218.6 422.1 219.6 421.1 220.5 420.1 221.3 419.2 221.9 418.3 222.4 417.5 222.8 416.7 223.1 415.9 223.2 415.2 223.2 414.4 223.1 413.7 222.8 412.9 222.4 412.1 221.9 411.3 221.3 410.4 220.5 409.4 219.6 408.4 218.6 407.4 217.5 406.4 216.3 405.3 215.0 404.3 213.6 403.3 212.2 402.3 210.6 401.4 209.0 400.5 207.3 399.8 205.6 399.2 203.8 398.8 202.0 398.4 200.2 398.2 198.4 398.1 196.6 398.2 194.9 398.4 193.1 398.6 191.5 399.0 189.8 399.4 188.2 399.9 186.6 400.5 185.1 401.2 183.6 401.9 182.3 402.8 180.9 403.6 179.7 404.6 178.6 405.6 177.6 406.6 176.6 407.7 175.8 408.8 175.1 410.0 174.5 411.2 174.0 412.4 173.6 413.7 173.4 414.9 173.2 416.3 173.2 417.6 173.4 418.9 173.6 420.2 174.0 421.5 174.5 422.7 175.1 424.0 175.8 425.2 176.6 426.3 177.6 427.4 178.6 428.4 179.7 429.3 180.9 430.2 182.3 431.0 183.6 431.8 185.1 432.4 186.6 433.0 188.2 433.5 189.8 433.8 191.5 434.1 193.1 434.3 194.9 434.4 196.6 434.3 198.4ZM395.2 170.5 395.6 170.2 396.6 169.4 398.0 168.4 399.8 166.9 401.6 165.5 403.1 164.2 404.6 162.9 405.9 161.6 407.3 160.5 408.9 159.6 410.6 158.8 412.5 158.1 414.3 157.5 416.1 156.9 417.8 156.2 419.5 155.6 420.8 155.6 422.0 156.2 422.8 157.5 423.4 159.3 423.9 161.3 424.5 163.3 425.0 165.5 425.6 167.7 426.3 169.8 427.3 171.9 428.4 174.0 429.7 176.0 430.9 177.8 432.0 179.6 433.0 181.2 434.0 182.7 434.5 184.4 434.6 186.4 434.2 188.6 433.5 191.1 432.6 193.7 431.4 196.4 430.1 199.2 428.7 202.2 427.3 205.2 426.0 208.1 424.8 211.1 423.6 214.1 422.5 216.9 421.4 219.7 420.3 222.3 419.2 224.7 417.9 226.7 416.4 228.2 414.7 229.2 412.9 229.7 410.9 229.7 408.9 229.2 406.7 228.2 404.5 226.7 402.4 225.2 400.6 223.6 398.9 221.9 397.4 220.1 396.3 218.8 395.6 218.0 395.2 217.6" fill="none" stroke="#828282" stroke-width="1.0" stroke-linejoin="round"/>
<path d="M439.8 194.8 440.4 194.8 441.5 194.8 443.2 194.8 445.4 194.8 447.7 195.1 450.1 195.7 452.7 196.6 455.3 197.9 457.5 199.2 459.4 200.7 460.8 202.3 462.0 204.1 462.5 205.7 462.4 207.3 461.7 208.9 460.4 210.4 458.7 211.5 456.7 212.4 454.2 213.0 451.4 213.2 448.9 213.6 446.7 214.1 444.7 214.7 443.1 215.4 441.8 215.1 440.8 213.8 440.3 211.4 440.1 207.9 440.0 204.8 439.9 202.1 439.8 199.7 439.8 197.8 439.8 196.3 439.8 195.3 439.8 194.8" fill="none" stroke="#828282" stroke-width="1.0" stroke-dasharray="1.6 1.2"/>
<path d="M419.9 198.5h0.01M415.8 202.2h0.01" stroke="#000" stroke-width="1.15" stroke-linecap="round"/>
</g>
<path d="M392.58 143.30h2.60M469.58 143.30h2.60M392.58 152.30h2.60M469.58 152.30h2.60M392.58 161.30h2.60M469.58 161.30h2.60M392.58 170.30h2.60M469.58 170.30h2.60M392.58 179.30h2.60M469.58 179.30h2.60M392.58 188.30h2.60M469.58 188.30h2.60M392.58 197.30h2.60M469.58 197.30h2.60M392.58 206.30h2.60M469.58 206.30h2.60M392.58 215.30h2.60M469.58 215.30h2.60M392.58 224.30h2.60M469.58 224.30h2.60M392.58 233.30h2.60M469.58 233.30h2.60M392.58 242.30h2.60M469.58 242.30h2.60M396.17 143.30v-1.20M396.17 242.30v1.20M399.46 143.30v-2.40M399.46 242.30v2.40M402.75 143.30v-1.20M402.75 242.30v1.20M406.04 143.30v-1.20M406.04 242.30v1.20M409.34 143.30v-1.20M409.34 242.30v1.20M412.63 143.30v-1.20M412.63 242.30v1.20M415.92 143.30v-2.40M415.92 242.30v2.40M419.21 143.30v-1.20M419.21 242.30v1.20M422.50 143.30v-1.20M422.50 242.30v1.20M425.80 143.30v-1.20M425.80 242.30v1.20M429.09 143.30v-1.20M429.09 242.30v1.20M432.38 143.30v-2.40M432.38 242.30v2.40M435.67 143.30v-1.20M435.67 242.30v1.20M438.96 143.30v-1.20M438.96 242.30v1.20M442.26 143.30v-1.20M442.26 242.30v1.20M445.55 143.30v-1.20M445.55 242.30v1.20M448.84 143.30v-2.40M448.84 242.30v2.40M452.13 143.30v-1.20M452.13 242.30v1.20M455.42 143.30v-1.20M455.42 242.30v1.20M458.72 143.30v-1.20M458.72 242.30v1.20M462.01 143.30v-1.20M462.01 242.30v1.20M465.30 143.30v-2.40M465.30 242.30v2.40M468.59 143.30v-1.20M468.59 242.30v1.20" stroke="#111" stroke-width="0.75" fill="none"/>
<path d="M415.92 143.30V242.30M395.18 197.30H469.58" stroke="#000" stroke-width="1.1" stroke-dasharray="3 3.2" fill="none"/>
<rect x="395.18" y="143.30" width="74.40" height="99.00" fill="none" stroke="#111" stroke-width="1.05"/>
<clipPath id="cb5"><rect x="489.45" y="143.30" width="74.40" height="99.00"/></clipPath>
<g clip-path="url(#cb5)">
<rect x="489.45" y="143.30" width="74.40" height="99.00" fill="#eef03c"/>
<path d="M547.0 181.9 548.0 181.9 549.0 182.9 550.0 182.9 551.0 183.9 551.0 184.9 551.9 185.9 551.9 189.8 551.0 190.8 551.0 191.8 550.0 192.8 550.0 193.8 548.0 195.8 548.0 196.8 545.0 199.7 545.0 200.7 543.0 202.7 543.0 203.7 540.0 206.7 540.0 207.7 538.1 209.6 538.1 210.6 535.1 213.6 535.1 214.6 533.1 216.6 533.1 217.6 525.2 225.5 522.2 222.5 522.2 219.5 521.2 218.5 521.2 216.6 522.2 215.6 522.2 213.6 523.2 212.6 523.2 211.6 525.2 209.6 525.2 208.6 527.1 206.7 527.1 205.7 530.1 202.7 530.1 201.7 532.1 199.7 532.1 198.7 536.1 194.8 536.1 193.8 539.0 190.8 539.0 189.8 547.0 181.9Z" fill="#90f0f0"/>
<path d="M530.1 205.2 532.1 205.1 532.8 205.7 532.8 207.7 531.1 209.3 529.6 207.7 529.6 205.7Z" fill="#70e8f0"/>
<path d="M522.2 157.9 523.2 157.9 524.4 159.1 524.4 160.1 526.4 162.1 526.4 163.1 528.5 165.1 528.5 166.1 532.5 170.0 532.5 171.0 534.5 173.0 534.6 174.0 535.5 175.0 535.6 177.0 536.6 178.0 536.7 182.9 535.8 183.9 535.8 185.9 534.9 186.9 534.9 187.9 534.0 188.8 533.7 191.8 532.8 192.8 532.7 193.8 531.8 194.8 531.7 195.8 530.7 196.8 530.6 197.8 528.7 199.7 528.6 200.7 526.7 202.7 526.6 203.7 525.7 204.7 525.6 205.7 523.7 207.7 523.7 208.6 522.7 209.6 522.6 210.6 520.7 212.6 520.7 213.6 518.9 215.6 518.8 216.6 518.0 217.6 517.8 220.5 516.9 221.5 516.7 226.5 515.7 227.4 515.6 232.4 514.6 233.4 514.5 235.4 513.3 236.6 507.3 236.6 506.3 235.7 505.3 235.7 504.3 234.7 502.3 234.7 501.4 233.8 500.4 233.8 495.4 229.2 494.2 229.4 494.2 230.4 493.4 231.2 491.4 231.2 490.4 232.2 489.4 231.2 489.4 185.0 491.4 185.0 492.4 184.1 503.3 184.4 504.3 183.4 508.3 183.3 509.3 182.3 510.3 182.3 511.3 181.3 512.3 181.2 515.6 178.0 515.6 177.0 516.6 176.0 516.7 175.0 517.7 174.0 517.8 172.0 518.8 171.0 518.9 166.1 519.9 165.1 519.9 162.1 520.9 161.1 521.0 159.1 522.0 158.2Z" fill="#f0d840"/>
<path d="M524.2 171.0 525.2 170.8 528.1 172.0 531.1 174.3 534.7 179.9 535.1 185.9 534.5 186.9 534.5 187.9 533.6 188.8 533.4 191.8 532.5 192.8 532.4 193.8 531.5 194.8 531.4 195.8 530.4 196.8 530.3 197.8 528.4 199.7 528.3 200.7 526.5 202.7 526.3 203.7 525.4 204.7 525.3 205.7 523.4 207.7 523.3 208.6 522.4 209.6 522.3 210.6 520.5 212.6 520.4 213.6 518.6 215.6 518.5 216.6 517.7 217.6 517.2 219.6 514.2 224.3 509.3 229.5 505.3 228.9 501.4 227.2 497.4 228.4 495.4 228.4 493.8 229.4 493.8 230.4 493.4 230.8 491.4 230.8 490.4 231.8 489.4 230.8 489.4 185.4 491.4 185.4 492.4 184.9 496.4 186.4 499.4 188.2 500.4 188.3 504.3 187.1 509.3 184.5 512.8 181.9 516.2 179.1 521.2 173.4 524.1 171.0Z" fill="#f0b838"/>
<path d="M523.2 176.9 527.1 176.9 529.1 177.3 532.6 180.9 533.9 184.9 534.1 187.9 533.3 188.8 532.9 191.8 532.1 193.8 524.5 205.7 523.5 206.7 517.2 217.9 514.8 220.5 511.3 222.4 505.3 222.3 504.3 221.6 502.3 221.3 497.4 216.4 497.0 217.6 496.8 223.5 495.7 224.5 495.6 227.4 493.5 229.4 493.4 230.5 491.4 230.5 490.4 231.4 489.4 230.5 489.4 185.8 492.4 185.8 494.7 187.9 494.7 188.8 495.8 189.8 496.1 196.8 497.2 197.8 497.4 198.8 498.6 195.8 501.5 192.8 503.4 191.8 505.3 190.2 506.4 189.8 514.7 181.9 516.5 180.9 519.2 178.4 522.9 177.0Z" fill="#f09830"/>
<path d="M523.2 178.7 528.1 179.0 531.1 181.9 531.3 183.9 532.3 185.9 532.3 187.9 531.3 189.8 531.1 192.8 523.8 204.7 522.1 206.7 517.4 214.6 517.2 215.6 513.3 219.5 510.3 220.7 507.3 220.7 505.3 219.8 503.3 219.5 498.4 214.6 497.4 212.4 497.2 204.7 498.1 202.7 498.4 200.7 500.4 196.8 503.3 193.8 504.3 193.6 506.3 191.9 508.3 190.9 516.2 182.9 518.2 182.0 520.2 180.0 522.4 178.9Z" fill="#f07828"/>
<path d="M523.2 180.3 527.1 180.3 529.7 182.9 529.7 184.9 530.7 185.9 530.7 186.9 530.7 187.9 529.7 188.8 529.7 191.8 528.7 192.8 528.7 193.8 527.7 194.8 527.7 195.8 525.8 197.8 525.8 198.7 523.8 200.7 523.8 201.7 522.8 202.7 522.8 203.7 520.8 205.7 520.8 206.7 519.8 207.7 519.8 208.6 517.8 210.6 517.8 211.6 515.8 213.6 515.8 214.6 512.3 218.1 511.3 218.1 510.3 219.1 507.3 219.1 506.3 218.1 504.3 218.1 499.8 213.6 499.8 212.6 498.8 211.6 498.8 204.7 499.8 203.7 499.8 201.7 500.8 200.7 500.8 199.7 501.7 198.7 501.7 197.8 504.3 195.2 505.3 195.2 507.3 193.2 508.3 193.2 517.2 184.3 518.2 184.3 521.2 181.3 522.2 181.3 522.6 180.9Z" fill="#f06020"/>
<path d="M524.2 182.4 526.2 182.4 526.8 182.9 527.6 183.9 527.9 185.9 528.6 186.9 527.9 187.9 527.6 190.8 525.7 194.8 522.0 199.7 520.7 202.7 519.2 204.4 517.7 207.7 516.2 209.3 513.3 214.3 511.3 216.1 509.3 217.1 505.3 216.1 501.8 212.6 500.9 210.6 500.8 209.6 500.9 205.7 501.5 204.7 501.8 202.7 503.8 198.7 505.3 197.3 509.6 194.8 517.5 186.9 519.5 185.9 522.2 183.4 523.5 182.9Z" fill="#f04818"/>
<path d="M510.4 199.3 510.4 199.4 510.3 199.6 510.3 199.7 510.2 199.9 510.1 200.0 510.0 200.1 509.9 200.3 509.8 200.4 509.7 200.5 509.6 200.6 509.5 200.7 509.5 200.8 509.4 200.9 509.3 201.0 509.2 201.0 509.1 201.1 509.0 201.1 509.0 201.2 508.9 201.2 508.8 201.2 508.8 201.2 508.7 201.2 508.6 201.2 508.6 201.1 508.5 201.1 508.4 201.0 508.3 201.0 508.2 200.9 508.1 200.8 508.0 200.7 507.9 200.6 507.8 200.5 507.7 200.4 507.7 200.3 507.6 200.1 507.5 200.0 507.4 199.9 507.3 199.7 507.3 199.6 507.2 199.4 507.2 199.3 507.2 199.1 507.2 199.0 507.2 198.8 507.2 198.7 507.2 198.5 507.3 198.4 507.3 198.2 507.3 198.1 507.4 197.9 507.5 197.8 507.5 197.7 507.6 197.6 507.7 197.5 507.8 197.4 507.9 197.3 508.0 197.2 508.1 197.1 508.2 197.0 508.3 197.0 508.4 196.9 508.5 196.9 508.6 196.9 508.7 196.9 508.9 196.9 509.0 196.9 509.1 196.9 509.2 196.9 509.3 197.0 509.4 197.0 509.5 197.1 509.6 197.2 509.7 197.3 509.8 197.4 509.9 197.5 510.0 197.6 510.1 197.7 510.1 197.8 510.2 197.9 510.2 198.1 510.3 198.2 510.3 198.4 510.4 198.5 510.4 198.7 510.4 198.8 510.4 199.0 510.4 199.1ZM517.8 200.4 517.6 201.2 517.3 202.1 517.0 203.0 516.7 203.8 516.2 204.6 515.7 205.4 515.2 206.1 514.7 206.8 514.1 207.5 513.6 208.1 513.0 208.7 512.5 209.2 512.0 209.7 511.5 210.1 511.0 210.5 510.6 210.8 510.2 211.1 509.8 211.2 509.4 211.4 509.0 211.4 508.7 211.4 508.3 211.4 508.0 211.2 507.7 211.1 507.3 210.8 506.9 210.5 506.6 210.1 506.1 209.7 505.7 209.2 505.3 208.7 504.8 208.1 504.4 207.5 503.9 206.8 503.5 206.1 503.0 205.4 502.6 204.6 502.3 203.8 501.9 203.0 501.7 202.1 501.5 201.2 501.3 200.4 501.3 199.5 501.2 198.6 501.2 197.7 501.3 196.8 501.4 196.0 501.6 195.1 501.8 194.3 502.0 193.5 502.3 192.7 502.6 191.9 502.9 191.2 503.2 190.5 503.6 189.9 504.0 189.3 504.5 188.8 504.9 188.3 505.4 187.9 505.9 187.5 506.4 187.2 506.9 187.0 507.5 186.8 508.0 186.7 508.6 186.6 509.2 186.6 509.8 186.7 510.4 186.8 511.1 187.0 511.7 187.2 512.3 187.5 512.9 187.9 513.5 188.3 514.0 188.8 514.5 189.3 515.0 189.9 515.5 190.5 515.9 191.2 516.3 191.9 516.7 192.7 517.0 193.5 517.2 194.3 517.5 195.1 517.6 196.0 517.8 196.8 517.9 197.7 517.9 198.6 517.9 199.5ZM525.1 201.5 524.8 203.1 524.4 204.6 523.8 206.2 523.1 207.7 522.3 209.2 521.4 210.6 520.5 212.0 519.5 213.2 518.5 214.5 517.5 215.6 516.5 216.7 515.6 217.6 514.6 218.5 513.7 219.3 512.8 220.0 512.0 220.5 511.3 221.0 510.6 221.3 509.9 221.6 509.2 221.7 508.6 221.7 508.0 221.6 507.4 221.3 506.8 221.0 506.2 220.5 505.5 220.0 504.8 219.3 504.1 218.5 503.3 217.6 502.5 216.7 501.7 215.6 500.9 214.5 500.0 213.2 499.3 212.0 498.5 210.6 497.8 209.2 497.1 207.7 496.6 206.2 496.1 204.6 495.7 203.1 495.5 201.5 495.3 199.8 495.3 198.2 495.3 196.6 495.5 195.0 495.7 193.4 495.9 191.9 496.3 190.3 496.7 188.8 497.1 187.4 497.7 186.1 498.2 184.8 498.9 183.5 499.6 182.4 500.3 181.3 501.1 180.4 501.9 179.5 502.7 178.7 503.6 178.0 504.5 177.5 505.4 177.0 506.4 176.6 507.4 176.4 508.5 176.3 509.6 176.3 510.7 176.4 511.8 176.6 512.9 177.0 514.1 177.5 515.2 178.0 516.2 178.7 517.3 179.5 518.3 180.4 519.2 181.3 520.1 182.4 521.0 183.5 521.8 184.8 522.5 186.1 523.1 187.4 523.7 188.8 524.2 190.3 524.6 191.9 524.9 193.4 525.2 195.0 525.4 196.6 525.4 198.2 525.3 199.8ZM489.4 173.0 489.9 172.6 490.8 171.9 492.2 170.9 494.1 169.5 496.0 168.3 497.8 167.2 499.7 166.4 501.5 165.7 503.4 165.1 505.1 164.3 506.8 163.6 508.5 162.8 510.1 162.3 511.6 162.2 513.0 162.3 514.3 162.8 515.5 163.6 516.6 164.6 517.6 165.9 518.6 167.6 519.5 169.4 520.4 171.3 521.3 173.4 522.3 175.6 523.1 177.9 523.7 180.2 524.2 182.7 524.6 185.1 524.8 187.5 524.9 189.9 524.9 192.2 524.7 194.4 524.3 196.8 523.8 199.2 523.0 201.8 522.1 204.6 521.1 207.3 520.1 210.2 519.0 213.1 517.9 216.1 516.8 218.8 515.7 221.3 514.6 223.5 513.4 225.5 512.0 227.0 510.4 227.9 508.4 228.4 506.2 228.4 504.0 228.1 501.7 227.3 499.5 226.2 497.3 224.7 495.3 223.1 493.6 221.4 492.2 219.5 491.1 217.6 490.3 216.1 489.7 215.1 489.4 214.6" fill="none" stroke="#828282" stroke-width="1.0" stroke-linejoin="round"/>
<path d="M539.9 209.5 539.8 210.1 539.6 210.6 539.4 211.1 539.2 211.5 538.9 211.9 538.6 212.1 538.3 212.3 538.0 212.4 537.6 212.4 537.3 212.3 537.0 212.1 536.7 211.9 536.4 211.5 536.2 211.1 536.0 210.6 535.8 210.1 535.7 209.5 535.7 208.9 535.7 208.3 535.7 207.8 535.8 207.2 536.0 206.7 536.2 206.2 536.4 205.8 536.7 205.4 537.0 205.1 537.3 205.0 537.6 204.9 538.0 204.9 538.3 205.0 538.6 205.1 538.9 205.4 539.2 205.8 539.4 206.2 539.6 206.7 539.8 207.2 539.9 207.8 539.9 208.3 539.9 208.9ZM547.3 207.1 547.3 207.4 547.1 207.7 547.0 207.9 546.8 208.1 546.5 208.3 546.3 208.4 546.0 208.5 545.8 208.5 545.5 208.5 545.2 208.5 544.9 208.4 544.7 208.3 544.5 208.1 544.3 207.9 544.1 207.7 544.0 207.4 543.9 207.1 543.9 206.8 543.9 206.5 543.9 206.2 544.0 205.9 544.1 205.7 544.3 205.4 544.5 205.2 544.7 205.0 544.9 204.9 545.2 204.8 545.5 204.8 545.8 204.8 546.0 204.8 546.3 204.9 546.5 205.0 546.8 205.2 547.0 205.4 547.1 205.7 547.3 205.9 547.3 206.2 547.4 206.5 547.4 206.8Z" fill="none" stroke="#828282" stroke-width="1.0" stroke-dasharray="1.6 1.2"/>
<path d="M501.8 194.8h0.01M501.8 202.2h0.01M510.0 202.2h0.01" stroke="#000" stroke-width="1.15" stroke-linecap="round"/>
</g>
<path d="M486.85 143.30h2.60M563.85 143.30h2.60M486.85 152.30h2.60M563.85 152.30h2.60M486.85 161.30h2.60M563.85 161.30h2.60M486.85 170.30h2.60M563.85 170.30h2.60M486.85 179.30h2.60M563.85 179.30h2.60M486.85 188.30h2.60M563.85 188.30h2.60M486.85 197.30h2.60M563.85 197.30h2.60M486.85 206.30h2.60M563.85 206.30h2.60M486.85 215.30h2.60M563.85 215.30h2.60M486.85 224.30h2.60M563.85 224.30h2.60M486.85 233.30h2.60M563.85 233.30h2.60M486.85 242.30h2.60M563.85 242.30h2.60M490.44 143.30v-1.20M490.44 242.30v1.20M493.73 143.30v-2.40M493.73 242.30v2.40M497.02 143.30v-1.20M497.02 242.30v1.20M500.31 143.30v-1.20M500.31 242.30v1.20M503.61 143.30v-1.20M503.61 242.30v1.20M506.90 143.30v-1.20M506.90 242.30v1.20M510.19 143.30v-2.40M510.19 242.30v2.40M513.48 143.30v-1.20M513.48 242.30v1.20M516.77 143.30v-1.20M516.77 242.30v1.20M520.07 143.30v-1.20M520.07 242.30v1.20M523.36 143.30v-1.20M523.36 242.30v1.20M526.65 143.30v-2.40M526.65 242.30v2.40M529.94 143.30v-1.20M529.94 242.30v1.20M533.23 143.30v-1.20M533.23 242.30v1.20M536.53 143.30v-1.20M536.53 242.30v1.20M539.82 143.30v-1.20M539.82 242.30v1.20M543.11 143.30v-2.40M543.11 242.30v2.40M546.40 143.30v-1.20M546.40 242.30v1.20M549.69 143.30v-1.20M549.69 242.30v1.20M552.99 143.30v-1.20M552.99 242.30v1.20M556.28 143.30v-1.20M556.28 242.30v1.20M559.57 143.30v-2.40M559.57 242.30v2.40M562.86 143.30v-1.20M562.86 242.30v1.20" stroke="#111" stroke-width="0.75" fill="none"/>
<path d="M510.19 143.30V242.30M489.45 197.30H563.85" stroke="#000" stroke-width="1.1" stroke-dasharray="3 3.2" fill="none"/>
<rect x="489.45" y="143.30" width="74.40" height="99.00" fill="none" stroke="#111" stroke-width="1.05"/>
<clipPath id="cb6"><rect x="583.72" y="143.30" width="74.40" height="99.00"/></clipPath>
<g clip-path="url(#cb6)">
<rect x="583.72" y="143.30" width="74.40" height="99.00" fill="#eef03c"/>
<path d="M641.3 180.9 642.2 180.9 643.2 181.9 644.2 182.9 644.2 183.9 645.2 184.9 645.2 189.8 644.2 190.8 644.2 191.8 642.3 193.8 642.2 194.8 639.3 197.8 639.3 198.7 637.3 200.7 637.3 201.7 634.3 204.7 634.3 205.7 631.3 208.6 631.3 209.6 628.4 212.6 628.4 213.6 626.4 215.6 626.4 216.6 623.4 219.5 623.4 220.5 618.4 225.5 616.5 223.5 616.5 222.5 615.5 221.5 615.5 213.6 616.5 212.6 616.5 211.6 619.4 208.6 619.4 207.6 622.4 204.7 622.4 203.7 625.4 200.7 625.4 199.7 627.4 197.8 627.4 196.8 631.3 192.8 631.3 191.8 636.3 186.9 636.3 185.9 641.3 180.9Z" fill="#90f0f0"/>
<path d="M624.4 205.1 626.4 205.0 627.0 205.7 627.0 207.7 625.4 209.3 623.8 207.7 623.9 205.7Z" fill="#70e8f0"/>
<path d="M616.5 158.9 618.6 161.1 618.7 162.1 620.6 164.1 620.7 165.1 622.7 167.1 622.7 168.1 624.7 170.0 624.7 171.0 626.7 173.0 626.7 174.0 627.7 175.0 627.7 176.0 628.7 177.0 628.7 178.0 629.7 178.9 629.7 182.9 628.7 183.9 628.7 184.9 627.8 185.9 627.8 186.9 626.8 187.9 626.8 188.8 624.9 190.8 624.9 191.8 622.2 194.8 622.1 195.8 620.3 197.8 620.2 198.7 618.3 200.7 618.3 202.7 617.3 203.7 617.2 204.7 615.3 206.7 615.1 208.6 613.2 211.6 612.9 213.6 612.1 214.6 612.0 216.6 611.2 217.6 611.0 220.5 610.0 221.5 609.9 228.4 608.9 229.4 608.8 236.4 606.5 238.6 602.6 238.6 601.6 237.6 600.6 237.6 598.6 235.7 597.6 235.7 589.7 228.3 588.4 229.4 588.4 230.4 587.7 231.2 585.7 231.2 584.7 232.2 583.7 231.2 583.7 185.0 585.7 185.0 586.7 184.1 601.6 184.2 602.6 183.3 605.5 183.2 606.5 182.2 607.5 182.2 611.0 178.9 611.0 177.0 612.1 176.0 612.1 173.0 613.1 172.0 613.2 166.1 614.2 165.1 614.3 162.1 615.3 161.1 615.3 160.1 616.3 159.1Z" fill="#f0d840"/>
<path d="M618.4 176.6 619.4 176.1 620.4 176.9 623.7 180.9 624.0 184.9 623.7 187.9 621.2 195.8 619.8 197.8 619.7 198.7 618.0 200.7 617.9 202.7 616.9 203.7 616.8 204.7 615.0 206.7 614.6 208.6 612.8 211.6 611.3 215.6 606.5 223.6 604.6 226.2 601.6 228.5 596.6 226.5 594.6 226.5 590.7 227.9 589.7 227.9 588.1 229.4 588.1 230.4 587.7 230.8 585.7 230.8 584.7 231.8 583.7 230.8 583.7 185.4 585.7 185.4 586.7 184.9 593.6 188.0 605.5 184.0 613.3 179.9 617.9 177.0Z" fill="#f0b838"/>
<path d="M611.5 182.9 616.5 183.2 619.4 185.8 620.4 187.9 620.3 194.8 618.4 199.7 617.6 200.7 617.5 202.7 616.5 203.7 616.5 204.7 614.6 206.7 614.5 207.7 610.5 214.6 604.6 220.2 602.6 220.6 597.6 220.3 594.6 218.6 591.7 215.7 591.2 217.6 591.0 223.5 589.9 224.5 589.8 227.5 587.7 229.4 587.7 230.5 585.7 230.5 584.7 231.4 583.7 230.5 583.7 185.8 586.7 185.8 589.0 187.9 589.0 188.8 590.1 189.8 590.4 196.8 590.7 197.0 591.6 196.8 592.6 194.8 597.6 189.8 601.6 187.8 602.6 186.8 608.5 183.9 611.3 182.9Z" fill="#f09830"/>
<path d="M610.5 185.3 615.5 185.3 618.0 187.9 618.2 193.8 617.0 197.8 616.4 198.7 616.0 200.7 614.5 203.5 613.4 204.7 611.0 209.6 609.4 211.6 608.4 213.6 603.6 218.1 598.6 218.1 595.8 216.6 592.1 212.6 591.9 202.7 593.1 198.7 594.6 195.9 598.7 191.8 602.6 189.9 604.6 188.3 609.7 185.9Z" fill="#f07828"/>
<path d="M611.5 187.2 614.5 187.2 616.1 188.8 616.1 193.8 615.2 194.8 615.2 196.8 614.2 197.8 614.2 199.7 613.2 200.7 613.2 201.7 611.2 203.7 611.2 204.7 610.2 205.7 610.2 206.7 609.2 207.7 609.2 208.6 607.2 210.6 607.2 211.6 602.6 216.3 599.6 216.3 598.6 215.3 597.6 215.3 593.9 211.6 593.9 202.7 594.9 201.7 594.9 199.7 595.9 198.7 595.9 197.8 600.6 193.1 601.6 193.1 602.6 192.1 603.6 192.1 605.5 190.1 606.5 190.1 607.5 189.1 608.5 189.1 609.5 188.2 610.8 187.9Z" fill="#f06020"/>
<path d="M612.5 189.3 613.5 189.3 614.0 189.8 614.0 192.8 613.3 193.8 612.0 198.7 611.0 200.7 609.3 202.7 607.0 207.7 605.5 209.3 604.6 211.3 601.6 214.1 600.6 214.1 598.6 213.1 596.6 211.3 596.0 209.6 596.1 203.7 596.8 202.7 597.1 200.7 598.1 198.7 601.6 195.3 604.6 194.0 606.5 192.3 611.8 189.8Z" fill="#f04818"/>
<path d="M603.7 200.8 603.7 200.9 603.6 201.1 603.6 201.2 603.5 201.3 603.4 201.5 603.3 201.6 603.2 201.8 603.1 201.9 603.0 202.0 602.9 202.1 602.8 202.2 602.8 202.3 602.7 202.4 602.6 202.5 602.5 202.5 602.4 202.6 602.3 202.6 602.3 202.6 602.2 202.7 602.1 202.7 602.1 202.7 602.0 202.7 601.9 202.6 601.9 202.6 601.8 202.6 601.7 202.5 601.6 202.5 601.5 202.4 601.4 202.3 601.3 202.2 601.2 202.1 601.2 202.0 601.1 201.9 601.0 201.8 600.9 201.6 600.8 201.5 600.7 201.3 600.6 201.2 600.6 201.1 600.5 200.9 600.5 200.8 600.5 200.6 600.5 200.4 600.5 200.3 600.5 200.1 600.5 200.0 600.6 199.8 600.6 199.7 600.6 199.6 600.7 199.4 600.8 199.3 600.8 199.2 600.9 199.1 601.0 198.9 601.1 198.8 601.2 198.8 601.3 198.7 601.4 198.6 601.5 198.5 601.6 198.5 601.7 198.4 601.8 198.4 601.9 198.4 602.0 198.4 602.2 198.4 602.3 198.4 602.4 198.4 602.5 198.4 602.6 198.5 602.7 198.5 602.8 198.6 602.9 198.7 603.0 198.8 603.1 198.8 603.2 198.9 603.3 199.1 603.4 199.2 603.4 199.3 603.5 199.4 603.5 199.6 603.6 199.7 603.6 199.8 603.7 200.0 603.7 200.1 603.7 200.3 603.7 200.4 603.7 200.6ZM610.7 201.9 610.5 202.7 610.3 203.6 610.0 204.5 609.6 205.3 609.2 206.1 608.7 206.9 608.2 207.6 607.7 208.3 607.2 209.0 606.7 209.6 606.1 210.2 605.6 210.7 605.1 211.2 604.7 211.7 604.2 212.0 603.8 212.3 603.4 212.6 603.0 212.8 602.6 212.9 602.2 213.0 601.9 213.0 601.5 212.9 601.1 212.8 600.7 212.6 600.2 212.3 599.8 212.0 599.3 211.7 598.8 211.2 598.2 210.7 597.7 210.2 597.1 209.6 596.5 209.0 596.0 208.3 595.4 207.6 594.9 206.9 594.4 206.1 593.9 205.3 593.5 204.5 593.2 203.6 592.9 202.7 592.8 201.9 592.7 200.9 592.6 199.9 592.6 198.8 592.7 197.6 592.9 196.5 593.1 195.4 593.3 194.3 593.6 193.3 593.9 192.3 594.3 191.3 594.7 190.4 595.1 189.5 595.6 188.7 596.1 187.9 596.7 187.2 597.2 186.6 597.8 186.1 598.5 185.6 599.1 185.2 599.7 184.8 600.4 184.6 601.1 184.4 601.7 184.4 602.4 184.4 603.0 184.4 603.6 184.6 604.3 184.8 604.9 185.2 605.4 185.6 606.0 186.1 606.6 186.6 607.1 187.2 607.6 187.9 608.0 188.7 608.5 189.5 608.9 190.4 609.3 191.3 609.6 192.3 609.9 193.3 610.2 194.3 610.4 195.4 610.6 196.5 610.7 197.6 610.8 198.8 610.8 199.9 610.8 200.9ZM617.6 202.9 617.3 204.6 616.9 206.2 616.4 207.7 615.7 209.2 615.0 210.7 614.1 212.1 613.2 213.5 612.3 214.8 611.3 216.0 610.4 217.2 609.4 218.2 608.5 219.2 607.6 220.1 606.8 220.9 605.9 221.5 605.2 222.1 604.5 222.6 603.7 222.9 603.1 223.1 602.4 223.3 601.7 223.3 601.0 223.1 600.3 222.9 599.5 222.6 598.7 222.1 597.9 221.5 597.0 220.9 596.0 220.1 595.0 219.2 594.0 218.2 593.0 217.2 591.9 216.0 590.9 214.8 589.9 213.5 588.9 212.1 588.0 210.7 587.1 209.2 586.4 207.7 585.8 206.2 585.4 204.6 585.0 202.9 584.8 201.2 584.8 199.3 584.8 197.3 585.0 195.2 585.2 193.0 585.6 191.0 586.0 189.0 586.5 187.0 587.1 185.1 587.8 183.3 588.6 181.6 589.4 179.9 590.2 178.4 591.2 177.0 592.2 175.7 593.2 174.5 594.3 173.5 595.4 172.6 596.6 171.9 597.8 171.3 599.0 170.8 600.2 170.5 601.4 170.3 602.6 170.3 603.8 170.5 604.9 170.8 606.0 171.3 607.1 171.9 608.2 172.6 609.2 173.5 610.2 174.5 611.1 175.7 612.0 177.0 612.9 178.4 613.7 179.9 614.4 181.6 615.1 183.3 615.7 185.1 616.3 187.0 616.7 189.0 617.1 191.0 617.4 193.0 617.7 195.2 617.8 197.3 617.9 199.3 617.8 201.2ZM584.2 176.0 584.6 175.6 585.6 174.9 587.1 173.7 589.0 172.3 590.9 171.0 592.8 169.9 594.7 169.0 596.6 168.4 598.3 167.7 599.9 166.9 601.3 166.1 602.6 165.3 603.9 164.9 605.2 164.9 606.5 165.3 607.8 166.1 609.0 167.2 610.1 168.6 611.2 170.2 612.1 172.1 612.9 174.1 613.7 176.2 614.3 178.3 614.9 180.5 615.4 182.8 615.9 185.0 616.3 187.2 616.6 189.5 616.8 191.7 616.8 194.1 616.6 196.5 616.3 199.0 615.8 201.6 615.1 204.3 614.3 207.2 613.4 210.1 612.5 213.0 611.5 215.7 610.6 218.3 609.7 220.8 608.6 222.9 607.4 224.6 606.0 226.0 604.6 227.0 602.8 227.6 600.9 227.8 598.7 227.7 596.3 227.2 594.0 226.5 592.0 225.5 590.1 224.2 588.5 222.7 587.1 221.3 586.0 219.8 585.1 218.3 584.6 216.8 584.1 215.7 583.9 215.0 583.7 214.6" fill="none" stroke="#828282" stroke-width="1.0" stroke-linejoin="round"/>
<path d="M634.6 206.0 634.5 206.2 634.3 206.4 634.2 206.6 634.0 206.7 633.7 206.9 633.5 207.0 633.2 207.0 633.0 207.1 632.7 207.1 632.4 207.0 632.1 207.0 631.9 206.9 631.7 206.7 631.5 206.6 631.3 206.4 631.2 206.2 631.1 206.0 631.1 205.8 631.1 205.6 631.1 205.3 631.2 205.1 631.3 204.9 631.5 204.8 631.7 204.6 631.9 204.5 632.1 204.4 632.4 204.3 632.7 204.3 633.0 204.3 633.2 204.3 633.5 204.4 633.7 204.5 634.0 204.6 634.2 204.8 634.3 204.9 634.5 205.1 634.6 205.3 634.6 205.6 634.6 205.8Z" fill="none" stroke="#828282" stroke-width="1.0" stroke-dasharray="1.6 1.2"/>
<path d="M592.0 198.5h0.01M600.2 198.5h0.01M604.3 202.2h0.01" stroke="#000" stroke-width="1.15" stroke-linecap="round"/>
</g>
<path d="M581.12 143.30h2.60M658.12 143.30h2.60M581.12 152.30h2.60M658.12 152.30h2.60M581.12 161.30h2.60M658.12 161.30h2.60M581.12 170.30h2.60M658.12 170.30h2.60M581.12 179.30h2.60M658.12 179.30h2.60M581.12 188.30h2.60M658.12 188.30h2.60M581.12 197.30h2.60M658.12 197.30h2.60M581.12 206.30h2.60M658.12 206.30h2.60M581.12 215.30h2.60M658.12 215.30h2.60M581.12 224.30h2.60M658.12 224.30h2.60M581.12 233.30h2.60M658.12 233.30h2.60M581.12 242.30h2.60M658.12 242.30h2.60M584.71 143.30v-1.20M584.71 242.30v1.20M588.00 143.30v-2.40M588.00 242.30v2.40M591.29 143.30v-1.20M591.29 242.30v1.20M594.58 143.30v-1.20M594.58 242.30v1.20M597.88 143.30v-1.20M597.88 242.30v1.20M601.17 143.30v-1.20M601.17 242.30v1.20M604.46 143.30v-2.40M604.46 242.30v2.40M607.75 143.30v-1.20M607.75 242.30v1.20M611.04 143.30v-1.20M611.04 242.30v1.20M614.34 143.30v-1.20M614.34 242.30v1.20M617.63 143.30v-1.20M617.63 242.30v1.20M620.92 143.30v-2.40M620.92 242.30v2.40M624.21 143.30v-1.20M624.21 242.30v1.20M627.50 143.30v-1.20M627.50 242.30v1.20M630.80 143.30v-1.20M630.80 242.30v1.20M634.09 143.30v-1.20M634.09 242.30v1.20M637.38 143.30v-2.40M637.38 242.30v2.40M640.67 143.30v-1.20M640.67 242.30v1.20M643.96 143.30v-1.20M643.96 242.30v1.20M647.26 143.30v-1.20M647.26 242.30v1.20M650.55 143.30v-1.20M650.55 242.30v1.20M653.84 143.30v-2.40M653.84 242.30v2.40M657.13 143.30v-1.20M657.13 242.30v1.20" stroke="#111" stroke-width="0.75" fill="none"/>
<path d="M604.46 143.30V242.30M583.72 197.30H658.12" stroke="#000" stroke-width="1.1" stroke-dasharray="3 3.2" fill="none"/>
<rect x="583.72" y="143.30" width="74.40" height="99.00" fill="none" stroke="#111" stroke-width="1.05"/>
<rect x="662.00" y="14.60" width="3.2" height="4.55" fill="#f0b4c0"/>
<rect x="662.00" y="19.10" width="3.2" height="4.55" fill="#e06878"/>
<rect x="662.00" y="23.61" width="3.2" height="4.55" fill="#d03040"/>
<rect x="662.00" y="28.11" width="3.2" height="4.55" fill="#e01818"/>
<rect x="662.00" y="32.62" width="3.2" height="4.55" fill="#f02018"/>
<rect x="662.00" y="37.12" width="3.2" height="4.55" fill="#f03c1c"/>
<rect x="662.00" y="41.63" width="3.2" height="4.55" fill="#f05c20"/>
<rect x="662.00" y="46.13" width="3.2" height="4.55" fill="#f07c28"/>
<rect x="662.00" y="50.63" width="3.2" height="4.55" fill="#f09a30"/>
<rect x="662.00" y="55.14" width="3.2" height="4.55" fill="#f0b83a"/>
<rect x="662.00" y="59.64" width="3.2" height="4.55" fill="#f0d444"/>
<rect x="662.00" y="64.15" width="3.2" height="4.55" fill="#eeee5a"/>
<rect x="662.00" y="68.65" width="3.2" height="4.55" fill="#f2f89c"/>
<rect x="662.00" y="73.15" width="3.2" height="4.55" fill="#bce6f4"/>
<rect x="662.00" y="77.66" width="3.2" height="4.55" fill="#a0d8ec"/>
<rect x="662.00" y="82.16" width="3.2" height="4.55" fill="#70c4ea"/>
<rect x="662.00" y="86.67" width="3.2" height="4.55" fill="#48a8e4"/>
<rect x="662.00" y="91.17" width="3.2" height="4.55" fill="#3090e0"/>
<rect x="662.00" y="95.68" width="3.2" height="4.55" fill="#2878e0"/>
<rect x="662.00" y="100.18" width="3.2" height="4.55" fill="#2060e0"/>
<rect x="662.00" y="104.68" width="3.2" height="4.55" fill="#2040e0"/>
<rect x="662.00" y="109.19" width="3.2" height="4.55" fill="#1818e0"/>
<rect x="662.00" y="113.69" width="3.2" height="4.55" fill="#3000d8"/>
<rect x="662.00" y="118.20" width="3.2" height="4.55" fill="#7000e0"/>
<path d="M662.00 19.10h3.2M662.00 23.61h3.2M662.00 28.11h3.2M662.00 32.62h3.2M662.00 37.12h3.2M662.00 41.63h3.2M662.00 46.13h3.2M662.00 50.63h3.2M662.00 55.14h3.2M662.00 59.64h3.2M662.00 64.15h3.2M662.00 68.65h3.2M662.00 73.15h3.2M662.00 77.66h3.2M662.00 82.16h3.2M662.00 86.67h3.2M662.00 91.17h3.2M662.00 95.68h3.2M662.00 100.18h3.2M662.00 104.68h3.2M662.00 109.19h3.2M662.00 113.69h3.2M662.00 118.20h3.2" stroke="#222" stroke-width="0.45"/>
<rect x="662.00" y="14.60" width="3.2" height="108.10" fill="none" stroke="#222" stroke-width="0.6"/>
<rect x="662.40" y="141.90" width="3.2" height="4.98" fill="#901010"/>
<rect x="662.40" y="146.83" width="3.2" height="4.98" fill="#c01818"/>
<rect x="662.40" y="151.75" width="3.2" height="4.98" fill="#e02010"/>
<rect x="662.40" y="156.68" width="3.2" height="4.98" fill="#f03010"/>
<rect x="662.40" y="161.61" width="3.2" height="4.98" fill="#f04818"/>
<rect x="662.40" y="166.54" width="3.2" height="4.98" fill="#f06020"/>
<rect x="662.40" y="171.46" width="3.2" height="4.98" fill="#f07828"/>
<rect x="662.40" y="176.39" width="3.2" height="4.98" fill="#f09830"/>
<rect x="662.40" y="181.32" width="3.2" height="4.98" fill="#f0b838"/>
<rect x="662.40" y="186.25" width="3.2" height="4.98" fill="#f0d840"/>
<rect x="662.40" y="191.17" width="3.2" height="4.98" fill="#eef03c"/>
<rect x="662.40" y="196.10" width="3.2" height="4.98" fill="#eef03c"/>
<rect x="662.40" y="201.03" width="3.2" height="4.98" fill="#90f0f0"/>
<rect x="662.40" y="205.95" width="3.2" height="4.98" fill="#70e8f0"/>
<rect x="662.40" y="210.88" width="3.2" height="4.98" fill="#58e0ec"/>
<rect x="662.40" y="215.81" width="3.2" height="4.98" fill="#48d0e0"/>
<rect x="662.40" y="220.74" width="3.2" height="4.98" fill="#40c0d8"/>
<rect x="662.40" y="225.66" width="3.2" height="4.98" fill="#40b0d0"/>
<rect x="662.40" y="230.59" width="3.2" height="4.98" fill="#3898b8"/>
<rect x="662.40" y="235.52" width="3.2" height="4.98" fill="#307890"/>
<rect x="662.40" y="240.45" width="3.2" height="4.98" fill="#306880"/>
<rect x="662.40" y="245.37" width="3.2" height="4.98" fill="#305870"/>
<path d="M662.40 146.83h3.2M662.40 151.75h3.2M662.40 156.68h3.2M662.40 161.61h3.2M662.40 166.54h3.2M662.40 171.46h3.2M662.40 176.39h3.2M662.40 181.32h3.2M662.40 186.25h3.2M662.40 191.17h3.2M662.40 196.10h3.2M662.40 201.03h3.2M662.40 205.95h3.2M662.40 210.88h3.2M662.40 215.81h3.2M662.40 220.74h3.2M662.40 225.66h3.2M662.40 230.59h3.2M662.40 235.52h3.2M662.40 240.45h3.2M662.40 245.37h3.2" stroke="#222" stroke-width="0.45"/>
<rect x="662.40" y="141.90" width="3.2" height="108.40" fill="none" stroke="#222" stroke-width="0.6"/>
<path d="M19.50 371.40h-2.60M93.40 371.40h2.60M19.50 367.31h-1.30M93.40 367.31h1.30M19.50 363.22h-1.30M93.40 363.22h1.30M19.50 359.14h-1.30M93.40 359.14h1.30M19.50 355.05h-2.60M93.40 355.05h2.60M19.50 350.96h-1.30M93.40 350.96h1.30M19.50 346.88h-1.30M93.40 346.88h1.30M19.50 342.79h-1.30M93.40 342.79h1.30M19.50 338.70h-2.60M93.40 338.70h2.60M19.50 334.61h-1.30M93.40 334.61h1.30M19.50 330.52h-1.30M93.40 330.52h1.30M19.50 326.44h-1.30M93.40 326.44h1.30M19.50 322.35h-2.60M93.40 322.35h2.60M19.50 318.26h-1.30M93.40 318.26h1.30M19.50 314.18h-1.30M93.40 314.18h1.30M19.50 310.09h-1.30M93.40 310.09h1.30M19.50 306.00h-2.60M93.40 306.00h2.60M19.50 301.91h-1.30M93.40 301.91h1.30M19.50 297.82h-1.30M93.40 297.82h1.30M19.50 293.74h-1.30M93.40 293.74h1.30M19.50 289.65h-2.60M93.40 289.65h2.60M19.50 285.56h-1.30M93.40 285.56h1.30M19.50 281.48h-1.30M93.40 281.48h1.30M19.50 277.39h-1.30M93.40 277.39h1.30M19.50 273.30h-2.60M93.40 273.30h2.60M19.50 273.30v-2.40M19.50 371.40v2.40M21.96 273.30v-1.20M21.96 371.40v1.20M24.43 273.30v-1.20M24.43 371.40v1.20M26.89 273.30v-1.20M26.89 371.40v1.20M29.35 273.30v-1.20M29.35 371.40v1.20M31.82 273.30v-2.40M31.82 371.40v2.40M34.28 273.30v-1.20M34.28 371.40v1.20M36.74 273.30v-1.20M36.74 371.40v1.20M39.21 273.30v-1.20M39.21 371.40v1.20M41.67 273.30v-1.20M41.67 371.40v1.20M44.13 273.30v-2.40M44.13 371.40v2.40M46.60 273.30v-1.20M46.60 371.40v1.20M49.06 273.30v-1.20M49.06 371.40v1.20M51.52 273.30v-1.20M51.52 371.40v1.20M53.99 273.30v-1.20M53.99 371.40v1.20M56.45 273.30v-2.40M56.45 371.40v2.40M58.91 273.30v-1.20M58.91 371.40v1.20M61.38 273.30v-1.20M61.38 371.40v1.20M63.84 273.30v-1.20M63.84 371.40v1.20M66.30 273.30v-1.20M66.30 371.40v1.20M68.77 273.30v-2.40M68.77 371.40v2.40M71.23 273.30v-1.20M71.23 371.40v1.20M73.69 273.30v-1.20M73.69 371.40v1.20M76.16 273.30v-1.20M76.16 371.40v1.20M78.62 273.30v-1.20M78.62 371.40v1.20M81.08 273.30v-2.40M81.08 371.40v2.40M83.55 273.30v-1.20M83.55 371.40v1.20M86.01 273.30v-1.20M86.01 371.40v1.20M88.47 273.30v-1.20M88.47 371.40v1.20M90.94 273.30v-1.20M90.94 371.40v1.20M93.40 273.30v-2.40M93.40 371.40v2.40" stroke="#111" stroke-width="0.7" fill="none"/>
<path d="M56.45 273.30V371.40" stroke="#555" stroke-width="0.75"/>
<polyline points="49.7,363.2 74.9,359.1 74.9,355.0 31.8,351.0 63.8,346.9 75.4,342.8 46.6,338.7 52.8,334.6 61.7,330.5 49.1,326.4 45.9,322.4 36.7,318.3 58.9,314.2 58.7,310.1 71.2,306.0 67.5,301.9 66.9,297.8 55.2,293.7 47.8,289.6 56.5,285.6 58.3,281.5" fill="none" stroke="#0000ff" stroke-width="0.9" stroke-dasharray="2.2 1.4"/>
<polyline points="50.3,363.2 68.8,359.1 74.4,355.0 29.7,351.0 67.5,346.9 68.8,342.8 48.4,338.7 51.2,334.6 54.1,330.5 49.1,326.4 46.1,322.4 35.6,318.3 64.0,314.2 63.1,310.1 74.9,306.0 66.8,301.9 69.0,297.8 51.2,293.7 47.0,289.6 55.0,285.6 56.5,281.5" fill="none" stroke="#ff0000" stroke-width="0.9"/>
<rect x="19.50" y="273.30" width="73.90" height="98.10" fill="none" stroke="#111" stroke-width="1.05"/>
<rect x="64.30" y="274.90" width="27.5" height="10.6" fill="#fff" stroke="#222" stroke-width="0.7"/>
<path d="M114.50 371.40h-2.60M188.40 371.40h2.60M114.50 367.31h-1.30M188.40 367.31h1.30M114.50 363.22h-1.30M188.40 363.22h1.30M114.50 359.14h-1.30M188.40 359.14h1.30M114.50 355.05h-2.60M188.40 355.05h2.60M114.50 350.96h-1.30M188.40 350.96h1.30M114.50 346.88h-1.30M188.40 346.88h1.30M114.50 342.79h-1.30M188.40 342.79h1.30M114.50 338.70h-2.60M188.40 338.70h2.60M114.50 334.61h-1.30M188.40 334.61h1.30M114.50 330.52h-1.30M188.40 330.52h1.30M114.50 326.44h-1.30M188.40 326.44h1.30M114.50 322.35h-2.60M188.40 322.35h2.60M114.50 318.26h-1.30M188.40 318.26h1.30M114.50 314.18h-1.30M188.40 314.18h1.30M114.50 310.09h-1.30M188.40 310.09h1.30M114.50 306.00h-2.60M188.40 306.00h2.60M114.50 301.91h-1.30M188.40 301.91h1.30M114.50 297.82h-1.30M188.40 297.82h1.30M114.50 293.74h-1.30M188.40 293.74h1.30M114.50 289.65h-2.60M188.40 289.65h2.60M114.50 285.56h-1.30M188.40 285.56h1.30M114.50 281.48h-1.30M188.40 281.48h1.30M114.50 277.39h-1.30M188.40 277.39h1.30M114.50 273.30h-2.60M188.40 273.30h2.60M114.50 273.30v-2.40M114.50 371.40v2.40M116.96 273.30v-1.20M116.96 371.40v1.20M119.43 273.30v-1.20M119.43 371.40v1.20M121.89 273.30v-1.20M121.89 371.40v1.20M124.35 273.30v-1.20M124.35 371.40v1.20M126.82 273.30v-2.40M126.82 371.40v2.40M129.28 273.30v-1.20M129.28 371.40v1.20M131.74 273.30v-1.20M131.74 371.40v1.20M134.21 273.30v-1.20M134.21 371.40v1.20M136.67 273.30v-1.20M136.67 371.40v1.20M139.13 273.30v-2.40M139.13 371.40v2.40M141.60 273.30v-1.20M141.60 371.40v1.20M144.06 273.30v-1.20M144.06 371.40v1.20M146.52 273.30v-1.20M146.52 371.40v1.20M148.99 273.30v-1.20M148.99 371.40v1.20M151.45 273.30v-2.40M151.45 371.40v2.40M153.91 273.30v-1.20M153.91 371.40v1.20M156.38 273.30v-1.20M156.38 371.40v1.20M158.84 273.30v-1.20M158.84 371.40v1.20M161.30 273.30v-1.20M161.30 371.40v1.20M163.77 273.30v-2.40M163.77 371.40v2.40M166.23 273.30v-1.20M166.23 371.40v1.20M168.69 273.30v-1.20M168.69 371.40v1.20M171.16 273.30v-1.20M171.16 371.40v1.20M173.62 273.30v-1.20M173.62 371.40v1.20M176.08 273.30v-2.40M176.08 371.40v2.40M178.55 273.30v-1.20M178.55 371.40v1.20M181.01 273.30v-1.20M181.01 371.40v1.20M183.47 273.30v-1.20M183.47 371.40v1.20M185.94 273.30v-1.20M185.94 371.40v1.20M188.40 273.30v-2.40M188.40 371.40v2.40" stroke="#111" stroke-width="0.7" fill="none"/>
<path d="M151.45 273.30V371.40" stroke="#555" stroke-width="0.75"/>
<polyline points="143.2,363.2 169.9,359.1 170.4,355.0 129.4,351.0 145.8,346.9 171.0,342.8 148.2,338.7 149.6,334.6 152.7,330.5 149.6,326.4 142.2,322.4 133.8,318.3 157.1,314.2 153.3,310.1 160.9,306.0 164.8,301.9 152.1,297.8 154.7,293.7 140.1,289.6 148.2,285.6 154.7,281.5" fill="none" stroke="#0000ff" stroke-width="0.9" stroke-dasharray="2.2 1.4"/>
<polyline points="136.3,363.2 169.8,359.1 168.4,355.0 121.2,351.0 158.3,346.9 164.8,342.8 150.8,338.7 150.8,334.6 152.1,330.5 150.8,326.4 135.7,322.4 135.1,318.3 159.0,314.2 153.3,310.1 162.2,306.0 161.5,301.9 157.7,297.8 152.1,293.7 138.9,289.6 149.6,285.6 151.4,281.5" fill="none" stroke="#ff0000" stroke-width="0.9"/>
<rect x="114.50" y="273.30" width="73.90" height="98.10" fill="none" stroke="#111" stroke-width="1.05"/>
<rect x="159.30" y="274.90" width="27.5" height="10.6" fill="#fff" stroke="#222" stroke-width="0.7"/>
<path d="M209.50 371.40h-2.60M283.40 371.40h2.60M209.50 367.31h-1.30M283.40 367.31h1.30M209.50 363.22h-1.30M283.40 363.22h1.30M209.50 359.14h-1.30M283.40 359.14h1.30M209.50 355.05h-2.60M283.40 355.05h2.60M209.50 350.96h-1.30M283.40 350.96h1.30M209.50 346.88h-1.30M283.40 346.88h1.30M209.50 342.79h-1.30M283.40 342.79h1.30M209.50 338.70h-2.60M283.40 338.70h2.60M209.50 334.61h-1.30M283.40 334.61h1.30M209.50 330.52h-1.30M283.40 330.52h1.30M209.50 326.44h-1.30M283.40 326.44h1.30M209.50 322.35h-2.60M283.40 322.35h2.60M209.50 318.26h-1.30M283.40 318.26h1.30M209.50 314.18h-1.30M283.40 314.18h1.30M209.50 310.09h-1.30M283.40 310.09h1.30M209.50 306.00h-2.60M283.40 306.00h2.60M209.50 301.91h-1.30M283.40 301.91h1.30M209.50 297.82h-1.30M283.40 297.82h1.30M209.50 293.74h-1.30M283.40 293.74h1.30M209.50 289.65h-2.60M283.40 289.65h2.60M209.50 285.56h-1.30M283.40 285.56h1.30M209.50 281.48h-1.30M283.40 281.48h1.30M209.50 277.39h-1.30M283.40 277.39h1.30M209.50 273.30h-2.60M283.40 273.30h2.60M209.50 273.30v-2.40M209.50 371.40v2.40M211.96 273.30v-1.20M211.96 371.40v1.20M214.43 273.30v-1.20M214.43 371.40v1.20M216.89 273.30v-1.20M216.89 371.40v1.20M219.35 273.30v-1.20M219.35 371.40v1.20M221.82 273.30v-2.40M221.82 371.40v2.40M224.28 273.30v-1.20M224.28 371.40v1.20M226.74 273.30v-1.20M226.74 371.40v1.20M229.21 273.30v-1.20M229.21 371.40v1.20M231.67 273.30v-1.20M231.67 371.40v1.20M234.13 273.30v-2.40M234.13 371.40v2.40M236.60 273.30v-1.20M236.60 371.40v1.20M239.06 273.30v-1.20M239.06 371.40v1.20M241.52 273.30v-1.20M241.52 371.40v1.20M243.99 273.30v-1.20M243.99 371.40v1.20M246.45 273.30v-2.40M246.45 371.40v2.40M248.91 273.30v-1.20M248.91 371.40v1.20M251.38 273.30v-1.20M251.38 371.40v1.20M253.84 273.30v-1.20M253.84 371.40v1.20M256.30 273.30v-1.20M256.30 371.40v1.20M258.77 273.30v-2.40M258.77 371.40v2.40M261.23 273.30v-1.20M261.23 371.40v1.20M263.69 273.30v-1.20M263.69 371.40v1.20M266.16 273.30v-1.20M266.16 371.40v1.20M268.62 273.30v-1.20M268.62 371.40v1.20M271.08 273.30v-2.40M271.08 371.40v2.40M273.55 273.30v-1.20M273.55 371.40v1.20M276.01 273.30v-1.20M276.01 371.40v1.20M278.47 273.30v-1.20M278.47 371.40v1.20M280.94 273.30v-1.20M280.94 371.40v1.20M283.40 273.30v-2.40M283.40 371.40v2.40" stroke="#111" stroke-width="0.7" fill="none"/>
<path d="M246.45 273.30V371.40" stroke="#555" stroke-width="0.75"/>
<polyline points="237.5,363.2 263.6,359.1 261.1,355.0 222.6,351.0 238.7,346.9 265.5,342.8 252.4,338.7 247.4,334.6 245.0,330.5 246.4,326.4 231.3,322.4 236.2,318.3 249.9,314.2 243.7,310.1 256.2,306.0 259.3,301.9 241.3,297.8 261.1,293.7 235.6,289.6 238.7,285.6 246.4,281.5" fill="none" stroke="#0000ff" stroke-width="0.9" stroke-dasharray="2.2 1.4"/>
<polyline points="230.1,363.2 264.8,359.1 262.3,355.0 216.4,351.0 246.4,346.9 261.1,342.8 249.9,338.7 248.7,334.6 247.4,330.5 246.8,326.4 230.1,322.4 241.3,318.3 254.9,314.2 246.4,310.1 256.2,306.0 253.7,301.9 252.4,297.8 254.9,293.7 233.8,289.6 244.4,285.6 241.9,281.5" fill="none" stroke="#ff0000" stroke-width="0.9"/>
<rect x="209.50" y="273.30" width="73.90" height="98.10" fill="none" stroke="#111" stroke-width="1.05"/>
<rect x="254.30" y="274.90" width="27.5" height="10.6" fill="#fff" stroke="#222" stroke-width="0.7"/>
<path d="M304.50 371.40h-2.60M378.40 371.40h2.60M304.50 367.31h-1.30M378.40 367.31h1.30M304.50 363.22h-1.30M378.40 363.22h1.30M304.50 359.14h-1.30M378.40 359.14h1.30M304.50 355.05h-2.60M378.40 355.05h2.60M304.50 350.96h-1.30M378.40 350.96h1.30M304.50 346.88h-1.30M378.40 346.88h1.30M304.50 342.79h-1.30M378.40 342.79h1.30M304.50 338.70h-2.60M378.40 338.70h2.60M304.50 334.61h-1.30M378.40 334.61h1.30M304.50 330.52h-1.30M378.40 330.52h1.30M304.50 326.44h-1.30M378.40 326.44h1.30M304.50 322.35h-2.60M378.40 322.35h2.60M304.50 318.26h-1.30M378.40 318.26h1.30M304.50 314.18h-1.30M378.40 314.18h1.30M304.50 310.09h-1.30M378.40 310.09h1.30M304.50 306.00h-2.60M378.40 306.00h2.60M304.50 301.91h-1.30M378.40 301.91h1.30M304.50 297.82h-1.30M378.40 297.82h1.30M304.50 293.74h-1.30M378.40 293.74h1.30M304.50 289.65h-2.60M378.40 289.65h2.60M304.50 285.56h-1.30M378.40 285.56h1.30M304.50 281.48h-1.30M378.40 281.48h1.30M304.50 277.39h-1.30M378.40 277.39h1.30M304.50 273.30h-2.60M378.40 273.30h2.60M304.50 273.30v-2.40M304.50 371.40v2.40M306.96 273.30v-1.20M306.96 371.40v1.20M309.43 273.30v-1.20M309.43 371.40v1.20M311.89 273.30v-1.20M311.89 371.40v1.20M314.35 273.30v-1.20M314.35 371.40v1.20M316.82 273.30v-2.40M316.82 371.40v2.40M319.28 273.30v-1.20M319.28 371.40v1.20M321.74 273.30v-1.20M321.74 371.40v1.20M324.21 273.30v-1.20M324.21 371.40v1.20M326.67 273.30v-1.20M326.67 371.40v1.20M329.13 273.30v-2.40M329.13 371.40v2.40M331.60 273.30v-1.20M331.60 371.40v1.20M334.06 273.30v-1.20M334.06 371.40v1.20M336.52 273.30v-1.20M336.52 371.40v1.20M338.99 273.30v-1.20M338.99 371.40v1.20M341.45 273.30v-2.40M341.45 371.40v2.40M343.91 273.30v-1.20M343.91 371.40v1.20M346.38 273.30v-1.20M346.38 371.40v1.20M348.84 273.30v-1.20M348.84 371.40v1.20M351.30 273.30v-1.20M351.30 371.40v1.20M353.77 273.30v-2.40M353.77 371.40v2.40M356.23 273.30v-1.20M356.23 371.40v1.20M358.69 273.30v-1.20M358.69 371.40v1.20M361.16 273.30v-1.20M361.16 371.40v1.20M363.62 273.30v-1.20M363.62 371.40v1.20M366.08 273.30v-2.40M366.08 371.40v2.40M368.55 273.30v-1.20M368.55 371.40v1.20M371.01 273.30v-1.20M371.01 371.40v1.20M373.47 273.30v-1.20M373.47 371.40v1.20M375.94 273.30v-1.20M375.94 371.40v1.20M378.40 273.30v-2.40M378.40 371.40v2.40" stroke="#111" stroke-width="0.7" fill="none"/>
<path d="M341.45 273.30V371.40" stroke="#555" stroke-width="0.75"/>
<polyline points="333.7,363.2 357.3,359.1 354.9,355.0 317.6,351.0 328.8,346.9 353.0,342.8 347.4,338.7 342.4,334.6 334.9,330.5 343.7,326.4 332.5,322.4 342.7,318.3 347.4,314.2 336.3,310.1 346.1,306.0 349.9,301.9 338.7,297.8 366.7,293.7 330.6,289.6 336.9,285.6 331.8,281.5" fill="none" stroke="#0000ff" stroke-width="0.9" stroke-dasharray="2.2 1.4"/>
<polyline points="327.5,363.2 358.0,359.1 354.9,355.0 312.6,351.0 341.2,346.9 351.2,342.8 344.9,338.7 343.7,334.6 340.6,330.5 347.4,326.4 328.1,322.4 340.2,318.3 351.8,314.2 338.7,310.1 348.1,306.0 346.1,301.9 348.7,297.8 360.5,293.7 328.1,289.6 338.1,285.6 325.7,281.5" fill="none" stroke="#ff0000" stroke-width="0.9"/>
<rect x="304.50" y="273.30" width="73.90" height="98.10" fill="none" stroke="#111" stroke-width="1.05"/>
<rect x="349.30" y="274.90" width="27.5" height="10.6" fill="#fff" stroke="#222" stroke-width="0.7"/>
<path d="M399.50 371.40h-2.60M473.40 371.40h2.60M399.50 367.31h-1.30M473.40 367.31h1.30M399.50 363.22h-1.30M473.40 363.22h1.30M399.50 359.14h-1.30M473.40 359.14h1.30M399.50 355.05h-2.60M473.40 355.05h2.60M399.50 350.96h-1.30M473.40 350.96h1.30M399.50 346.88h-1.30M473.40 346.88h1.30M399.50 342.79h-1.30M473.40 342.79h1.30M399.50 338.70h-2.60M473.40 338.70h2.60M399.50 334.61h-1.30M473.40 334.61h1.30M399.50 330.52h-1.30M473.40 330.52h1.30M399.50 326.44h-1.30M473.40 326.44h1.30M399.50 322.35h-2.60M473.40 322.35h2.60M399.50 318.26h-1.30M473.40 318.26h1.30M399.50 314.18h-1.30M473.40 314.18h1.30M399.50 310.09h-1.30M473.40 310.09h1.30M399.50 306.00h-2.60M473.40 306.00h2.60M399.50 301.91h-1.30M473.40 301.91h1.30M399.50 297.82h-1.30M473.40 297.82h1.30M399.50 293.74h-1.30M473.40 293.74h1.30M399.50 289.65h-2.60M473.40 289.65h2.60M399.50 285.56h-1.30M473.40 285.56h1.30M399.50 281.48h-1.30M473.40 281.48h1.30M399.50 277.39h-1.30M473.40 277.39h1.30M399.50 273.30h-2.60M473.40 273.30h2.60M399.50 273.30v-2.40M399.50 371.40v2.40M401.96 273.30v-1.20M401.96 371.40v1.20M404.43 273.30v-1.20M404.43 371.40v1.20M406.89 273.30v-1.20M406.89 371.40v1.20M409.35 273.30v-1.20M409.35 371.40v1.20M411.82 273.30v-2.40M411.82 371.40v2.40M414.28 273.30v-1.20M414.28 371.40v1.20M416.74 273.30v-1.20M416.74 371.40v1.20M419.21 273.30v-1.20M419.21 371.40v1.20M421.67 273.30v-1.20M421.67 371.40v1.20M424.13 273.30v-2.40M424.13 371.40v2.40M426.60 273.30v-1.20M426.60 371.40v1.20M429.06 273.30v-1.20M429.06 371.40v1.20M431.52 273.30v-1.20M431.52 371.40v1.20M433.99 273.30v-1.20M433.99 371.40v1.20M436.45 273.30v-2.40M436.45 371.40v2.40M438.91 273.30v-1.20M438.91 371.40v1.20M441.38 273.30v-1.20M441.38 371.40v1.20M443.84 273.30v-1.20M443.84 371.40v1.20M446.30 273.30v-1.20M446.30 371.40v1.20M448.77 273.30v-2.40M448.77 371.40v2.40M451.23 273.30v-1.20M451.23 371.40v1.20M453.69 273.30v-1.20M453.69 371.40v1.20M456.16 273.30v-1.20M456.16 371.40v1.20M458.62 273.30v-1.20M458.62 371.40v1.20M461.08 273.30v-2.40M461.08 371.40v2.40M463.55 273.30v-1.20M463.55 371.40v1.20M466.01 273.30v-1.20M466.01 371.40v1.20M468.47 273.30v-1.20M468.47 371.40v1.20M470.94 273.30v-1.20M470.94 371.40v1.20M473.40 273.30v-2.40M473.40 371.40v2.40" stroke="#111" stroke-width="0.7" fill="none"/>
<path d="M436.45 273.30V371.40" stroke="#555" stroke-width="0.75"/>
<polyline points="432.5,363.2 444.9,359.1 446.2,355.0 412.6,351.0 425.4,346.9 452.3,342.8 452.3,338.7 436.4,334.6 427.5,330.5 436.4,326.4 422.9,322.4 439.9,318.3 447.4,314.2 431.9,310.1 441.1,306.0 445.6,301.9 426.2,297.8 459.9,293.7 425.6,289.6 428.1,285.6 431.9,281.5" fill="none" stroke="#0000ff" stroke-width="0.9" stroke-dasharray="2.2 1.4"/>
<polyline points="428.7,363.2 446.8,359.1 445.6,355.0 405.0,351.0 429.1,346.9 451.7,342.8 451.1,338.7 436.4,334.6 430.5,330.5 438.1,326.4 421.3,322.4 436.8,318.3 449.3,314.2 433.7,310.1 441.7,306.0 441.7,301.9 436.8,297.8 456.2,293.7 424.4,289.6 428.7,285.6 426.8,281.5" fill="none" stroke="#ff0000" stroke-width="0.9"/>
<rect x="399.50" y="273.30" width="73.90" height="98.10" fill="none" stroke="#111" stroke-width="1.05"/>
<rect x="444.30" y="274.90" width="27.5" height="10.6" fill="#fff" stroke="#222" stroke-width="0.7"/>
<path d="M494.50 371.40h-2.60M568.40 371.40h2.60M494.50 367.31h-1.30M568.40 367.31h1.30M494.50 363.22h-1.30M568.40 363.22h1.30M494.50 359.14h-1.30M568.40 359.14h1.30M494.50 355.05h-2.60M568.40 355.05h2.60M494.50 350.96h-1.30M568.40 350.96h1.30M494.50 346.88h-1.30M568.40 346.88h1.30M494.50 342.79h-1.30M568.40 342.79h1.30M494.50 338.70h-2.60M568.40 338.70h2.60M494.50 334.61h-1.30M568.40 334.61h1.30M494.50 330.52h-1.30M568.40 330.52h1.30M494.50 326.44h-1.30M568.40 326.44h1.30M494.50 322.35h-2.60M568.40 322.35h2.60M494.50 318.26h-1.30M568.40 318.26h1.30M494.50 314.18h-1.30M568.40 314.18h1.30M494.50 310.09h-1.30M568.40 310.09h1.30M494.50 306.00h-2.60M568.40 306.00h2.60M494.50 301.91h-1.30M568.40 301.91h1.30M494.50 297.82h-1.30M568.40 297.82h1.30M494.50 293.74h-1.30M568.40 293.74h1.30M494.50 289.65h-2.60M568.40 289.65h2.60M494.50 285.56h-1.30M568.40 285.56h1.30M494.50 281.48h-1.30M568.40 281.48h1.30M494.50 277.39h-1.30M568.40 277.39h1.30M494.50 273.30h-2.60M568.40 273.30h2.60M494.50 273.30v-2.40M494.50 371.40v2.40M496.96 273.30v-1.20M496.96 371.40v1.20M499.43 273.30v-1.20M499.43 371.40v1.20M501.89 273.30v-1.20M501.89 371.40v1.20M504.35 273.30v-1.20M504.35 371.40v1.20M506.82 273.30v-2.40M506.82 371.40v2.40M509.28 273.30v-1.20M509.28 371.40v1.20M511.74 273.30v-1.20M511.74 371.40v1.20M514.21 273.30v-1.20M514.21 371.40v1.20M516.67 273.30v-1.20M516.67 371.40v1.20M519.13 273.30v-2.40M519.13 371.40v2.40M521.60 273.30v-1.20M521.60 371.40v1.20M524.06 273.30v-1.20M524.06 371.40v1.20M526.52 273.30v-1.20M526.52 371.40v1.20M528.99 273.30v-1.20M528.99 371.40v1.20M531.45 273.30v-2.40M531.45 371.40v2.40M533.91 273.30v-1.20M533.91 371.40v1.20M536.38 273.30v-1.20M536.38 371.40v1.20M538.84 273.30v-1.20M538.84 371.40v1.20M541.30 273.30v-1.20M541.30 371.40v1.20M543.77 273.30v-2.40M543.77 371.40v2.40M546.23 273.30v-1.20M546.23 371.40v1.20M548.69 273.30v-1.20M548.69 371.40v1.20M551.16 273.30v-1.20M551.16 371.40v1.20M553.62 273.30v-1.20M553.62 371.40v1.20M556.08 273.30v-2.40M556.08 371.40v2.40M558.55 273.30v-1.20M558.55 371.40v1.20M561.01 273.30v-1.20M561.01 371.40v1.20M563.47 273.30v-1.20M563.47 371.40v1.20M565.94 273.30v-1.20M565.94 371.40v1.20M568.40 273.30v-2.40M568.40 371.40v2.40" stroke="#111" stroke-width="0.7" fill="none"/>
<path d="M531.45 273.30V371.40" stroke="#555" stroke-width="0.75"/>
<polyline points="538.1,363.2 536.1,359.1 536.1,355.0 512.5,351.0 520.4,346.9 546.1,342.8 548.7,338.7 531.5,334.6 518.8,330.5 523.1,326.4 521.0,322.4 532.7,318.3 543.6,314.2 526.3,310.1 538.8,306.0 538.7,301.9 520.0,297.8 557.3,293.7 520.6,289.6 524.3,285.6 527.5,281.5" fill="none" stroke="#0000ff" stroke-width="0.9" stroke-dasharray="2.2 1.4"/>
<polyline points="537.4,363.2 536.1,359.1 535.5,355.0 502.6,351.0 525.3,346.9 546.1,342.8 549.2,338.7 531.5,334.6 521.2,330.5 522.5,326.4 520.0,322.4 531.5,318.3 544.9,314.2 528.1,310.1 539.9,306.0 536.7,301.9 529.4,297.8 556.1,293.7 519.4,289.6 524.9,285.6 523.7,281.5" fill="none" stroke="#ff0000" stroke-width="0.9"/>
<rect x="494.50" y="273.30" width="73.90" height="98.10" fill="none" stroke="#111" stroke-width="1.05"/>
<rect x="539.30" y="274.90" width="27.5" height="10.6" fill="#fff" stroke="#222" stroke-width="0.7"/>
<path d="M589.50 371.40h-2.60M663.40 371.40h2.60M589.50 367.31h-1.30M663.40 367.31h1.30M589.50 363.22h-1.30M663.40 363.22h1.30M589.50 359.14h-1.30M663.40 359.14h1.30M589.50 355.05h-2.60M663.40 355.05h2.60M589.50 350.96h-1.30M663.40 350.96h1.30M589.50 346.88h-1.30M663.40 346.88h1.30M589.50 342.79h-1.30M663.40 342.79h1.30M589.50 338.70h-2.60M663.40 338.70h2.60M589.50 334.61h-1.30M663.40 334.61h1.30M589.50 330.52h-1.30M663.40 330.52h1.30M589.50 326.44h-1.30M663.40 326.44h1.30M589.50 322.35h-2.60M663.40 322.35h2.60M589.50 318.26h-1.30M663.40 318.26h1.30M589.50 314.18h-1.30M663.40 314.18h1.30M589.50 310.09h-1.30M663.40 310.09h1.30M589.50 306.00h-2.60M663.40 306.00h2.60M589.50 301.91h-1.30M663.40 301.91h1.30M589.50 297.82h-1.30M663.40 297.82h1.30M589.50 293.74h-1.30M663.40 293.74h1.30M589.50 289.65h-2.60M663.40 289.65h2.60M589.50 285.56h-1.30M663.40 285.56h1.30M589.50 281.48h-1.30M663.40 281.48h1.30M589.50 277.39h-1.30M663.40 277.39h1.30M589.50 273.30h-2.60M663.40 273.30h2.60M589.50 273.30v-2.40M589.50 371.40v2.40M591.96 273.30v-1.20M591.96 371.40v1.20M594.43 273.30v-1.20M594.43 371.40v1.20M596.89 273.30v-1.20M596.89 371.40v1.20M599.35 273.30v-1.20M599.35 371.40v1.20M601.82 273.30v-2.40M601.82 371.40v2.40M604.28 273.30v-1.20M604.28 371.40v1.20M606.74 273.30v-1.20M606.74 371.40v1.20M609.21 273.30v-1.20M609.21 371.40v1.20M611.67 273.30v-1.20M611.67 371.40v1.20M614.13 273.30v-2.40M614.13 371.40v2.40M616.60 273.30v-1.20M616.60 371.40v1.20M619.06 273.30v-1.20M619.06 371.40v1.20M621.52 273.30v-1.20M621.52 371.40v1.20M623.99 273.30v-1.20M623.99 371.40v1.20M626.45 273.30v-2.40M626.45 371.40v2.40M628.91 273.30v-1.20M628.91 371.40v1.20M631.38 273.30v-1.20M631.38 371.40v1.20M633.84 273.30v-1.20M633.84 371.40v1.20M636.30 273.30v-1.20M636.30 371.40v1.20M638.77 273.30v-2.40M638.77 371.40v2.40M641.23 273.30v-1.20M641.23 371.40v1.20M643.69 273.30v-1.20M643.69 371.40v1.20M646.16 273.30v-1.20M646.16 371.40v1.20M648.62 273.30v-1.20M648.62 371.40v1.20M651.08 273.30v-2.40M651.08 371.40v2.40M653.55 273.30v-1.20M653.55 371.40v1.20M656.01 273.30v-1.20M656.01 371.40v1.20M658.47 273.30v-1.20M658.47 371.40v1.20M660.94 273.30v-1.20M660.94 371.40v1.20M663.40 273.30v-2.40M663.40 371.40v2.40" stroke="#111" stroke-width="0.7" fill="none"/>
<path d="M626.45 273.30V371.40" stroke="#555" stroke-width="0.75"/>
<polyline points="638.0,363.2 629.9,359.1 627.4,355.0 606.7,351.0 615.4,346.9 641.7,342.8 643.6,338.7 627.4,334.6 616.2,330.5 611.7,326.4 622.5,322.4 629.9,318.3 637.4,314.2 618.7,310.1 632.6,306.0 631.9,301.9 617.5,297.8 652.3,293.7 618.7,289.6 623.1,285.6 620.7,281.5" fill="none" stroke="#0000ff" stroke-width="0.9" stroke-dasharray="2.2 1.4"/>
<polyline points="638.0,363.2 631.1,359.1 626.5,355.0 600.7,351.0 620.3,346.9 641.7,342.8 643.0,338.7 627.4,334.6 617.5,330.5 609.5,326.4 621.3,322.4 627.7,318.3 640.5,314.2 621.9,310.1 633.1,306.0 629.9,301.9 624.4,297.8 651.7,293.7 616.2,289.6 622.5,285.6 617.5,281.5" fill="none" stroke="#ff0000" stroke-width="0.9"/>
<rect x="589.50" y="273.30" width="73.90" height="98.10" fill="none" stroke="#111" stroke-width="1.05"/>
<rect x="634.30" y="274.90" width="27.5" height="10.6" fill="#fff" stroke="#222" stroke-width="0.7"/>
<g style="filter:grayscale(1)" stroke="#000" stroke-width="0.22"><text x="9.30" y="18.40" font-size="6.40" text-anchor="middle" font-weight="normal">D</text><text x="9.30" y="27.42" font-size="6.40" text-anchor="middle" font-weight="normal">N</text><text x="9.30" y="36.44" font-size="6.40" text-anchor="middle" font-weight="normal">O</text><text x="9.30" y="45.45" font-size="6.40" text-anchor="middle" font-weight="normal">S</text><text x="9.30" y="54.47" font-size="6.40" text-anchor="middle" font-weight="normal">A</text><text x="9.30" y="63.49" font-size="6.40" text-anchor="middle" font-weight="normal">J</text><text x="9.30" y="72.51" font-size="6.40" text-anchor="middle" font-weight="normal">J</text><text x="9.30" y="81.53" font-size="6.40" text-anchor="middle" font-weight="normal">M</text><text x="9.30" y="90.55" font-size="6.40" text-anchor="middle" font-weight="normal">A</text><text x="9.30" y="99.56" font-size="6.40" text-anchor="middle" font-weight="normal">M</text><text x="9.30" y="108.58" font-size="6.40" text-anchor="middle" font-weight="normal">F</text><text x="9.30" y="117.60" font-size="6.40" text-anchor="middle" font-weight="normal">J</text><text x="18.10" y="127.00" font-size="6.40" text-anchor="middle" font-weight="normal">-40</text><text x="32.98" y="127.00" font-size="6.40" text-anchor="middle" font-weight="normal">-30</text><text x="47.86" y="127.00" font-size="6.40" text-anchor="middle" font-weight="normal">-20</text><text x="62.74" y="127.00" font-size="6.40" text-anchor="middle" font-weight="normal">-10</text><text x="77.62" y="127.00" font-size="6.40" text-anchor="middle" font-weight="normal">0</text><text x="92.50" y="127.00" font-size="6.40" text-anchor="middle" font-weight="normal">10</text><text x="55.30" y="134.90" font-size="6.00" text-anchor="middle" font-weight="normal">Longitude (°E)</text><text x="21.40" y="30.70" font-size="13.50" text-anchor="start" font-weight="bold">a</text><text x="14.50" y="8.20" font-size="9.60" text-anchor="start" font-weight="normal">Observations</text><text x="103.57" y="18.40" font-size="6.40" text-anchor="middle" font-weight="normal">D</text><text x="103.57" y="27.42" font-size="6.40" text-anchor="middle" font-weight="normal">N</text><text x="103.57" y="36.44" font-size="6.40" text-anchor="middle" font-weight="normal">O</text><text x="103.57" y="45.45" font-size="6.40" text-anchor="middle" font-weight="normal">S</text><text x="103.57" y="54.47" font-size="6.40" text-anchor="middle" font-weight="normal">A</text><text x="103.57" y="63.49" font-size="6.40" text-anchor="middle" font-weight="normal">J</text><text x="103.57" y="72.51" font-size="6.40" text-anchor="middle" font-weight="normal">J</text><text x="103.57" y="81.53" font-size="6.40" text-anchor="middle" font-weight="normal">M</text><text x="103.57" y="90.55" font-size="6.40" text-anchor="middle" font-weight="normal">A</text><text x="103.57" y="99.56" font-size="6.40" text-anchor="middle" font-weight="normal">M</text><text x="103.57" y="108.58" font-size="6.40" text-anchor="middle" font-weight="normal">F</text><text x="103.57" y="117.60" font-size="6.40" text-anchor="middle" font-weight="normal">J</text><text x="112.37" y="127.00" font-size="6.40" text-anchor="middle" font-weight="normal">-40</text><text x="127.25" y="127.00" font-size="6.40" text-anchor="middle" font-weight="normal">-30</text><text x="142.13" y="127.00" font-size="6.40" text-anchor="middle" font-weight="normal">-20</text><text x="157.01" y="127.00" font-size="6.40" text-anchor="middle" font-weight="normal">-10</text><text x="171.89" y="127.00" font-size="6.40" text-anchor="middle" font-weight="normal">0</text><text x="186.77" y="127.00" font-size="6.40" text-anchor="middle" font-weight="normal">10</text><text x="149.57" y="134.90" font-size="6.00" text-anchor="middle" font-weight="normal">Longitude (°E)</text><text x="115.67" y="30.70" font-size="13.50" text-anchor="start" font-weight="bold">b</text><text x="108.77" y="8.20" font-size="9.60" text-anchor="start" font-weight="normal">1-month lead</text><text x="197.84" y="18.40" font-size="6.40" text-anchor="middle" font-weight="normal">D</text><text x="197.84" y="27.42" font-size="6.40" text-anchor="middle" font-weight="normal">N</text><text x="197.84" y="36.44" font-size="6.40" text-anchor="middle" font-weight="normal">O</text><text x="197.84" y="45.45" font-size="6.40" text-anchor="middle" font-weight="normal">S</text><text x="197.84" y="54.47" font-size="6.40" text-anchor="middle" font-weight="normal">A</text><text x="197.84" y="63.49" font-size="6.40" text-anchor="middle" font-weight="normal">J</text><text x="197.84" y="72.51" font-size="6.40" text-anchor="middle" font-weight="normal">J</text><text x="197.84" y="81.53" font-size="6.40" text-anchor="middle" font-weight="normal">M</text><text x="197.84" y="90.55" font-size="6.40" text-anchor="middle" font-weight="normal">A</text><text x="197.84" y="99.56" font-size="6.40" text-anchor="middle" font-weight="normal">M</text><text x="197.84" y="108.58" font-size="6.40" text-anchor="middle" font-weight="normal">F</text><text x="197.84" y="117.60" font-size="6.40" text-anchor="middle" font-weight="normal">J</text><text x="206.64" y="127.00" font-size="6.40" text-anchor="middle" font-weight="normal">-40</text><text x="221.52" y="127.00" font-size="6.40" text-anchor="middle" font-weight="normal">-30</text><text x="236.40" y="127.00" font-size="6.40" text-anchor="middle" font-weight="normal">-20</text><text x="251.28" y="127.00" font-size="6.40" text-anchor="middle" font-weight="normal">-10</text><text x="266.16" y="127.00" font-size="6.40" text-anchor="middle" font-weight="normal">0</text><text x="281.04" y="127.00" font-size="6.40" text-anchor="middle" font-weight="normal">10</text><text x="243.84" y="134.90" font-size="6.00" text-anchor="middle" font-weight="normal">Longitude (°E)</text><text x="209.94" y="30.70" font-size="13.50" text-anchor="start" font-weight="bold">c</text><text x="203.04" y="8.20" font-size="9.60" text-anchor="start" font-weight="normal">2-month lead</text><text x="292.11" y="18.40" font-size="6.40" text-anchor="middle" font-weight="normal">D</text><text x="292.11" y="27.42" font-size="6.40" text-anchor="middle" font-weight="normal">N</text><text x="292.11" y="36.44" font-size="6.40" text-anchor="middle" font-weight="normal">O</text><text x="292.11" y="45.45" font-size="6.40" text-anchor="middle" font-weight="normal">S</text><text x="292.11" y="54.47" font-size="6.40" text-anchor="middle" font-weight="normal">A</text><text x="292.11" y="63.49" font-size="6.40" text-anchor="middle" font-weight="normal">J</text><text x="292.11" y="72.51" font-size="6.40" text-anchor="middle" font-weight="normal">J</text><text x="292.11" y="81.53" font-size="6.40" text-anchor="middle" font-weight="normal">M</text><text x="292.11" y="90.55" font-size="6.40" text-anchor="middle" font-weight="normal">A</text><text x="292.11" y="99.56" font-size="6.40" text-anchor="middle" font-weight="normal">M</text><text x="292.11" y="108.58" font-size="6.40" text-anchor="middle" font-weight="normal">F</text><text x="292.11" y="117.60" font-size="6.40" text-anchor="middle" font-weight="normal">J</text><text x="300.91" y="127.00" font-size="6.40" text-anchor="middle" font-weight="normal">-40</text><text x="315.79" y="127.00" font-size="6.40" text-anchor="middle" font-weight="normal">-30</text><text x="330.67" y="127.00" font-size="6.40" text-anchor="middle" font-weight="normal">-20</text><text x="345.55" y="127.00" font-size="6.40" text-anchor="middle" font-weight="normal">-10</text><text x="360.43" y="127.00" font-size="6.40" text-anchor="middle" font-weight="normal">0</text><text x="375.31" y="127.00" font-size="6.40" text-anchor="middle" font-weight="normal">10</text><text x="338.11" y="134.90" font-size="6.00" text-anchor="middle" font-weight="normal">Longitude (°E)</text><text x="304.21" y="30.70" font-size="13.50" text-anchor="start" font-weight="bold">d</text><text x="297.31" y="8.20" font-size="9.60" text-anchor="start" font-weight="normal">3-month lead</text><text x="386.38" y="18.40" font-size="6.40" text-anchor="middle" font-weight="normal">D</text><text x="386.38" y="27.42" font-size="6.40" text-anchor="middle" font-weight="normal">N</text><text x="386.38" y="36.44" font-size="6.40" text-anchor="middle" font-weight="normal">O</text><text x="386.38" y="45.45" font-size="6.40" text-anchor="middle" font-weight="normal">S</text><text x="386.38" y="54.47" font-size="6.40" text-anchor="middle" font-weight="normal">A</text><text x="386.38" y="63.49" font-size="6.40" text-anchor="middle" font-weight="normal">J</text><text x="386.38" y="72.51" font-size="6.40" text-anchor="middle" font-weight="normal">J</text><text x="386.38" y="81.53" font-size="6.40" text-anchor="middle" font-weight="normal">M</text><text x="386.38" y="90.55" font-size="6.40" text-anchor="middle" font-weight="normal">A</text><text x="386.38" y="99.56" font-size="6.40" text-anchor="middle" font-weight="normal">M</text><text x="386.38" y="108.58" font-size="6.40" text-anchor="middle" font-weight="normal">F</text><text x="386.38" y="117.60" font-size="6.40" text-anchor="middle" font-weight="normal">J</text><text x="395.18" y="127.00" font-size="6.40" text-anchor="middle" font-weight="normal">-40</text><text x="410.06" y="127.00" font-size="6.40" text-anchor="middle" font-weight="normal">-30</text><text x="424.94" y="127.00" font-size="6.40" text-anchor="middle" font-weight="normal">-20</text><text x="439.82" y="127.00" font-size="6.40" text-anchor="middle" font-weight="normal">-10</text><text x="454.70" y="127.00" font-size="6.40" text-anchor="middle" font-weight="normal">0</text><text x="469.58" y="127.00" font-size="6.40" text-anchor="middle" font-weight="normal">10</text><text x="432.38" y="134.90" font-size="6.00" text-anchor="middle" font-weight="normal">Longitude (°E)</text><text x="398.48" y="30.70" font-size="13.50" text-anchor="start" font-weight="bold">e</text><text x="391.58" y="8.20" font-size="9.60" text-anchor="start" font-weight="normal">4-month lead</text><text x="480.65" y="18.40" font-size="6.40" text-anchor="middle" font-weight="normal">D</text><text x="480.65" y="27.42" font-size="6.40" text-anchor="middle" font-weight="normal">N</text><text x="480.65" y="36.44" font-size="6.40" text-anchor="middle" font-weight="normal">O</text><text x="480.65" y="45.45" font-size="6.40" text-anchor="middle" font-weight="normal">S</text><text x="480.65" y="54.47" font-size="6.40" text-anchor="middle" font-weight="normal">A</text><text x="480.65" y="63.49" font-size="6.40" text-anchor="middle" font-weight="normal">J</text><text x="480.65" y="72.51" font-size="6.40" text-anchor="middle" font-weight="normal">J</text><text x="480.65" y="81.53" font-size="6.40" text-anchor="middle" font-weight="normal">M</text><text x="480.65" y="90.55" font-size="6.40" text-anchor="middle" font-weight="normal">A</text><text x="480.65" y="99.56" font-size="6.40" text-anchor="middle" font-weight="normal">M</text><text x="480.65" y="108.58" font-size="6.40" text-anchor="middle" font-weight="normal">F</text><text x="480.65" y="117.60" font-size="6.40" text-anchor="middle" font-weight="normal">J</text><text x="489.45" y="127.00" font-size="6.40" text-anchor="middle" font-weight="normal">-40</text><text x="504.33" y="127.00" font-size="6.40" text-anchor="middle" font-weight="normal">-30</text><text x="519.21" y="127.00" font-size="6.40" text-anchor="middle" font-weight="normal">-20</text><text x="534.09" y="127.00" font-size="6.40" text-anchor="middle" font-weight="normal">-10</text><text x="548.97" y="127.00" font-size="6.40" text-anchor="middle" font-weight="normal">0</text><text x="563.85" y="127.00" font-size="6.40" text-anchor="middle" font-weight="normal">10</text><text x="526.65" y="134.90" font-size="6.00" text-anchor="middle" font-weight="normal">Longitude (°E)</text><text x="492.75" y="30.70" font-size="13.50" text-anchor="start" font-weight="bold">f</text><text x="485.85" y="8.20" font-size="9.60" text-anchor="start" font-weight="normal">5-month lead</text><text x="574.92" y="18.40" font-size="6.40" text-anchor="middle" font-weight="normal">D</text><text x="574.92" y="27.42" font-size="6.40" text-anchor="middle" font-weight="normal">N</text><text x="574.92" y="36.44" font-size="6.40" text-anchor="middle" font-weight="normal">O</text><text x="574.92" y="45.45" font-size="6.40" text-anchor="middle" font-weight="normal">S</text><text x="574.92" y="54.47" font-size="6.40" text-anchor="middle" font-weight="normal">A</text><text x="574.92" y="63.49" font-size="6.40" text-anchor="middle" font-weight="normal">J</text><text x="574.92" y="72.51" font-size="6.40" text-anchor="middle" font-weight="normal">J</text><text x="574.92" y="81.53" font-size="6.40" text-anchor="middle" font-weight="normal">M</text><text x="574.92" y="90.55" font-size="6.40" text-anchor="middle" font-weight="normal">A</text><text x="574.92" y="99.56" font-size="6.40" text-anchor="middle" font-weight="normal">M</text><text x="574.92" y="108.58" font-size="6.40" text-anchor="middle" font-weight="normal">F</text><text x="574.92" y="117.60" font-size="6.40" text-anchor="middle" font-weight="normal">J</text><text x="583.72" y="127.00" font-size="6.40" text-anchor="middle" font-weight="normal">-40</text><text x="598.60" y="127.00" font-size="6.40" text-anchor="middle" font-weight="normal">-30</text><text x="613.48" y="127.00" font-size="6.40" text-anchor="middle" font-weight="normal">-20</text><text x="628.36" y="127.00" font-size="6.40" text-anchor="middle" font-weight="normal">-10</text><text x="643.24" y="127.00" font-size="6.40" text-anchor="middle" font-weight="normal">0</text><text x="658.12" y="127.00" font-size="6.40" text-anchor="middle" font-weight="normal">10</text><text x="620.92" y="134.90" font-size="6.00" text-anchor="middle" font-weight="normal">Longitude (°E)</text><text x="587.02" y="30.70" font-size="13.50" text-anchor="start" font-weight="bold">g</text><text x="580.12" y="8.20" font-size="9.60" text-anchor="start" font-weight="normal">6-month lead</text><text x="9.30" y="145.60" font-size="6.40" text-anchor="middle" font-weight="normal">D</text><text x="9.30" y="154.60" font-size="6.40" text-anchor="middle" font-weight="normal">N</text><text x="9.30" y="163.60" font-size="6.40" text-anchor="middle" font-weight="normal">O</text><text x="9.30" y="172.60" font-size="6.40" text-anchor="middle" font-weight="normal">S</text><text x="9.30" y="181.60" font-size="6.40" text-anchor="middle" font-weight="normal">A</text><text x="9.30" y="190.60" font-size="6.40" text-anchor="middle" font-weight="normal">J</text><text x="9.30" y="199.60" font-size="6.40" text-anchor="middle" font-weight="normal">J</text><text x="9.30" y="208.60" font-size="6.40" text-anchor="middle" font-weight="normal">M</text><text x="9.30" y="217.60" font-size="6.40" text-anchor="middle" font-weight="normal">A</text><text x="9.30" y="226.60" font-size="6.40" text-anchor="middle" font-weight="normal">M</text><text x="9.30" y="235.60" font-size="6.40" text-anchor="middle" font-weight="normal">F</text><text x="9.30" y="244.60" font-size="6.40" text-anchor="middle" font-weight="normal">J</text><text x="22.38" y="254.00" font-size="6.40" text-anchor="middle" font-weight="normal">-5</text><text x="38.84" y="254.00" font-size="6.40" text-anchor="middle" font-weight="normal">0</text><text x="55.30" y="254.00" font-size="6.40" text-anchor="middle" font-weight="normal">5</text><text x="71.76" y="254.00" font-size="6.40" text-anchor="middle" font-weight="normal">10</text><text x="88.22" y="254.00" font-size="6.40" text-anchor="middle" font-weight="normal">15</text><text x="55.30" y="261.90" font-size="6.00" text-anchor="middle" font-weight="normal">Latitude (°N)</text><text x="21.40" y="157.90" font-size="13.50" text-anchor="start" font-weight="bold">h</text><text x="103.57" y="145.60" font-size="6.40" text-anchor="middle" font-weight="normal">D</text><text x="103.57" y="154.60" font-size="6.40" text-anchor="middle" font-weight="normal">N</text><text x="103.57" y="163.60" font-size="6.40" text-anchor="middle" font-weight="normal">O</text><text x="103.57" y="172.60" font-size="6.40" text-anchor="middle" font-weight="normal">S</text><text x="103.57" y="181.60" font-size="6.40" text-anchor="middle" font-weight="normal">A</text><text x="103.57" y="190.60" font-size="6.40" text-anchor="middle" font-weight="normal">J</text><text x="103.57" y="199.60" font-size="6.40" text-anchor="middle" font-weight="normal">J</text><text x="103.57" y="208.60" font-size="6.40" text-anchor="middle" font-weight="normal">M</text><text x="103.57" y="217.60" font-size="6.40" text-anchor="middle" font-weight="normal">A</text><text x="103.57" y="226.60" font-size="6.40" text-anchor="middle" font-weight="normal">M</text><text x="103.57" y="235.60" font-size="6.40" text-anchor="middle" font-weight="normal">F</text><text x="103.57" y="244.60" font-size="6.40" text-anchor="middle" font-weight="normal">J</text><text x="116.65" y="254.00" font-size="6.40" text-anchor="middle" font-weight="normal">-5</text><text x="133.11" y="254.00" font-size="6.40" text-anchor="middle" font-weight="normal">0</text><text x="149.57" y="254.00" font-size="6.40" text-anchor="middle" font-weight="normal">5</text><text x="166.03" y="254.00" font-size="6.40" text-anchor="middle" font-weight="normal">10</text><text x="182.49" y="254.00" font-size="6.40" text-anchor="middle" font-weight="normal">15</text><text x="149.57" y="261.90" font-size="6.00" text-anchor="middle" font-weight="normal">Latitude (°N)</text><text x="115.67" y="157.90" font-size="13.50" text-anchor="start" font-weight="bold">i</text><text x="197.84" y="145.60" font-size="6.40" text-anchor="middle" font-weight="normal">D</text><text x="197.84" y="154.60" font-size="6.40" text-anchor="middle" font-weight="normal">N</text><text x="197.84" y="163.60" font-size="6.40" text-anchor="middle" font-weight="normal">O</text><text x="197.84" y="172.60" font-size="6.40" text-anchor="middle" font-weight="normal">S</text><text x="197.84" y="181.60" font-size="6.40" text-anchor="middle" font-weight="normal">A</text><text x="197.84" y="190.60" font-size="6.40" text-anchor="middle" font-weight="normal">J</text><text x="197.84" y="199.60" font-size="6.40" text-anchor="middle" font-weight="normal">J</text><text x="197.84" y="208.60" font-size="6.40" text-anchor="middle" font-weight="normal">M</text><text x="197.84" y="217.60" font-size="6.40" text-anchor="middle" font-weight="normal">A</text><text x="197.84" y="226.60" font-size="6.40" text-anchor="middle" font-weight="normal">M</text><text x="197.84" y="235.60" font-size="6.40" text-anchor="middle" font-weight="normal">F</text><text x="197.84" y="244.60" font-size="6.40" text-anchor="middle" font-weight="normal">J</text><text x="210.92" y="254.00" font-size="6.40" text-anchor="middle" font-weight="normal">-5</text><text x="227.38" y="254.00" font-size="6.40" text-anchor="middle" font-weight="normal">0</text><text x="243.84" y="254.00" font-size="6.40" text-anchor="middle" font-weight="normal">5</text><text x="260.30" y="254.00" font-size="6.40" text-anchor="middle" font-weight="normal">10</text><text x="276.76" y="254.00" font-size="6.40" text-anchor="middle" font-weight="normal">15</text><text x="243.84" y="261.90" font-size="6.00" text-anchor="middle" font-weight="normal">Latitude (°N)</text><text x="209.94" y="157.90" font-size="13.50" text-anchor="start" font-weight="bold">j</text><text x="292.11" y="145.60" font-size="6.40" text-anchor="middle" font-weight="normal">D</text><text x="292.11" y="154.60" font-size="6.40" text-anchor="middle" font-weight="normal">N</text><text x="292.11" y="163.60" font-size="6.40" text-anchor="middle" font-weight="normal">O</text><text x="292.11" y="172.60" font-size="6.40" text-anchor="middle" font-weight="normal">S</text><text x="292.11" y="181.60" font-size="6.40" text-anchor="middle" font-weight="normal">A</text><text x="292.11" y="190.60" font-size="6.40" text-anchor="middle" font-weight="normal">J</text><text x="292.11" y="199.60" font-size="6.40" text-anchor="middle" font-weight="normal">J</text><text x="292.11" y="208.60" font-size="6.40" text-anchor="middle" font-weight="normal">M</text><text x="292.11" y="217.60" font-size="6.40" text-anchor="middle" font-weight="normal">A</text><text x="292.11" y="226.60" font-size="6.40" text-anchor="middle" font-weight="normal">M</text><text x="292.11" y="235.60" font-size="6.40" text-anchor="middle" font-weight="normal">F</text><text x="292.11" y="244.60" font-size="6.40" text-anchor="middle" font-weight="normal">J</text><text x="305.19" y="254.00" font-size="6.40" text-anchor="middle" font-weight="normal">-5</text><text x="321.65" y="254.00" font-size="6.40" text-anchor="middle" font-weight="normal">0</text><text x="338.11" y="254.00" font-size="6.40" text-anchor="middle" font-weight="normal">5</text><text x="354.57" y="254.00" font-size="6.40" text-anchor="middle" font-weight="normal">10</text><text x="371.03" y="254.00" font-size="6.40" text-anchor="middle" font-weight="normal">15</text><text x="338.11" y="261.90" font-size="6.00" text-anchor="middle" font-weight="normal">Latitude (°N)</text><text x="304.21" y="157.90" font-size="13.50" text-anchor="start" font-weight="bold">k</text><text x="386.38" y="145.60" font-size="6.40" text-anchor="middle" font-weight="normal">D</text><text x="386.38" y="154.60" font-size="6.40" text-anchor="middle" font-weight="normal">N</text><text x="386.38" y="163.60" font-size="6.40" text-anchor="middle" font-weight="normal">O</text><text x="386.38" y="172.60" font-size="6.40" text-anchor="middle" font-weight="normal">S</text><text x="386.38" y="181.60" font-size="6.40" text-anchor="middle" font-weight="normal">A</text><text x="386.38" y="190.60" font-size="6.40" text-anchor="middle" font-weight="normal">J</text><text x="386.38" y="199.60" font-size="6.40" text-anchor="middle" font-weight="normal">J</text><text x="386.38" y="208.60" font-size="6.40" text-anchor="middle" font-weight="normal">M</text><text x="386.38" y="217.60" font-size="6.40" text-anchor="middle" font-weight="normal">A</text><text x="386.38" y="226.60" font-size="6.40" text-anchor="middle" font-weight="normal">M</text><text x="386.38" y="235.60" font-size="6.40" text-anchor="middle" font-weight="normal">F</text><text x="386.38" y="244.60" font-size="6.40" text-anchor="middle" font-weight="normal">J</text><text x="399.46" y="254.00" font-size="6.40" text-anchor="middle" font-weight="normal">-5</text><text x="415.92" y="254.00" font-size="6.40" text-anchor="middle" font-weight="normal">0</text><text x="432.38" y="254.00" font-size="6.40" text-anchor="middle" font-weight="normal">5</text><text x="448.84" y="254.00" font-size="6.40" text-anchor="middle" font-weight="normal">10</text><text x="465.30" y="254.00" font-size="6.40" text-anchor="middle" font-weight="normal">15</text><text x="432.38" y="261.90" font-size="6.00" text-anchor="middle" font-weight="normal">Latitude (°N)</text><text x="398.48" y="157.90" font-size="13.50" text-anchor="start" font-weight="bold">l</text><text x="480.65" y="145.60" font-size="6.40" text-anchor="middle" font-weight="normal">D</text><text x="480.65" y="154.60" font-size="6.40" text-anchor="middle" font-weight="normal">N</text><text x="480.65" y="163.60" font-size="6.40" text-anchor="middle" font-weight="normal">O</text><text x="480.65" y="172.60" font-size="6.40" text-anchor="middle" font-weight="normal">S</text><text x="480.65" y="181.60" font-size="6.40" text-anchor="middle" font-weight="normal">A</text><text x="480.65" y="190.60" font-size="6.40" text-anchor="middle" font-weight="normal">J</text><text x="480.65" y="199.60" font-size="6.40" text-anchor="middle" font-weight="normal">J</text><text x="480.65" y="208.60" font-size="6.40" text-anchor="middle" font-weight="normal">M</text><text x="480.65" y="217.60" font-size="6.40" text-anchor="middle" font-weight="normal">A</text><text x="480.65" y="226.60" font-size="6.40" text-anchor="middle" font-weight="normal">M</text><text x="480.65" y="235.60" font-size="6.40" text-anchor="middle" font-weight="normal">F</text><text x="480.65" y="244.60" font-size="6.40" text-anchor="middle" font-weight="normal">J</text><text x="493.73" y="254.00" font-size="6.40" text-anchor="middle" font-weight="normal">-5</text><text x="510.19" y="254.00" font-size="6.40" text-anchor="middle" font-weight="normal">0</text><text x="526.65" y="254.00" font-size="6.40" text-anchor="middle" font-weight="normal">5</text><text x="543.11" y="254.00" font-size="6.40" text-anchor="middle" font-weight="normal">10</text><text x="559.57" y="254.00" font-size="6.40" text-anchor="middle" font-weight="normal">15</text><text x="526.65" y="261.90" font-size="6.00" text-anchor="middle" font-weight="normal">Latitude (°N)</text><text x="492.75" y="157.90" font-size="13.50" text-anchor="start" font-weight="bold">m</text><text x="574.92" y="145.60" font-size="6.40" text-anchor="middle" font-weight="normal">D</text><text x="574.92" y="154.60" font-size="6.40" text-anchor="middle" font-weight="normal">N</text><text x="574.92" y="163.60" font-size="6.40" text-anchor="middle" font-weight="normal">O</text><text x="574.92" y="172.60" font-size="6.40" text-anchor="middle" font-weight="normal">S</text><text x="574.92" y="181.60" font-size="6.40" text-anchor="middle" font-weight="normal">A</text><text x="574.92" y="190.60" font-size="6.40" text-anchor="middle" font-weight="normal">J</text><text x="574.92" y="199.60" font-size="6.40" text-anchor="middle" font-weight="normal">J</text><text x="574.92" y="208.60" font-size="6.40" text-anchor="middle" font-weight="normal">M</text><text x="574.92" y="217.60" font-size="6.40" text-anchor="middle" font-weight="normal">A</text><text x="574.92" y="226.60" font-size="6.40" text-anchor="middle" font-weight="normal">M</text><text x="574.92" y="235.60" font-size="6.40" text-anchor="middle" font-weight="normal">F</text><text x="574.92" y="244.60" font-size="6.40" text-anchor="middle" font-weight="normal">J</text><text x="588.00" y="254.00" font-size="6.40" text-anchor="middle" font-weight="normal">-5</text><text x="604.46" y="254.00" font-size="6.40" text-anchor="middle" font-weight="normal">0</text><text x="620.92" y="254.00" font-size="6.40" text-anchor="middle" font-weight="normal">5</text><text x="637.38" y="254.00" font-size="6.40" text-anchor="middle" font-weight="normal">10</text><text x="653.84" y="254.00" font-size="6.40" text-anchor="middle" font-weight="normal">15</text><text x="620.92" y="261.90" font-size="6.00" text-anchor="middle" font-weight="normal">Latitude (°N)</text><text x="587.02" y="157.90" font-size="13.50" text-anchor="start" font-weight="bold">n</text><text x="666.00" y="22.50" font-size="7.10" text-anchor="start" font-weight="normal">0.7</text><text x="668.00" y="71.45" font-size="7.10" text-anchor="start" font-weight="normal">0</text><text x="665.30" y="120.80" font-size="7.10" text-anchor="start" font-weight="normal">-0.7</text><text transform="translate(677.50 68.65) rotate(90)" font-size="7.2" text-anchor="middle">SST anomaly (K)</text><text x="666.40" y="149.80" font-size="7.10" text-anchor="start" font-weight="normal">2</text><text x="668.40" y="198.90" font-size="7.10" text-anchor="start" font-weight="normal">0</text><text x="665.70" y="248.40" font-size="7.10" text-anchor="start" font-weight="normal">-2</text><text transform="translate(677.50 196.10) rotate(90)" font-size="7.2" text-anchor="middle">Precipitation anomaly (mm day<tspan dy="-2" font-size="5">-1</tspan><tspan dy="2">)</tspan></text><text x="78.05" y="282.90" font-size="7.20" text-anchor="middle" font-weight="normal">r = 0.90</text><text x="16.50" y="373.70" font-size="6.20" text-anchor="end" font-weight="normal">1992</text><text x="95.60" y="373.70" font-size="6.20" text-anchor="start" font-weight="normal">1992</text><text x="16.50" y="357.35" font-size="6.20" text-anchor="end" font-weight="normal">1996</text><text x="95.60" y="357.35" font-size="6.20" text-anchor="start" font-weight="normal">1996</text><text x="16.50" y="341.00" font-size="6.20" text-anchor="end" font-weight="normal">2000</text><text x="95.60" y="341.00" font-size="6.20" text-anchor="start" font-weight="normal">2000</text><text x="16.50" y="324.65" font-size="6.20" text-anchor="end" font-weight="normal">2004</text><text x="95.60" y="324.65" font-size="6.20" text-anchor="start" font-weight="normal">2004</text><text x="16.50" y="308.30" font-size="6.20" text-anchor="end" font-weight="normal">2008</text><text x="95.60" y="308.30" font-size="6.20" text-anchor="start" font-weight="normal">2008</text><text x="16.50" y="291.95" font-size="6.20" text-anchor="end" font-weight="normal">2012</text><text x="95.60" y="291.95" font-size="6.20" text-anchor="start" font-weight="normal">2012</text><text x="16.50" y="275.60" font-size="6.20" text-anchor="end" font-weight="normal">2016</text><text x="95.60" y="275.60" font-size="6.20" text-anchor="start" font-weight="normal">2016</text><text x="19.50" y="382.70" font-size="6.40" text-anchor="middle" font-weight="normal">-3</text><text x="31.82" y="382.70" font-size="6.40" text-anchor="middle" font-weight="normal">-2</text><text x="44.13" y="382.70" font-size="6.40" text-anchor="middle" font-weight="normal">-1</text><text x="56.45" y="382.70" font-size="6.40" text-anchor="middle" font-weight="normal">0</text><text x="68.77" y="382.70" font-size="6.40" text-anchor="middle" font-weight="normal">1</text><text x="81.08" y="382.70" font-size="6.40" text-anchor="middle" font-weight="normal">2</text><text x="93.40" y="382.70" font-size="6.40" text-anchor="middle" font-weight="normal">3</text><text x="56.45" y="391.90" font-size="6.60" text-anchor="middle" font-weight="normal">Standard Deviations</text><text x="23.10" y="285.50" font-size="13.50" text-anchor="start" font-weight="bold">o</text><text x="173.05" y="282.90" font-size="7.20" text-anchor="middle" font-weight="normal">r = 0.93</text><text x="190.60" y="373.70" font-size="6.20" text-anchor="start" font-weight="normal">1992</text><text x="190.60" y="357.35" font-size="6.20" text-anchor="start" font-weight="normal">1996</text><text x="190.60" y="341.00" font-size="6.20" text-anchor="start" font-weight="normal">2000</text><text x="190.60" y="324.65" font-size="6.20" text-anchor="start" font-weight="normal">2004</text><text x="190.60" y="308.30" font-size="6.20" text-anchor="start" font-weight="normal">2008</text><text x="190.60" y="291.95" font-size="6.20" text-anchor="start" font-weight="normal">2012</text><text x="190.60" y="275.60" font-size="6.20" text-anchor="start" font-weight="normal">2016</text><text x="114.50" y="382.70" font-size="6.40" text-anchor="middle" font-weight="normal">-3</text><text x="126.82" y="382.70" font-size="6.40" text-anchor="middle" font-weight="normal">-2</text><text x="139.13" y="382.70" font-size="6.40" text-anchor="middle" font-weight="normal">-1</text><text x="151.45" y="382.70" font-size="6.40" text-anchor="middle" font-weight="normal">0</text><text x="163.77" y="382.70" font-size="6.40" text-anchor="middle" font-weight="normal">1</text><text x="176.08" y="382.70" font-size="6.40" text-anchor="middle" font-weight="normal">2</text><text x="188.40" y="382.70" font-size="6.40" text-anchor="middle" font-weight="normal">3</text><text x="151.45" y="391.90" font-size="6.60" text-anchor="middle" font-weight="normal">Standard Deviations</text><text x="118.10" y="285.50" font-size="13.50" text-anchor="start" font-weight="bold">p</text><text x="268.05" y="282.90" font-size="7.20" text-anchor="middle" font-weight="normal">r = 0.91</text><text x="285.60" y="373.70" font-size="6.20" text-anchor="start" font-weight="normal">1992</text><text x="285.60" y="357.35" font-size="6.20" text-anchor="start" font-weight="normal">1996</text><text x="285.60" y="341.00" font-size="6.20" text-anchor="start" font-weight="normal">2000</text><text x="285.60" y="324.65" font-size="6.20" text-anchor="start" font-weight="normal">2004</text><text x="285.60" y="308.30" font-size="6.20" text-anchor="start" font-weight="normal">2008</text><text x="285.60" y="291.95" font-size="6.20" text-anchor="start" font-weight="normal">2012</text><text x="285.60" y="275.60" font-size="6.20" text-anchor="start" font-weight="normal">2016</text><text x="209.50" y="382.70" font-size="6.40" text-anchor="middle" font-weight="normal">-3</text><text x="221.82" y="382.70" font-size="6.40" text-anchor="middle" font-weight="normal">-2</text><text x="234.13" y="382.70" font-size="6.40" text-anchor="middle" font-weight="normal">-1</text><text x="246.45" y="382.70" font-size="6.40" text-anchor="middle" font-weight="normal">0</text><text x="258.77" y="382.70" font-size="6.40" text-anchor="middle" font-weight="normal">1</text><text x="271.08" y="382.70" font-size="6.40" text-anchor="middle" font-weight="normal">2</text><text x="283.40" y="382.70" font-size="6.40" text-anchor="middle" font-weight="normal">3</text><text x="246.45" y="391.90" font-size="6.60" text-anchor="middle" font-weight="normal">Standard Deviations</text><text x="213.10" y="285.50" font-size="13.50" text-anchor="start" font-weight="bold">q</text><text x="363.05" y="282.90" font-size="7.20" text-anchor="middle" font-weight="normal">r = 0.91</text><text x="380.60" y="373.70" font-size="6.20" text-anchor="start" font-weight="normal">1992</text><text x="380.60" y="357.35" font-size="6.20" text-anchor="start" font-weight="normal">1996</text><text x="380.60" y="341.00" font-size="6.20" text-anchor="start" font-weight="normal">2000</text><text x="380.60" y="324.65" font-size="6.20" text-anchor="start" font-weight="normal">2004</text><text x="380.60" y="308.30" font-size="6.20" text-anchor="start" font-weight="normal">2008</text><text x="380.60" y="291.95" font-size="6.20" text-anchor="start" font-weight="normal">2012</text><text x="380.60" y="275.60" font-size="6.20" text-anchor="start" font-weight="normal">2016</text><text x="304.50" y="382.70" font-size="6.40" text-anchor="middle" font-weight="normal">-3</text><text x="316.82" y="382.70" font-size="6.40" text-anchor="middle" font-weight="normal">-2</text><text x="329.13" y="382.70" font-size="6.40" text-anchor="middle" font-weight="normal">-1</text><text x="341.45" y="382.70" font-size="6.40" text-anchor="middle" font-weight="normal">0</text><text x="353.77" y="382.70" font-size="6.40" text-anchor="middle" font-weight="normal">1</text><text x="366.08" y="382.70" font-size="6.40" text-anchor="middle" font-weight="normal">2</text><text x="378.40" y="382.70" font-size="6.40" text-anchor="middle" font-weight="normal">3</text><text x="341.45" y="391.90" font-size="6.60" text-anchor="middle" font-weight="normal">Standard Deviations</text><text x="308.10" y="285.50" font-size="13.50" text-anchor="start" font-weight="bold">r</text><text x="458.05" y="282.90" font-size="7.20" text-anchor="middle" font-weight="normal">r = 0.93</text><text x="475.60" y="373.70" font-size="6.20" text-anchor="start" font-weight="normal">1992</text><text x="475.60" y="357.35" font-size="6.20" text-anchor="start" font-weight="normal">1996</text><text x="475.60" y="341.00" font-size="6.20" text-anchor="start" font-weight="normal">2000</text><text x="475.60" y="324.65" font-size="6.20" text-anchor="start" font-weight="normal">2004</text><text x="475.60" y="308.30" font-size="6.20" text-anchor="start" font-weight="normal">2008</text><text x="475.60" y="291.95" font-size="6.20" text-anchor="start" font-weight="normal">2012</text><text x="475.60" y="275.60" font-size="6.20" text-anchor="start" font-weight="normal">2016</text><text x="399.50" y="382.70" font-size="6.40" text-anchor="middle" font-weight="normal">-3</text><text x="411.82" y="382.70" font-size="6.40" text-anchor="middle" font-weight="normal">-2</text><text x="424.13" y="382.70" font-size="6.40" text-anchor="middle" font-weight="normal">-1</text><text x="436.45" y="382.70" font-size="6.40" text-anchor="middle" font-weight="normal">0</text><text x="448.77" y="382.70" font-size="6.40" text-anchor="middle" font-weight="normal">1</text><text x="461.08" y="382.70" font-size="6.40" text-anchor="middle" font-weight="normal">2</text><text x="473.40" y="382.70" font-size="6.40" text-anchor="middle" font-weight="normal">3</text><text x="436.45" y="391.90" font-size="6.60" text-anchor="middle" font-weight="normal">Standard Deviations</text><text x="403.10" y="285.50" font-size="13.50" text-anchor="start" font-weight="bold">s</text><text x="553.05" y="282.90" font-size="7.20" text-anchor="middle" font-weight="normal">r = 0.93</text><text x="570.60" y="373.70" font-size="6.20" text-anchor="start" font-weight="normal">1992</text><text x="570.60" y="357.35" font-size="6.20" text-anchor="start" font-weight="normal">1996</text><text x="570.60" y="341.00" font-size="6.20" text-anchor="start" font-weight="normal">2000</text><text x="570.60" y="324.65" font-size="6.20" text-anchor="start" font-weight="normal">2004</text><text x="570.60" y="308.30" font-size="6.20" text-anchor="start" font-weight="normal">2008</text><text x="570.60" y="291.95" font-size="6.20" text-anchor="start" font-weight="normal">2012</text><text x="570.60" y="275.60" font-size="6.20" text-anchor="start" font-weight="normal">2016</text><text x="494.50" y="382.70" font-size="6.40" text-anchor="middle" font-weight="normal">-3</text><text x="506.82" y="382.70" font-size="6.40" text-anchor="middle" font-weight="normal">-2</text><text x="519.13" y="382.70" font-size="6.40" text-anchor="middle" font-weight="normal">-1</text><text x="531.45" y="382.70" font-size="6.40" text-anchor="middle" font-weight="normal">0</text><text x="543.77" y="382.70" font-size="6.40" text-anchor="middle" font-weight="normal">1</text><text x="556.08" y="382.70" font-size="6.40" text-anchor="middle" font-weight="normal">2</text><text x="568.40" y="382.70" font-size="6.40" text-anchor="middle" font-weight="normal">3</text><text x="531.45" y="391.90" font-size="6.60" text-anchor="middle" font-weight="normal">Standard Deviations</text><text x="498.10" y="285.50" font-size="13.50" text-anchor="start" font-weight="bold">t</text><text x="648.05" y="282.90" font-size="7.20" text-anchor="middle" font-weight="normal">r = 0.94</text><text x="665.60" y="373.70" font-size="6.20" text-anchor="start" font-weight="normal">1992</text><text x="665.60" y="357.35" font-size="6.20" text-anchor="start" font-weight="normal">1996</text><text x="665.60" y="341.00" font-size="6.20" text-anchor="start" font-weight="normal">2000</text><text x="665.60" y="324.65" font-size="6.20" text-anchor="start" font-weight="normal">2004</text><text x="665.60" y="308.30" font-size="6.20" text-anchor="start" font-weight="normal">2008</text><text x="665.60" y="291.95" font-size="6.20" text-anchor="start" font-weight="normal">2012</text><text x="665.60" y="275.60" font-size="6.20" text-anchor="start" font-weight="normal">2016</text><text x="589.50" y="382.70" font-size="6.40" text-anchor="middle" font-weight="normal">-3</text><text x="601.82" y="382.70" font-size="6.40" text-anchor="middle" font-weight="normal">-2</text><text x="614.13" y="382.70" font-size="6.40" text-anchor="middle" font-weight="normal">-1</text><text x="626.45" y="382.70" font-size="6.40" text-anchor="middle" font-weight="normal">0</text><text x="638.77" y="382.70" font-size="6.40" text-anchor="middle" font-weight="normal">1</text><text x="651.08" y="382.70" font-size="6.40" text-anchor="middle" font-weight="normal">2</text><text x="663.40" y="382.70" font-size="6.40" text-anchor="middle" font-weight="normal">3</text><text x="626.45" y="391.90" font-size="6.60" text-anchor="middle" font-weight="normal">Standard Deviations</text><text x="593.10" y="285.50" font-size="13.50" text-anchor="start" font-weight="bold">u</text></g>
</svg></body></html>
